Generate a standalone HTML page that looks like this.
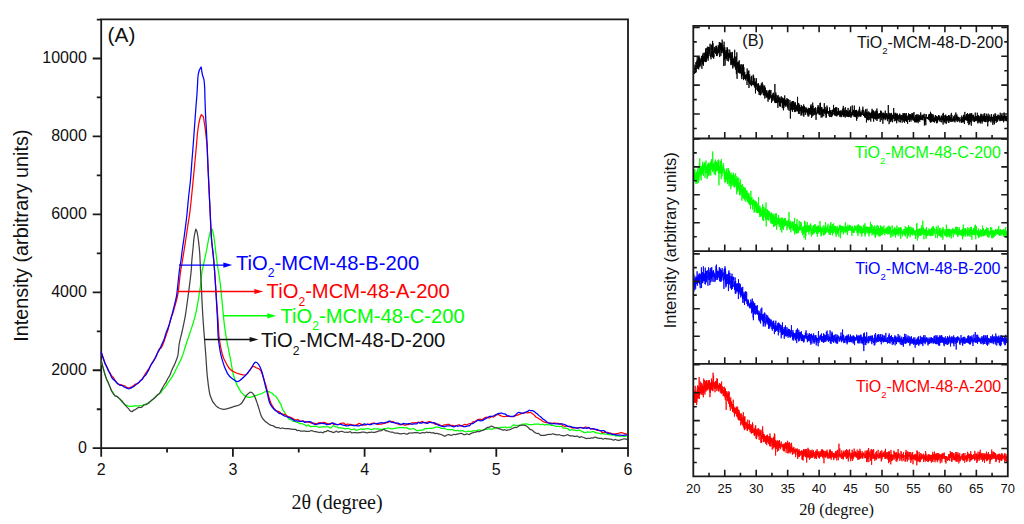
<!DOCTYPE html>
<html><head><meta charset="utf-8"><title>XRD patterns</title>
<style>html,body{margin:0;padding:0;background:#fff;} svg{display:block;}</style></head>
<body><svg width="1024" height="524" viewBox="0 0 1024 524">
<rect width="1024" height="524" fill="#fff"/>
<path d="M101.2,19.4 H628.0 V448.2 H101.2 Z" fill="none" stroke="#1a1a1a" stroke-width="1.8" stroke-linejoin="miter"/>
<path d="M92.70,448.20 H101.2 M96.80,409.23 H101.2 M92.70,370.26 H101.2 M96.80,331.29 H101.2 M92.70,292.32 H101.2 M96.80,253.35 H101.2 M92.70,214.38 H101.2 M96.80,175.41 H101.2 M92.70,136.44 H101.2 M96.80,97.47 H101.2 M92.70,58.50 H101.2 M96.80,19.53 H101.2 M101.20,448.2 V456.70 M167.05,448.2 V452.60 M232.90,448.2 V456.70 M298.75,448.2 V452.60 M364.60,448.2 V456.70 M430.45,448.2 V452.60 M496.30,448.2 V456.70 M562.15,448.2 V452.60 M628.00,448.2 V456.70" stroke="#1a1a1a" stroke-width="1.8" fill="none"/>
<text x="86.8" y="452.80" text-anchor="end" font-family="Liberation Sans" font-size="16" fill="#111">0</text>
<text x="86.8" y="374.86" text-anchor="end" font-family="Liberation Sans" font-size="16" fill="#111">2000</text>
<text x="86.8" y="296.92" text-anchor="end" font-family="Liberation Sans" font-size="16" fill="#111">4000</text>
<text x="86.8" y="218.98" text-anchor="end" font-family="Liberation Sans" font-size="16" fill="#111">6000</text>
<text x="86.8" y="141.04" text-anchor="end" font-family="Liberation Sans" font-size="16" fill="#111">8000</text>
<text x="86.8" y="63.10" text-anchor="end" font-family="Liberation Sans" font-size="16" fill="#111">10000</text>
<text x="101.20" y="474.7" text-anchor="middle" font-family="Liberation Sans" font-size="16" fill="#111">2</text>
<text x="232.90" y="474.7" text-anchor="middle" font-family="Liberation Sans" font-size="16" fill="#111">3</text>
<text x="364.60" y="474.7" text-anchor="middle" font-family="Liberation Sans" font-size="16" fill="#111">4</text>
<text x="496.30" y="474.7" text-anchor="middle" font-family="Liberation Sans" font-size="16" fill="#111">5</text>
<text x="628.00" y="474.7" text-anchor="middle" font-family="Liberation Sans" font-size="16" fill="#111">6</text>
<text transform="translate(28.0,235.6) rotate(-90)" text-anchor="middle" font-family="Liberation Sans" font-size="19.8" fill="#111">Intensity (arbitrary units)</text>
<text x="337" y="508.7" text-anchor="middle" font-family="Liberation Serif" font-size="20" fill="#111">2θ (degree)</text>
<text x="107.6" y="41.7" font-family="Liberation Sans" font-size="20.8" fill="#111">(A)</text>
<g fill="none" stroke-width="1.25" stroke-linejoin="round">
<path d="M101.00,360.00 C101.65,362.34 103.97,370.83 104.90,374.04 C105.83,377.25 106.03,377.81 106.60,379.25 C107.17,380.68 107.73,381.34 108.30,382.64 C108.87,383.94 109.43,385.74 110.00,387.06 C110.57,388.38 111.13,389.57 111.70,390.57 C112.27,391.57 112.83,392.22 113.40,393.06 C113.97,393.89 114.53,394.99 115.10,395.58 C115.67,396.16 116.23,396.20 116.80,396.55 C117.37,396.90 117.93,397.16 118.50,397.67 C119.07,398.19 119.63,398.94 120.20,399.64 C120.77,400.33 121.33,401.23 121.90,401.85 C122.47,402.47 123.03,402.82 123.60,403.35 C124.17,403.87 124.73,404.64 125.30,404.99 C125.87,405.33 126.43,405.24 127.00,405.41 C127.57,405.58 128.13,405.86 128.70,406.03 C129.27,406.19 129.83,406.36 130.40,406.39 C130.97,406.42 131.53,406.27 132.10,406.23 C132.67,406.18 133.23,406.18 133.80,406.11 C134.37,406.04 134.93,405.82 135.50,405.78 C136.07,405.74 136.63,405.89 137.20,405.90 C137.77,405.90 138.33,405.86 138.90,405.81 C139.47,405.76 140.03,405.64 140.60,405.57 C141.17,405.51 141.73,405.63 142.30,405.45 C142.87,405.26 143.43,404.70 144.00,404.48 C144.57,404.25 145.13,404.27 145.70,404.12 C146.27,403.96 146.83,403.74 147.40,403.53 C147.97,403.32 148.53,403.25 149.10,402.86 C149.67,402.46 150.23,401.67 150.80,401.17 C151.37,400.67 151.93,400.40 152.50,399.85 C153.07,399.30 153.63,398.34 154.20,397.85 C154.77,397.37 155.33,397.40 155.90,396.92 C156.47,396.44 157.03,395.57 157.60,394.98 C158.17,394.39 158.73,393.79 159.30,393.39 C159.87,392.99 160.43,393.22 161.00,392.58 C161.57,391.94 162.13,390.29 162.70,389.53 C163.27,388.78 163.83,388.67 164.40,388.05 C164.97,387.44 165.53,386.66 166.10,385.84 C166.67,385.02 167.23,383.99 167.80,383.14 C168.37,382.30 168.93,381.59 169.50,380.76 C170.07,379.93 170.63,379.03 171.20,378.17 C171.77,377.31 172.33,376.60 172.90,375.60 C173.47,374.60 173.10,375.23 174.60,372.17 C176.10,369.10 180.08,361.56 181.90,357.20 C183.72,352.84 184.05,350.37 185.50,346.00 C186.95,341.63 188.98,336.03 190.60,331.00 C192.22,325.97 193.93,320.88 195.20,315.80 C196.47,310.72 197.32,305.58 198.20,300.50 C199.08,295.42 199.87,290.05 200.50,285.30 C201.13,280.55 201.33,276.22 202.00,272.00 C202.67,267.78 203.67,264.00 204.50,260.00 C205.33,256.00 206.28,251.67 207.00,248.00 C207.72,244.33 208.22,240.75 208.80,238.00 C209.38,235.25 210.10,232.90 210.50,231.50 C210.90,230.10 211.02,230.08 211.20,229.60 C211.38,229.12 211.45,228.60 211.60,228.60 C211.75,228.60 211.87,229.03 212.10,229.60 C212.33,230.17 212.60,230.10 213.00,232.00 C213.40,233.90 213.83,236.00 214.50,241.00 C215.17,246.00 216.05,254.98 217.00,262.00 C217.95,269.02 219.32,276.08 220.20,283.10 C221.08,290.12 221.60,297.10 222.30,304.10 C223.00,311.10 223.70,319.27 224.40,325.10 C225.10,330.93 225.52,333.58 226.50,339.10 C227.48,344.62 229.03,351.83 230.30,358.20 C231.57,364.57 232.35,371.73 234.10,377.30 C235.85,382.87 238.42,388.27 240.80,391.60 C243.18,394.93 245.85,396.67 248.40,397.30 C250.95,397.93 253.87,396.03 256.10,395.40 C258.33,394.77 260.22,394.15 261.80,393.50 C263.38,392.85 264.68,391.83 265.60,391.47 C266.52,391.11 266.73,391.33 267.30,391.36 C267.87,391.40 268.43,391.45 269.00,391.68 C269.57,391.91 270.13,392.45 270.70,392.74 C271.27,393.03 271.83,392.97 272.40,393.41 C272.97,393.85 273.53,394.87 274.10,395.36 C274.67,395.84 275.23,395.74 275.80,396.31 C276.37,396.88 276.93,397.86 277.50,398.78 C278.07,399.69 278.63,400.87 279.20,401.82 C279.77,402.77 280.33,403.18 280.90,404.45 C281.47,405.72 282.03,408.19 282.60,409.42 C283.17,410.66 283.73,410.94 284.30,411.85 C284.87,412.76 285.43,414.02 286.00,414.88 C286.57,415.74 287.13,416.25 287.70,417.04 C288.27,417.82 288.83,419.20 289.40,419.61 C289.97,420.03 290.53,419.28 291.10,419.52 C291.67,419.77 292.23,420.78 292.80,421.10 C293.37,421.42 293.93,421.26 294.50,421.44 C295.07,421.61 295.63,421.96 296.20,422.14 C296.77,422.32 297.33,422.30 297.90,422.53 C298.47,422.76 299.03,423.39 299.60,423.55 C300.17,423.71 300.73,423.40 301.30,423.50 C301.87,423.59 302.43,423.90 303.00,424.12 C303.57,424.34 304.13,424.51 304.70,424.82 C305.27,425.14 305.83,426.01 306.40,426.02 C306.97,426.04 307.53,424.88 308.10,424.89 C308.67,424.91 309.23,425.84 309.80,426.13 C310.37,426.42 310.93,426.59 311.50,426.62 C312.07,426.64 312.63,426.31 313.20,426.29 C313.77,426.28 314.33,426.51 314.90,426.52 C315.47,426.53 316.03,426.22 316.60,426.34 C317.17,426.45 317.73,427.10 318.30,427.23 C318.87,427.35 319.43,427.16 320.00,427.11 C320.57,427.06 321.13,426.95 321.70,426.91 C322.27,426.86 322.83,426.85 323.40,426.85 C323.97,426.85 324.53,426.87 325.10,426.90 C325.67,426.92 326.23,427.01 326.80,426.99 C327.37,426.97 327.93,426.61 328.50,426.79 C329.07,426.96 329.63,428.01 330.20,428.05 C330.77,428.09 331.33,427.40 331.90,427.01 C332.47,426.62 333.03,425.79 333.60,425.73 C334.17,425.67 334.73,426.40 335.30,426.64 C335.87,426.88 336.43,427.00 337.00,427.18 C337.57,427.37 338.13,427.65 338.70,427.77 C339.27,427.88 339.83,427.84 340.40,427.88 C340.97,427.92 341.53,427.93 342.10,428.01 C342.67,428.09 343.23,428.20 343.80,428.35 C344.37,428.49 344.93,428.83 345.50,428.87 C346.07,428.90 346.63,428.63 347.20,428.56 C347.77,428.50 348.33,428.32 348.90,428.48 C349.47,428.63 350.03,429.34 350.60,429.52 C351.17,429.69 351.73,429.61 352.30,429.51 C352.87,429.40 353.43,428.78 354.00,428.87 C354.57,428.97 355.13,429.87 355.70,430.07 C356.27,430.27 356.83,430.17 357.40,430.08 C357.97,429.99 358.53,429.70 359.10,429.52 C359.67,429.33 360.23,429.00 360.80,428.98 C361.37,428.96 361.93,429.36 362.50,429.38 C363.07,429.40 363.63,429.20 364.20,429.11 C364.77,429.03 365.33,428.95 365.90,428.87 C366.47,428.79 367.03,428.64 367.60,428.63 C368.17,428.62 368.73,428.66 369.30,428.82 C369.87,428.98 370.43,429.52 371.00,429.59 C371.57,429.66 372.13,429.42 372.70,429.25 C373.27,429.07 373.83,428.57 374.40,428.53 C374.97,428.49 375.53,428.94 376.10,429.01 C376.67,429.08 377.23,428.91 377.80,428.94 C378.37,428.97 378.93,429.11 379.50,429.20 C380.07,429.29 380.63,429.51 381.20,429.48 C381.77,429.44 382.33,429.12 382.90,429.00 C383.47,428.87 384.03,428.78 384.60,428.71 C385.17,428.64 385.73,428.69 386.30,428.56 C386.87,428.44 387.43,427.98 388.00,427.95 C388.57,427.93 389.13,428.24 389.70,428.40 C390.27,428.56 390.83,428.89 391.40,428.93 C391.97,428.98 392.53,428.77 393.10,428.67 C393.67,428.57 394.23,428.42 394.80,428.33 C395.37,428.24 395.93,428.21 396.50,428.12 C397.07,428.04 397.63,427.87 398.20,427.79 C398.77,427.71 399.33,427.63 399.90,427.62 C400.47,427.61 401.03,427.73 401.60,427.74 C402.17,427.75 402.73,427.64 403.30,427.67 C403.87,427.70 404.43,427.91 405.00,427.92 C405.57,427.92 406.13,427.57 406.70,427.69 C407.27,427.80 407.83,428.35 408.40,428.58 C408.97,428.82 409.53,429.03 410.10,429.10 C410.67,429.17 411.23,429.09 411.80,429.00 C412.37,428.92 412.93,428.50 413.50,428.58 C414.07,428.66 414.63,429.16 415.20,429.49 C415.77,429.83 416.33,430.43 416.90,430.59 C417.47,430.74 418.03,430.43 418.60,430.41 C419.17,430.38 419.73,430.48 420.30,430.42 C420.87,430.36 421.43,430.16 422.00,430.04 C422.57,429.91 423.13,429.93 423.70,429.66 C424.27,429.40 424.83,428.59 425.40,428.43 C425.97,428.28 426.53,428.76 427.10,428.73 C427.67,428.70 428.23,428.30 428.80,428.25 C429.37,428.21 429.93,428.50 430.50,428.48 C431.07,428.46 431.63,428.27 432.20,428.16 C432.77,428.05 433.33,428.02 433.90,427.85 C434.47,427.67 435.03,427.24 435.60,427.12 C436.17,427.00 436.73,427.07 437.30,427.11 C437.87,427.15 438.43,427.20 439.00,427.36 C439.57,427.52 440.13,427.87 440.70,428.05 C441.27,428.22 441.83,428.35 442.40,428.40 C442.97,428.45 443.53,428.24 444.10,428.34 C444.67,428.43 445.23,428.73 445.80,428.96 C446.37,429.18 446.93,429.57 447.50,429.69 C448.07,429.82 448.63,429.70 449.20,429.69 C449.77,429.68 450.33,429.62 450.90,429.62 C451.47,429.62 452.03,429.57 452.60,429.70 C453.17,429.83 453.73,430.21 454.30,430.39 C454.87,430.56 455.43,430.75 456.00,430.74 C456.57,430.74 457.13,430.35 457.70,430.37 C458.27,430.38 458.83,430.76 459.40,430.83 C459.97,430.90 460.53,430.80 461.10,430.77 C461.67,430.74 462.23,430.54 462.80,430.66 C463.37,430.79 463.93,431.34 464.50,431.53 C465.07,431.72 465.63,431.87 466.20,431.82 C466.77,431.78 467.33,431.36 467.90,431.27 C468.47,431.18 469.03,431.26 469.60,431.28 C470.17,431.31 470.73,431.48 471.30,431.41 C471.87,431.35 472.43,431.00 473.00,430.89 C473.57,430.78 474.13,430.74 474.70,430.75 C475.27,430.75 475.83,431.08 476.40,430.92 C476.97,430.77 477.53,429.96 478.10,429.81 C478.67,429.67 479.23,429.97 479.80,430.05 C480.37,430.12 480.93,430.24 481.50,430.26 C482.07,430.29 482.63,430.35 483.20,430.18 C483.77,430.01 484.33,429.36 484.90,429.22 C485.47,429.08 486.03,429.42 486.60,429.35 C487.17,429.28 487.73,428.85 488.30,428.79 C488.87,428.74 489.43,428.98 490.00,429.02 C490.57,429.07 491.13,429.10 491.70,429.06 C492.27,429.03 492.83,428.96 493.40,428.80 C493.97,428.64 494.53,428.29 495.10,428.11 C495.67,427.93 496.23,427.72 496.80,427.70 C497.37,427.69 497.93,428.09 498.50,428.03 C499.07,427.96 499.63,427.41 500.20,427.31 C500.77,427.22 501.33,427.43 501.90,427.46 C502.47,427.48 503.03,427.52 503.60,427.45 C504.17,427.37 504.73,426.92 505.30,426.98 C505.87,427.05 506.43,427.80 507.00,427.83 C507.57,427.86 508.13,427.19 508.70,427.15 C509.27,427.12 509.83,427.82 510.40,427.61 C510.97,427.41 511.53,426.38 512.10,425.90 C512.67,425.43 513.23,424.83 513.80,424.77 C514.37,424.70 514.93,425.36 515.50,425.51 C516.07,425.66 516.63,425.72 517.20,425.69 C517.77,425.65 518.33,425.38 518.90,425.29 C519.47,425.20 520.03,425.32 520.60,425.13 C521.17,424.94 521.73,424.32 522.30,424.16 C522.87,423.99 523.43,424.18 524.00,424.14 C524.57,424.10 525.13,423.91 525.70,423.90 C526.27,423.90 526.83,423.97 527.40,424.10 C527.97,424.22 528.53,424.59 529.10,424.67 C529.67,424.75 530.23,424.58 530.80,424.57 C531.37,424.57 531.93,424.71 532.50,424.64 C533.07,424.57 533.63,424.28 534.20,424.18 C534.77,424.07 535.33,424.03 535.90,424.03 C536.47,424.03 537.03,424.18 537.60,424.19 C538.17,424.20 538.73,424.00 539.30,424.09 C539.87,424.18 540.43,424.72 541.00,424.73 C541.57,424.73 542.13,424.06 542.70,424.12 C543.27,424.17 543.83,425.01 544.40,425.04 C544.97,425.07 545.53,424.32 546.10,424.29 C546.67,424.26 547.23,424.83 547.80,424.86 C548.37,424.88 548.93,424.33 549.50,424.42 C550.07,424.51 550.63,425.22 551.20,425.39 C551.77,425.55 552.33,425.33 552.90,425.39 C553.47,425.46 554.03,425.60 554.60,425.77 C555.17,425.94 555.73,426.31 556.30,426.42 C556.87,426.53 557.43,426.41 558.00,426.43 C558.57,426.45 559.13,426.53 559.70,426.52 C560.27,426.50 560.83,426.11 561.40,426.34 C561.97,426.56 562.53,427.58 563.10,427.86 C563.67,428.14 564.23,427.94 564.80,428.01 C565.37,428.09 565.93,428.17 566.50,428.32 C567.07,428.47 567.63,428.58 568.20,428.91 C568.77,429.23 569.33,430.19 569.90,430.28 C570.47,430.38 571.03,429.54 571.60,429.50 C572.17,429.46 572.73,429.94 573.30,430.06 C573.87,430.17 574.43,430.06 575.00,430.17 C575.57,430.28 576.13,430.75 576.70,430.74 C577.27,430.73 577.83,430.14 578.40,430.09 C578.97,430.05 579.53,430.25 580.10,430.45 C580.67,430.65 581.23,431.00 581.80,431.29 C582.37,431.57 582.93,431.91 583.50,432.15 C584.07,432.39 584.63,432.74 585.20,432.72 C585.77,432.70 586.33,432.11 586.90,432.01 C587.47,431.91 588.03,432.09 588.60,432.12 C589.17,432.15 589.73,432.26 590.30,432.20 C590.87,432.14 591.43,431.87 592.00,431.77 C592.57,431.67 593.13,431.46 593.70,431.60 C594.27,431.73 594.83,432.35 595.40,432.59 C595.97,432.82 596.53,432.90 597.10,433.00 C597.67,433.09 598.23,432.99 598.80,433.14 C599.37,433.29 599.93,433.87 600.50,433.92 C601.07,433.97 601.63,433.44 602.20,433.45 C602.77,433.45 603.33,433.85 603.90,433.96 C604.47,434.07 605.03,434.05 605.60,434.10 C606.17,434.14 606.73,434.14 607.30,434.22 C607.87,434.31 608.43,434.53 609.00,434.62 C609.57,434.71 610.13,434.71 610.70,434.77 C611.27,434.83 611.83,434.90 612.40,434.96 C612.97,435.03 613.53,434.96 614.10,435.14 C614.67,435.33 615.23,435.99 615.80,436.07 C616.37,436.15 616.93,435.63 617.50,435.63 C618.07,435.63 618.63,435.97 619.20,436.06 C619.77,436.15 620.33,436.21 620.90,436.18 C621.47,436.15 622.03,435.87 622.60,435.89 C623.17,435.91 623.73,436.32 624.30,436.31 C624.87,436.31 625.55,435.91 626.00,435.88 C626.45,435.84 626.83,436.06 627.00,436.10" stroke="#00ff00"/>
<path d="M101.00,360.00 C101.65,362.40 103.97,371.20 104.90,374.42 C105.83,377.63 106.03,377.86 106.60,379.28 C107.17,380.71 107.73,381.70 108.30,382.99 C108.87,384.29 109.43,385.70 110.00,387.06 C110.57,388.43 111.13,390.05 111.70,391.17 C112.27,392.29 112.83,392.98 113.40,393.77 C113.97,394.56 114.53,395.47 115.10,395.91 C115.67,396.34 116.23,396.06 116.80,396.38 C117.37,396.69 117.93,397.32 118.50,397.80 C119.07,398.28 119.63,398.73 120.20,399.26 C120.77,399.79 121.33,400.35 121.90,401.00 C122.47,401.64 123.03,402.41 123.60,403.11 C124.17,403.81 124.73,404.55 125.30,405.21 C125.87,405.88 126.43,406.49 127.00,407.10 C127.57,407.72 128.13,408.23 128.70,408.88 C129.27,409.54 129.83,410.59 130.40,411.04 C130.97,411.48 131.53,411.70 132.10,411.55 C132.67,411.40 133.23,410.48 133.80,410.14 C134.37,409.79 134.93,409.79 135.50,409.47 C136.07,409.15 136.63,408.56 137.20,408.20 C137.77,407.85 138.33,407.46 138.90,407.35 C139.47,407.23 140.03,407.63 140.60,407.51 C141.17,407.39 141.73,407.06 142.30,406.65 C142.87,406.24 143.43,405.38 144.00,405.06 C144.57,404.74 145.13,404.96 145.70,404.74 C146.27,404.53 146.83,404.18 147.40,403.77 C147.97,403.35 148.53,402.75 149.10,402.28 C149.67,401.81 150.23,401.39 150.80,400.94 C151.37,400.50 151.93,400.05 152.50,399.61 C153.07,399.17 153.63,398.83 154.20,398.31 C154.77,397.80 155.33,397.11 155.90,396.53 C156.47,395.94 157.03,395.29 157.60,394.80 C158.17,394.31 158.73,394.29 159.30,393.59 C159.87,392.88 160.43,391.58 161.00,390.58 C161.57,389.57 162.13,388.56 162.70,387.57 C163.27,386.57 163.83,385.54 164.40,384.63 C164.97,383.72 165.53,383.13 166.10,382.10 C166.67,381.07 167.23,379.47 167.80,378.44 C168.37,377.41 168.93,377.05 169.50,375.93 C170.07,374.81 170.63,373.09 171.20,371.74 C171.77,370.38 172.33,369.03 172.90,367.78 C173.47,366.54 173.77,366.37 174.60,364.29 C175.43,362.21 177.13,358.68 177.90,355.30 C178.67,351.92 178.48,348.05 179.20,344.00 C179.92,339.95 181.18,335.70 182.20,331.00 C183.22,326.30 184.42,320.88 185.30,315.80 C186.18,310.72 186.80,305.58 187.50,300.50 C188.20,295.42 188.88,290.22 189.50,285.30 C190.12,280.38 190.82,275.05 191.20,271.00 C191.58,266.95 191.52,264.58 191.80,261.00 C192.08,257.42 192.53,253.33 192.90,249.50 C193.27,245.67 193.65,240.83 194.00,238.00 C194.35,235.17 194.75,233.78 195.00,232.50 C195.25,231.22 195.35,230.85 195.50,230.30 C195.65,229.75 195.75,229.20 195.90,229.20 C196.05,229.20 196.17,229.67 196.40,230.30 C196.63,230.93 196.95,231.22 197.30,233.00 C197.65,234.78 198.10,237.67 198.50,241.00 C198.90,244.33 199.37,248.17 199.70,253.00 C200.03,257.83 200.23,264.62 200.50,270.00 C200.77,275.38 201.05,280.22 201.30,285.30 C201.55,290.38 201.75,295.42 202.00,300.50 C202.25,305.58 202.48,310.72 202.80,315.80 C203.12,320.88 203.52,325.92 203.90,331.00 C204.28,336.08 204.75,341.80 205.10,346.30 C205.45,350.80 205.62,352.88 206.00,358.00 C206.38,363.12 206.68,370.67 207.40,377.00 C208.12,383.33 208.87,391.18 210.30,396.00 C211.73,400.82 213.78,403.68 216.00,405.90 C218.22,408.12 220.73,409.15 223.60,409.30 C226.47,409.45 230.33,407.68 233.20,406.80 C236.07,405.92 238.58,405.90 240.80,404.00 C243.02,402.10 244.82,397.38 246.50,395.40 C248.18,393.42 249.62,392.10 250.90,392.10 C252.18,392.10 253.05,393.25 254.20,395.40 C255.35,397.55 256.58,401.48 257.80,405.00 C259.02,408.52 260.30,413.80 261.50,416.50 C262.70,419.20 264.13,420.22 265.00,421.21 C265.87,422.21 266.13,422.03 266.70,422.47 C267.27,422.90 267.83,423.42 268.40,423.83 C268.97,424.23 269.53,424.62 270.10,424.90 C270.67,425.18 271.23,425.34 271.80,425.51 C272.37,425.68 272.93,425.66 273.50,425.93 C274.07,426.20 274.63,426.85 275.20,427.12 C275.77,427.39 276.33,427.45 276.90,427.54 C277.47,427.63 278.03,427.50 278.60,427.66 C279.17,427.82 279.73,428.43 280.30,428.50 C280.87,428.57 281.43,428.09 282.00,428.06 C282.57,428.03 283.13,428.21 283.70,428.31 C284.27,428.42 284.83,428.64 285.40,428.70 C285.97,428.76 286.53,428.70 287.10,428.68 C287.67,428.65 288.23,428.47 288.80,428.54 C289.37,428.60 289.93,428.97 290.50,429.07 C291.07,429.18 291.63,429.12 292.20,429.17 C292.77,429.22 293.33,429.34 293.90,429.38 C294.47,429.43 295.03,429.24 295.60,429.44 C296.17,429.64 296.73,430.43 297.30,430.59 C297.87,430.75 298.43,430.31 299.00,430.40 C299.57,430.49 300.13,430.98 300.70,431.11 C301.27,431.25 301.83,431.22 302.40,431.19 C302.97,431.17 303.53,430.96 304.10,430.98 C304.67,431.00 305.23,431.26 305.80,431.32 C306.37,431.38 306.93,431.34 307.50,431.35 C308.07,431.35 308.63,431.44 309.20,431.32 C309.77,431.21 310.33,430.72 310.90,430.66 C311.47,430.60 312.03,430.82 312.60,430.97 C313.17,431.11 313.73,431.41 314.30,431.54 C314.87,431.66 315.43,431.62 316.00,431.70 C316.57,431.78 317.13,431.91 317.70,432.04 C318.27,432.17 318.83,432.44 319.40,432.47 C319.97,432.51 320.53,432.18 321.10,432.24 C321.67,432.30 322.23,432.94 322.80,432.84 C323.37,432.73 323.93,431.83 324.50,431.61 C325.07,431.39 325.63,431.72 326.20,431.53 C326.77,431.34 327.33,430.49 327.90,430.47 C328.47,430.46 329.03,431.23 329.60,431.42 C330.17,431.62 330.73,431.46 331.30,431.64 C331.87,431.82 332.43,432.43 333.00,432.51 C333.57,432.58 334.13,432.32 334.70,432.10 C335.27,431.87 335.83,431.15 336.40,431.16 C336.97,431.17 337.53,432.10 338.10,432.17 C338.67,432.24 339.23,431.73 339.80,431.59 C340.37,431.45 340.93,431.32 341.50,431.34 C342.07,431.36 342.63,431.56 343.20,431.73 C343.77,431.89 344.33,432.26 344.90,432.33 C345.47,432.41 346.03,432.16 346.60,432.17 C347.17,432.19 347.73,432.51 348.30,432.42 C348.87,432.32 349.43,431.56 350.00,431.62 C350.57,431.69 351.13,432.64 351.70,432.81 C352.27,432.98 352.83,432.68 353.40,432.65 C353.97,432.62 354.53,432.61 355.10,432.64 C355.67,432.67 356.23,432.82 356.80,432.84 C357.37,432.85 357.93,432.76 358.50,432.74 C359.07,432.71 359.63,432.78 360.20,432.68 C360.77,432.58 361.33,432.21 361.90,432.12 C362.47,432.03 363.03,432.10 363.60,432.15 C364.17,432.19 364.73,432.28 365.30,432.38 C365.87,432.48 366.43,432.75 367.00,432.75 C367.57,432.75 368.13,432.48 368.70,432.39 C369.27,432.31 369.83,432.28 370.40,432.26 C370.97,432.23 371.53,432.24 372.10,432.25 C372.67,432.25 373.23,432.31 373.80,432.27 C374.37,432.24 374.93,432.15 375.50,432.03 C376.07,431.91 376.63,431.73 377.20,431.55 C377.77,431.38 378.33,431.09 378.90,430.99 C379.47,430.89 380.03,431.09 380.60,430.95 C381.17,430.81 381.73,430.39 382.30,430.13 C382.87,429.86 383.43,429.27 384.00,429.36 C384.57,429.46 385.13,430.44 385.70,430.69 C386.27,430.95 386.83,430.72 387.40,430.87 C387.97,431.03 388.53,431.40 389.10,431.62 C389.67,431.84 390.23,432.11 390.80,432.20 C391.37,432.28 391.93,431.98 392.50,432.12 C393.07,432.25 393.63,432.86 394.20,433.01 C394.77,433.16 395.33,432.99 395.90,433.00 C396.47,433.02 397.03,432.99 397.60,433.09 C398.17,433.19 398.73,433.46 399.30,433.58 C399.87,433.71 400.43,433.84 401.00,433.84 C401.57,433.85 402.13,433.70 402.70,433.62 C403.27,433.55 403.83,433.30 404.40,433.38 C404.97,433.47 405.53,434.07 406.10,434.15 C406.67,434.22 407.23,434.04 407.80,433.83 C408.37,433.62 408.93,433.01 409.50,432.89 C410.07,432.76 410.63,433.10 411.20,433.11 C411.77,433.11 412.33,432.97 412.90,432.90 C413.47,432.83 414.03,432.70 414.60,432.68 C415.17,432.67 415.73,432.81 416.30,432.81 C416.87,432.80 417.43,432.55 418.00,432.64 C418.57,432.72 419.13,433.28 419.70,433.31 C420.27,433.35 420.83,432.98 421.40,432.86 C421.97,432.74 422.53,432.60 423.10,432.59 C423.67,432.58 424.23,432.89 424.80,432.82 C425.37,432.75 425.93,432.22 426.50,432.17 C427.07,432.13 427.63,432.52 428.20,432.55 C428.77,432.58 429.33,432.29 429.90,432.36 C430.47,432.42 431.03,432.89 431.60,432.95 C432.17,433.00 432.73,432.61 433.30,432.71 C433.87,432.81 434.43,433.43 435.00,433.54 C435.57,433.64 436.13,433.29 436.70,433.34 C437.27,433.38 437.83,433.64 438.40,433.79 C438.97,433.94 439.53,434.08 440.10,434.24 C440.67,434.39 441.23,434.49 441.80,434.73 C442.37,434.98 442.93,435.45 443.50,435.69 C444.07,435.93 444.63,436.27 445.20,436.15 C445.77,436.03 446.33,435.24 446.90,434.97 C447.47,434.70 448.03,434.52 448.60,434.56 C449.17,434.60 449.73,435.11 450.30,435.21 C450.87,435.31 451.43,435.32 452.00,435.17 C452.57,435.02 453.13,434.40 453.70,434.31 C454.27,434.22 454.83,434.68 455.40,434.64 C455.97,434.59 456.53,434.19 457.10,434.05 C457.67,433.91 458.23,433.90 458.80,433.79 C459.37,433.69 459.93,433.45 460.50,433.41 C461.07,433.37 461.63,433.36 462.20,433.58 C462.77,433.79 463.33,434.57 463.90,434.71 C464.47,434.85 465.03,434.53 465.60,434.39 C466.17,434.26 466.73,433.85 467.30,433.89 C467.87,433.93 468.43,434.71 469.00,434.65 C469.57,434.60 470.13,433.86 470.70,433.57 C471.27,433.29 471.83,433.15 472.40,432.94 C472.97,432.74 473.53,432.49 474.10,432.35 C474.67,432.22 475.23,432.28 475.80,432.13 C476.37,431.99 476.93,431.55 477.50,431.47 C478.07,431.40 478.63,431.80 479.20,431.69 C479.77,431.58 480.33,431.02 480.90,430.81 C481.47,430.61 482.03,430.64 482.60,430.46 C483.17,430.28 483.73,430.06 484.30,429.73 C484.87,429.40 485.43,428.85 486.00,428.47 C486.57,428.09 487.13,427.67 487.70,427.45 C488.27,427.23 488.83,427.39 489.40,427.16 C489.97,426.92 490.53,426.11 491.10,426.03 C491.67,425.95 492.23,426.45 492.80,426.66 C493.37,426.87 493.93,427.09 494.50,427.30 C495.07,427.50 495.63,427.74 496.20,427.90 C496.77,428.07 497.33,428.11 497.90,428.29 C498.47,428.46 499.03,428.79 499.60,428.96 C500.17,429.13 500.73,429.11 501.30,429.32 C501.87,429.52 502.43,430.11 503.00,430.17 C503.57,430.24 504.13,429.65 504.70,429.70 C505.27,429.75 505.83,430.45 506.40,430.47 C506.97,430.49 507.53,429.93 508.10,429.80 C508.67,429.68 509.23,429.86 509.80,429.71 C510.37,429.56 510.93,429.15 511.50,428.88 C512.07,428.62 512.63,428.39 513.20,428.13 C513.77,427.87 514.33,427.41 514.90,427.31 C515.47,427.22 516.03,427.74 516.60,427.57 C517.17,427.41 517.73,426.69 518.30,426.32 C518.87,425.96 519.43,425.55 520.00,425.37 C520.57,425.19 521.13,425.30 521.70,425.25 C522.27,425.19 522.83,425.03 523.40,425.05 C523.97,425.07 524.53,425.16 525.10,425.36 C525.67,425.56 526.23,425.87 526.80,426.27 C527.37,426.67 527.93,427.22 528.50,427.76 C529.07,428.29 529.63,429.09 530.20,429.46 C530.77,429.82 531.33,429.63 531.90,429.96 C532.47,430.29 533.03,430.97 533.60,431.43 C534.17,431.88 534.73,432.35 535.30,432.69 C535.87,433.03 536.43,433.32 537.00,433.47 C537.57,433.61 538.13,433.28 538.70,433.56 C539.27,433.85 539.83,434.89 540.40,435.18 C540.97,435.48 541.53,435.30 542.10,435.34 C542.67,435.37 543.23,435.45 543.80,435.41 C544.37,435.37 544.93,435.25 545.50,435.10 C546.07,434.96 546.63,434.67 547.20,434.56 C547.77,434.45 548.33,434.46 548.90,434.45 C549.47,434.43 550.03,434.57 550.60,434.49 C551.17,434.41 551.73,434.03 552.30,433.97 C552.87,433.91 553.43,433.99 554.00,434.11 C554.57,434.24 555.13,434.60 555.70,434.72 C556.27,434.84 556.83,434.83 557.40,434.83 C557.97,434.83 558.53,434.65 559.10,434.72 C559.67,434.80 560.23,435.12 560.80,435.27 C561.37,435.41 561.93,435.50 562.50,435.60 C563.07,435.70 563.63,435.91 564.20,435.87 C564.77,435.83 565.33,435.55 565.90,435.36 C566.47,435.17 567.03,434.67 567.60,434.72 C568.17,434.76 568.73,435.43 569.30,435.63 C569.87,435.82 570.43,435.83 571.00,435.88 C571.57,435.93 572.13,435.82 572.70,435.90 C573.27,435.98 573.83,436.30 574.40,436.37 C574.97,436.43 575.53,436.30 576.10,436.28 C576.67,436.25 577.23,436.05 577.80,436.23 C578.37,436.41 578.93,437.31 579.50,437.37 C580.07,437.42 580.63,436.56 581.20,436.55 C581.77,436.53 582.33,437.05 582.90,437.26 C583.47,437.46 584.03,437.59 584.60,437.80 C585.17,438.00 585.73,438.42 586.30,438.51 C586.87,438.59 587.43,438.31 588.00,438.28 C588.57,438.26 589.13,438.42 589.70,438.34 C590.27,438.26 590.83,437.86 591.40,437.81 C591.97,437.75 592.53,438.10 593.10,438.00 C593.67,437.91 594.23,437.30 594.80,437.23 C595.37,437.15 595.93,437.42 596.50,437.55 C597.07,437.69 597.63,437.91 598.20,438.04 C598.77,438.17 599.33,438.28 599.90,438.34 C600.47,438.40 601.03,438.25 601.60,438.39 C602.17,438.54 602.73,439.20 603.30,439.21 C603.87,439.23 604.43,438.53 605.00,438.48 C605.57,438.42 606.13,438.81 606.70,438.89 C607.27,438.96 607.83,438.86 608.40,438.90 C608.97,438.94 609.53,439.07 610.10,439.13 C610.67,439.20 611.23,439.10 611.80,439.28 C612.37,439.47 612.93,440.21 613.50,440.23 C614.07,440.25 614.63,439.44 615.20,439.41 C615.77,439.38 616.33,439.88 616.90,440.05 C617.47,440.22 618.03,440.45 618.60,440.44 C619.17,440.42 619.73,440.12 620.30,439.97 C620.87,439.81 621.43,439.67 622.00,439.50 C622.57,439.34 623.13,439.09 623.70,438.98 C624.27,438.88 624.85,438.77 625.40,438.88 C625.95,438.98 626.73,439.48 627.00,439.60" stroke="#404040"/>
<path d="M101.00,351.50 C101.65,353.33 103.97,360.01 104.90,362.47 C105.83,364.93 106.03,364.92 106.60,366.27 C107.17,367.61 107.73,369.47 108.30,370.56 C108.87,371.64 109.43,371.89 110.00,372.78 C110.57,373.67 111.13,375.12 111.70,375.90 C112.27,376.68 112.83,376.69 113.40,377.47 C113.97,378.26 114.53,379.77 115.10,380.61 C115.67,381.46 116.23,381.90 116.80,382.56 C117.37,383.21 117.93,384.16 118.50,384.52 C119.07,384.88 119.63,384.61 120.20,384.72 C120.77,384.82 121.33,385.02 121.90,385.15 C122.47,385.28 123.03,385.30 123.60,385.50 C124.17,385.69 124.73,385.95 125.30,386.31 C125.87,386.66 126.43,387.36 127.00,387.63 C127.57,387.90 128.13,387.97 128.70,387.93 C129.27,387.88 129.83,387.53 130.40,387.34 C130.97,387.14 131.53,387.07 132.10,386.76 C132.67,386.45 133.23,385.95 133.80,385.50 C134.37,385.05 134.93,384.31 135.50,384.07 C136.07,383.82 136.63,384.28 137.20,384.02 C137.77,383.76 138.33,383.07 138.90,382.50 C139.47,381.93 140.03,381.22 140.60,380.61 C141.17,379.99 141.73,379.55 142.30,378.81 C142.87,378.06 143.43,377.03 144.00,376.13 C144.57,375.22 145.13,374.32 145.70,373.38 C146.27,372.45 146.83,371.32 147.40,370.52 C147.97,369.71 148.53,369.43 149.10,368.54 C149.67,367.66 150.23,366.28 150.80,365.23 C151.37,364.17 151.93,363.19 152.50,362.22 C153.07,361.26 153.63,360.32 154.20,359.43 C154.77,358.55 155.33,358.02 155.90,356.89 C156.47,355.76 157.03,354.00 157.60,352.66 C158.17,351.32 158.73,349.60 159.30,348.85 C159.87,348.10 160.43,348.77 161.00,348.14 C161.57,347.52 162.13,346.40 162.70,345.11 C163.27,343.83 163.83,342.09 164.40,340.44 C164.97,338.79 165.53,336.92 166.10,335.23 C166.67,333.54 167.23,332.19 167.80,330.30 C168.37,328.41 168.93,326.02 169.50,323.89 C170.07,321.76 170.63,319.33 171.20,317.51 C171.77,315.69 172.33,314.70 172.90,312.98 C173.47,311.26 173.77,310.33 174.60,307.18 C175.43,304.04 176.92,299.96 177.90,294.10 C178.88,288.24 179.75,277.52 180.50,272.00 C181.25,266.48 181.77,264.83 182.40,261.00 C183.03,257.17 183.70,252.83 184.30,249.00 C184.90,245.17 185.43,241.75 186.00,238.00 C186.57,234.25 187.12,230.33 187.70,226.50 C188.28,222.67 189.00,218.58 189.50,215.00 C190.00,211.42 190.12,210.50 190.70,205.00 C191.28,199.50 192.27,189.50 193.00,182.00 C193.73,174.50 194.52,166.17 195.10,160.00 C195.68,153.83 196.13,149.17 196.50,145.00 C196.87,140.83 196.98,138.17 197.30,135.00 C197.62,131.83 197.98,128.67 198.40,126.00 C198.82,123.33 199.38,120.73 199.80,119.00 C200.22,117.27 200.63,116.32 200.90,115.60 C201.17,114.88 201.22,114.73 201.40,114.70 C201.58,114.67 201.68,115.05 202.00,115.40 C202.32,115.75 202.88,115.37 203.30,116.80 C203.72,118.23 204.12,121.52 204.50,124.00 C204.88,126.48 205.28,129.15 205.60,131.70 C205.92,134.25 206.15,136.92 206.40,139.30 C206.65,141.68 206.88,142.55 207.10,146.00 C207.32,149.45 207.45,154.33 207.70,160.00 C207.95,165.67 208.25,172.50 208.60,180.00 C208.95,187.50 209.42,197.00 209.80,205.00 C210.18,213.00 210.60,222.17 210.90,228.00 C211.20,233.83 211.10,234.33 211.60,240.00 C212.10,245.67 213.27,254.82 213.90,262.00 C214.53,269.18 214.92,276.10 215.40,283.10 C215.88,290.10 216.37,297.85 216.80,304.00 C217.23,310.15 217.58,314.17 218.00,320.00 C218.42,325.83 218.55,333.17 219.30,339.00 C220.05,344.83 221.47,351.17 222.50,355.00 C223.53,358.83 224.42,359.83 225.50,362.00 C226.58,364.17 227.72,366.42 229.00,368.00 C230.28,369.58 231.23,370.43 233.20,371.50 C235.17,372.57 238.58,373.92 240.80,374.40 C243.02,374.88 244.58,375.67 246.50,374.40 C248.42,373.13 250.70,367.92 252.30,366.80 C253.90,365.68 254.68,367.07 256.10,367.70 C257.52,368.33 259.22,367.80 260.80,370.60 C262.38,373.40 264.52,381.13 265.60,384.52 C266.68,387.91 266.73,388.79 267.30,390.94 C267.87,393.09 268.43,395.43 269.00,397.41 C269.57,399.39 270.13,401.41 270.70,402.82 C271.27,404.22 271.83,404.88 272.40,405.85 C272.97,406.81 273.53,407.84 274.10,408.62 C274.67,409.40 275.23,410.08 275.80,410.51 C276.37,410.94 276.93,410.96 277.50,411.19 C278.07,411.41 278.63,411.50 279.20,411.84 C279.77,412.17 280.33,412.81 280.90,413.20 C281.47,413.59 282.03,413.99 282.60,414.18 C283.17,414.37 283.73,414.22 284.30,414.36 C284.87,414.50 285.43,414.68 286.00,415.02 C286.57,415.36 287.13,416.06 287.70,416.38 C288.27,416.71 288.83,416.76 289.40,416.96 C289.97,417.15 290.53,417.29 291.10,417.55 C291.67,417.81 292.23,418.23 292.80,418.52 C293.37,418.81 293.93,419.04 294.50,419.28 C295.07,419.51 295.63,419.90 296.20,419.93 C296.77,419.97 297.33,419.32 297.90,419.49 C298.47,419.67 299.03,420.69 299.60,420.97 C300.17,421.25 300.73,421.19 301.30,421.18 C301.87,421.16 302.43,420.81 303.00,420.88 C303.57,420.96 304.13,421.47 304.70,421.62 C305.27,421.78 305.83,421.76 306.40,421.79 C306.97,421.82 307.53,421.71 308.10,421.81 C308.67,421.90 309.23,422.10 309.80,422.33 C310.37,422.57 310.93,423.11 311.50,423.22 C312.07,423.34 312.63,422.98 313.20,423.01 C313.77,423.04 314.33,423.26 314.90,423.43 C315.47,423.59 316.03,424.07 316.60,423.98 C317.17,423.90 317.73,423.15 318.30,422.92 C318.87,422.69 319.43,422.59 320.00,422.62 C320.57,422.65 321.13,423.15 321.70,423.09 C322.27,423.04 322.83,422.38 323.40,422.29 C323.97,422.20 324.53,422.35 325.10,422.55 C325.67,422.74 326.23,423.22 326.80,423.44 C327.37,423.66 327.93,423.79 328.50,423.87 C329.07,423.96 329.63,424.11 330.20,423.95 C330.77,423.80 331.33,422.87 331.90,422.94 C332.47,423.00 333.03,424.10 333.60,424.34 C334.17,424.57 334.73,424.32 335.30,424.35 C335.87,424.38 336.43,424.48 337.00,424.50 C337.57,424.53 338.13,424.67 338.70,424.51 C339.27,424.36 339.83,423.79 340.40,423.57 C340.97,423.36 341.53,423.29 342.10,423.23 C342.67,423.16 343.23,422.95 343.80,423.18 C344.37,423.41 344.93,424.44 345.50,424.61 C346.07,424.79 346.63,424.26 347.20,424.21 C347.77,424.16 348.33,424.27 348.90,424.29 C349.47,424.32 350.03,424.29 350.60,424.38 C351.17,424.47 351.73,424.73 352.30,424.86 C352.87,424.98 353.43,425.08 354.00,425.14 C354.57,425.21 355.13,425.33 355.70,425.23 C356.27,425.14 356.83,424.91 357.40,424.60 C357.97,424.28 358.53,423.44 359.10,423.36 C359.67,423.28 360.23,423.92 360.80,424.11 C361.37,424.31 361.93,424.35 362.50,424.52 C363.07,424.69 363.63,425.08 364.20,425.13 C364.77,425.18 365.33,424.94 365.90,424.81 C366.47,424.68 367.03,424.40 367.60,424.34 C368.17,424.29 368.73,424.61 369.30,424.48 C369.87,424.36 370.43,423.81 371.00,423.61 C371.57,423.42 372.13,423.39 372.70,423.30 C373.27,423.21 373.83,423.05 374.40,423.08 C374.97,423.11 375.53,423.25 376.10,423.48 C376.67,423.70 377.23,424.31 377.80,424.44 C378.37,424.57 378.93,424.29 379.50,424.25 C380.07,424.21 380.63,424.30 381.20,424.21 C381.77,424.11 382.33,423.82 382.90,423.67 C383.47,423.53 384.03,423.47 384.60,423.32 C385.17,423.17 385.73,422.89 386.30,422.75 C386.87,422.62 387.43,422.73 388.00,422.51 C388.57,422.30 389.13,421.63 389.70,421.47 C390.27,421.31 390.83,421.51 391.40,421.55 C391.97,421.59 392.53,421.47 393.10,421.68 C393.67,421.90 394.23,422.54 394.80,422.84 C395.37,423.15 395.93,423.30 396.50,423.53 C397.07,423.76 397.63,424.00 398.20,424.22 C398.77,424.44 399.33,424.83 399.90,424.86 C400.47,424.89 401.03,424.42 401.60,424.39 C402.17,424.37 402.73,424.57 403.30,424.71 C403.87,424.85 404.43,425.25 405.00,425.23 C405.57,425.20 406.13,424.66 406.70,424.56 C407.27,424.46 407.83,424.70 408.40,424.61 C408.97,424.51 409.53,424.27 410.10,423.98 C410.67,423.70 411.23,423.06 411.80,422.90 C412.37,422.73 412.93,423.05 413.50,422.99 C414.07,422.92 414.63,422.59 415.20,422.52 C415.77,422.46 416.33,422.64 416.90,422.61 C417.47,422.58 418.03,422.36 418.60,422.33 C419.17,422.31 419.73,422.64 420.30,422.48 C420.87,422.33 421.43,421.38 422.00,421.40 C422.57,421.41 423.13,422.35 423.70,422.59 C424.27,422.83 424.83,422.91 425.40,422.84 C425.97,422.78 426.53,422.39 427.10,422.18 C427.67,421.97 428.23,421.65 428.80,421.59 C429.37,421.52 429.93,421.63 430.50,421.78 C431.07,421.93 431.63,422.22 432.20,422.48 C432.77,422.74 433.33,423.03 433.90,423.34 C434.47,423.64 435.03,424.20 435.60,424.32 C436.17,424.44 436.73,424.07 437.30,424.06 C437.87,424.05 438.43,424.01 439.00,424.25 C439.57,424.48 440.13,425.23 440.70,425.46 C441.27,425.70 441.83,425.73 442.40,425.64 C442.97,425.55 443.53,425.07 444.10,424.93 C444.67,424.80 445.23,424.90 445.80,424.82 C446.37,424.74 446.93,424.53 447.50,424.47 C448.07,424.42 448.63,424.30 449.20,424.47 C449.77,424.63 450.33,425.31 450.90,425.47 C451.47,425.62 452.03,425.31 452.60,425.40 C453.17,425.49 453.73,425.91 454.30,425.99 C454.87,426.07 455.43,426.04 456.00,425.88 C456.57,425.73 457.13,425.20 457.70,425.04 C458.27,424.88 458.83,424.74 459.40,424.91 C459.97,425.09 460.53,426.05 461.10,426.11 C461.67,426.16 462.23,425.52 462.80,425.25 C463.37,424.98 463.93,424.54 464.50,424.48 C465.07,424.41 465.63,424.89 466.20,424.85 C466.77,424.81 467.33,424.46 467.90,424.24 C468.47,424.03 469.03,423.68 469.60,423.56 C470.17,423.44 470.73,423.85 471.30,423.55 C471.87,423.25 472.43,422.11 473.00,421.77 C473.57,421.44 474.13,421.74 474.70,421.53 C475.27,421.32 475.83,420.83 476.40,420.50 C476.97,420.17 477.53,419.80 478.10,419.57 C478.67,419.34 479.23,419.12 479.80,419.12 C480.37,419.12 480.93,419.58 481.50,419.56 C482.07,419.54 482.63,419.31 483.20,419.00 C483.77,418.69 484.33,418.02 484.90,417.70 C485.47,417.39 486.03,417.10 486.60,417.11 C487.17,417.12 487.73,417.68 488.30,417.77 C488.87,417.87 489.43,417.90 490.00,417.66 C490.57,417.43 491.13,416.47 491.70,416.36 C492.27,416.25 492.83,417.08 493.40,417.01 C493.97,416.93 494.53,416.26 495.10,415.89 C495.67,415.52 496.23,414.98 496.80,414.78 C497.37,414.58 497.93,414.59 498.50,414.68 C499.07,414.78 499.63,415.10 500.20,415.36 C500.77,415.63 501.33,416.05 501.90,416.27 C502.47,416.48 503.03,416.61 503.60,416.63 C504.17,416.66 504.73,416.43 505.30,416.40 C505.87,416.36 506.43,416.46 507.00,416.42 C507.57,416.39 508.13,416.13 508.70,416.18 C509.27,416.23 509.83,416.64 510.40,416.72 C510.97,416.80 511.53,416.67 512.10,416.66 C512.67,416.66 513.23,416.85 513.80,416.68 C514.37,416.50 514.93,415.88 515.50,415.62 C516.07,415.36 516.63,415.30 517.20,415.11 C517.77,414.93 518.33,414.74 518.90,414.54 C519.47,414.33 520.03,414.09 520.60,413.90 C521.17,413.71 521.73,413.53 522.30,413.38 C522.87,413.23 523.43,413.13 524.00,413.00 C524.57,412.86 525.13,412.58 525.70,412.55 C526.27,412.52 526.83,412.78 527.40,412.80 C527.97,412.82 528.53,412.71 529.10,412.66 C529.67,412.60 530.23,412.27 530.80,412.47 C531.37,412.67 531.93,413.42 532.50,413.86 C533.07,414.31 533.63,414.64 534.20,415.16 C534.77,415.67 535.33,416.52 535.90,416.97 C536.47,417.41 537.03,417.47 537.60,417.82 C538.17,418.16 538.73,418.66 539.30,419.03 C539.87,419.41 540.43,419.69 541.00,420.06 C541.57,420.44 542.13,420.95 542.70,421.29 C543.27,421.64 543.83,421.95 544.40,422.16 C544.97,422.36 545.53,422.47 546.10,422.55 C546.67,422.62 547.23,422.52 547.80,422.60 C548.37,422.68 548.93,422.95 549.50,423.04 C550.07,423.12 550.63,423.06 551.20,423.10 C551.77,423.13 552.33,423.29 552.90,423.27 C553.47,423.24 554.03,422.91 554.60,422.94 C555.17,422.98 555.73,423.40 556.30,423.47 C556.87,423.54 557.43,423.36 558.00,423.38 C558.57,423.40 559.13,423.42 559.70,423.58 C560.27,423.73 560.83,423.95 561.40,424.32 C561.97,424.69 562.53,425.47 563.10,425.80 C563.67,426.13 564.23,426.20 564.80,426.27 C565.37,426.35 565.93,426.24 566.50,426.24 C567.07,426.25 567.63,426.17 568.20,426.30 C568.77,426.43 569.33,426.77 569.90,427.01 C570.47,427.24 571.03,427.52 571.60,427.71 C572.17,427.90 572.73,428.11 573.30,428.13 C573.87,428.14 574.43,427.84 575.00,427.80 C575.57,427.75 576.13,427.87 576.70,427.86 C577.27,427.85 577.83,427.74 578.40,427.72 C578.97,427.69 579.53,427.75 580.10,427.72 C580.67,427.69 581.23,427.52 581.80,427.53 C582.37,427.53 582.93,427.84 583.50,427.77 C584.07,427.69 584.63,427.18 585.20,427.10 C585.77,427.02 586.33,427.08 586.90,427.27 C587.47,427.46 588.03,428.06 588.60,428.22 C589.17,428.39 589.73,428.11 590.30,428.27 C590.87,428.42 591.43,429.02 592.00,429.13 C592.57,429.25 593.13,428.90 593.70,428.96 C594.27,429.02 594.83,429.26 595.40,429.50 C595.97,429.73 596.53,430.21 597.10,430.35 C597.67,430.50 598.23,430.31 598.80,430.37 C599.37,430.44 599.93,430.37 600.50,430.74 C601.07,431.10 601.63,432.32 602.20,432.59 C602.77,432.85 603.33,432.37 603.90,432.32 C604.47,432.27 605.03,432.28 605.60,432.30 C606.17,432.33 606.73,432.36 607.30,432.46 C607.87,432.56 608.43,432.78 609.00,432.90 C609.57,433.01 610.13,433.01 610.70,433.16 C611.27,433.32 611.83,433.66 612.40,433.82 C612.97,433.98 613.53,434.13 614.10,434.12 C614.67,434.11 615.23,433.85 615.80,433.76 C616.37,433.68 616.93,433.72 617.50,433.60 C618.07,433.48 618.63,433.19 619.20,433.04 C619.77,432.89 620.33,432.74 620.90,432.71 C621.47,432.69 622.03,432.74 622.60,432.90 C623.17,433.07 623.73,433.54 624.30,433.71 C624.87,433.88 625.55,433.86 626.00,433.91 C626.45,433.96 626.83,433.98 627.00,434.00" stroke="#ff0000"/>
<path d="M101.00,351.50 C101.65,353.45 103.97,360.73 104.90,363.22 C105.83,365.72 106.03,365.30 106.60,366.45 C107.17,367.60 107.73,368.91 108.30,370.12 C108.87,371.34 109.43,372.54 110.00,373.74 C110.57,374.95 111.13,376.38 111.70,377.33 C112.27,378.29 112.83,378.93 113.40,379.49 C113.97,380.06 114.53,380.15 115.10,380.73 C115.67,381.31 116.23,382.44 116.80,382.96 C117.37,383.49 117.93,383.48 118.50,383.89 C119.07,384.30 119.63,385.14 120.20,385.40 C120.77,385.66 121.33,385.20 121.90,385.43 C122.47,385.67 123.03,386.44 123.60,386.79 C124.17,387.15 124.73,387.31 125.30,387.54 C125.87,387.77 126.43,387.94 127.00,388.16 C127.57,388.38 128.13,388.82 128.70,388.84 C129.27,388.86 129.83,388.50 130.40,388.26 C130.97,388.03 131.53,387.71 132.10,387.42 C132.67,387.13 133.23,386.91 133.80,386.52 C134.37,386.13 134.93,385.60 135.50,385.08 C136.07,384.57 136.63,383.86 137.20,383.44 C137.77,383.02 138.33,383.06 138.90,382.57 C139.47,382.09 140.03,381.06 140.60,380.50 C141.17,379.95 141.73,379.86 142.30,379.22 C142.87,378.59 143.43,377.42 144.00,376.72 C144.57,376.01 145.13,375.75 145.70,375.02 C146.27,374.29 146.83,373.34 147.40,372.32 C147.97,371.31 148.53,370.13 149.10,368.94 C149.67,367.74 150.23,366.20 150.80,365.15 C151.37,364.11 151.93,363.55 152.50,362.69 C153.07,361.83 153.63,361.01 154.20,359.98 C154.77,358.94 155.33,357.67 155.90,356.48 C156.47,355.28 157.03,353.88 157.60,352.80 C158.17,351.72 158.73,351.08 159.30,350.00 C159.87,348.91 160.43,347.56 161.00,346.29 C161.57,345.03 162.13,343.73 162.70,342.41 C163.27,341.10 163.83,340.03 164.40,338.41 C164.97,336.78 165.53,334.28 166.10,332.64 C166.67,331.00 167.23,330.07 167.80,328.56 C168.37,327.05 168.93,325.43 169.50,323.59 C170.07,321.76 170.63,319.64 171.20,317.58 C171.77,315.52 172.33,313.43 172.90,311.23 C173.47,309.04 173.95,307.28 174.60,304.42 C175.25,301.57 176.03,299.50 176.80,294.10 C177.57,288.70 178.52,277.52 179.20,272.00 C179.88,266.48 180.37,264.83 180.90,261.00 C181.43,257.17 181.88,252.83 182.40,249.00 C182.92,245.17 183.48,241.75 184.00,238.00 C184.52,234.25 185.02,230.33 185.50,226.50 C185.98,222.67 186.38,219.92 186.90,215.00 C187.42,210.08 188.00,202.83 188.60,197.00 C189.20,191.17 189.93,186.17 190.50,180.00 C191.07,173.83 191.55,165.83 192.00,160.00 C192.45,154.17 192.70,151.67 193.20,145.00 C193.70,138.33 194.52,126.67 195.00,120.00 C195.48,113.33 195.78,109.17 196.10,105.00 C196.42,100.83 196.67,98.33 196.90,95.00 C197.13,91.67 197.27,88.50 197.50,85.00 C197.73,81.50 197.72,76.97 198.30,74.00 C198.88,71.03 200.45,67.87 201.00,67.20 C201.55,66.53 201.33,68.62 201.60,70.00 C201.87,71.38 202.20,73.83 202.60,75.50 C203.00,77.17 203.65,77.92 204.00,80.00 C204.35,82.08 204.53,84.67 204.70,88.00 C204.87,91.33 204.85,95.33 205.00,100.00 C205.15,104.67 205.37,111.00 205.60,116.00 C205.83,121.00 206.15,125.17 206.40,130.00 C206.65,134.83 206.88,140.00 207.10,145.00 C207.32,150.00 207.45,154.17 207.70,160.00 C207.95,165.83 208.25,172.50 208.60,180.00 C208.95,187.50 209.42,197.00 209.80,205.00 C210.18,213.00 210.60,222.17 210.90,228.00 C211.20,233.83 211.10,234.33 211.60,240.00 C212.10,245.67 213.27,254.82 213.90,262.00 C214.53,269.18 214.95,276.10 215.40,283.10 C215.85,290.10 216.25,297.85 216.60,304.00 C216.95,310.15 217.20,314.17 217.50,320.00 C217.80,325.83 217.70,332.63 218.40,339.00 C219.10,345.37 220.20,352.47 221.70,358.20 C223.20,363.93 225.48,369.90 227.40,373.40 C229.32,376.90 231.45,377.85 233.20,379.20 C234.95,380.55 236.00,381.98 237.90,381.50 C239.80,381.02 242.53,378.28 244.60,376.30 C246.67,374.32 248.55,371.92 250.30,369.60 C252.05,367.28 253.67,363.20 255.10,362.40 C256.53,361.60 257.78,363.28 258.90,364.80 C260.02,366.32 260.68,367.83 261.80,371.50 C262.92,375.17 264.68,383.21 265.60,386.82 C266.52,390.42 266.73,390.82 267.30,393.15 C267.87,395.47 268.43,398.81 269.00,400.77 C269.57,402.73 270.13,403.80 270.70,404.89 C271.27,405.98 271.83,406.61 272.40,407.32 C272.97,408.04 273.53,408.62 274.10,409.18 C274.67,409.74 275.23,410.24 275.80,410.71 C276.37,411.17 276.93,411.50 277.50,411.95 C278.07,412.39 278.63,413.10 279.20,413.38 C279.77,413.66 280.33,413.38 280.90,413.63 C281.47,413.88 282.03,414.52 282.60,414.89 C283.17,415.26 283.73,415.64 284.30,415.86 C284.87,416.09 285.43,416.02 286.00,416.24 C286.57,416.47 287.13,417.00 287.70,417.23 C288.27,417.46 288.83,417.41 289.40,417.62 C289.97,417.82 290.53,418.15 291.10,418.45 C291.67,418.75 292.23,419.01 292.80,419.42 C293.37,419.82 293.93,420.60 294.50,420.86 C295.07,421.11 295.63,420.91 296.20,420.95 C296.77,420.99 297.33,421.03 297.90,421.09 C298.47,421.16 299.03,421.28 299.60,421.34 C300.17,421.41 300.73,421.49 301.30,421.46 C301.87,421.44 302.43,421.03 303.00,421.18 C303.57,421.34 304.13,422.27 304.70,422.40 C305.27,422.53 305.83,422.08 306.40,421.98 C306.97,421.88 307.53,421.85 308.10,421.80 C308.67,421.74 309.23,421.59 309.80,421.67 C310.37,421.75 310.93,421.94 311.50,422.28 C312.07,422.62 312.63,423.31 313.20,423.70 C313.77,424.08 314.33,424.50 314.90,424.59 C315.47,424.68 316.03,424.37 316.60,424.25 C317.17,424.13 317.73,423.97 318.30,423.86 C318.87,423.74 319.43,423.69 320.00,423.55 C320.57,423.41 321.13,423.01 321.70,423.02 C322.27,423.03 322.83,423.50 323.40,423.60 C323.97,423.70 324.53,423.44 325.10,423.62 C325.67,423.80 326.23,424.58 326.80,424.69 C327.37,424.81 327.93,424.44 328.50,424.30 C329.07,424.15 329.63,424.00 330.20,423.83 C330.77,423.66 331.33,423.40 331.90,423.27 C332.47,423.14 333.03,422.92 333.60,423.07 C334.17,423.21 334.73,423.86 335.30,424.13 C335.87,424.39 336.43,424.63 337.00,424.68 C337.57,424.72 338.13,424.49 338.70,424.40 C339.27,424.31 339.83,424.07 340.40,424.16 C340.97,424.25 341.53,424.77 342.10,424.93 C342.67,425.10 343.23,425.04 343.80,425.14 C344.37,425.25 344.93,425.48 345.50,425.58 C346.07,425.69 346.63,425.77 347.20,425.76 C347.77,425.76 348.33,425.67 348.90,425.55 C349.47,425.42 350.03,425.02 350.60,425.01 C351.17,425.00 351.73,425.38 352.30,425.48 C352.87,425.58 353.43,425.58 354.00,425.60 C354.57,425.62 355.13,425.55 355.70,425.58 C356.27,425.61 356.83,425.76 357.40,425.80 C357.97,425.85 358.53,425.95 359.10,425.84 C359.67,425.74 360.23,425.27 360.80,425.16 C361.37,425.05 361.93,425.41 362.50,425.19 C363.07,424.98 363.63,424.02 364.20,423.88 C364.77,423.74 365.33,424.31 365.90,424.37 C366.47,424.42 367.03,424.20 367.60,424.23 C368.17,424.26 368.73,424.48 369.30,424.55 C369.87,424.62 370.43,424.77 371.00,424.63 C371.57,424.50 372.13,423.91 372.70,423.73 C373.27,423.55 373.83,423.50 374.40,423.53 C374.97,423.56 375.53,423.95 376.10,423.91 C376.67,423.88 377.23,423.43 377.80,423.30 C378.37,423.17 378.93,423.26 379.50,423.15 C380.07,423.05 380.63,422.72 381.20,422.67 C381.77,422.63 382.33,422.86 382.90,422.88 C383.47,422.90 384.03,422.92 384.60,422.81 C385.17,422.71 385.73,422.44 386.30,422.25 C386.87,422.06 387.43,421.88 388.00,421.69 C388.57,421.50 389.13,420.99 389.70,421.09 C390.27,421.19 390.83,422.05 391.40,422.29 C391.97,422.53 392.53,422.45 393.10,422.52 C393.67,422.58 394.23,422.61 394.80,422.69 C395.37,422.77 395.93,422.94 396.50,423.01 C397.07,423.08 397.63,422.97 398.20,423.13 C398.77,423.30 399.33,423.78 399.90,424.01 C400.47,424.24 401.03,424.59 401.60,424.49 C402.17,424.39 402.73,423.54 403.30,423.41 C403.87,423.29 404.43,423.67 405.00,423.75 C405.57,423.83 406.13,423.92 406.70,423.91 C407.27,423.90 407.83,423.74 408.40,423.70 C408.97,423.66 409.53,423.57 410.10,423.67 C410.67,423.76 411.23,424.22 411.80,424.25 C412.37,424.28 412.93,423.89 413.50,423.84 C414.07,423.78 414.63,423.92 415.20,423.91 C415.77,423.90 416.33,424.02 416.90,423.78 C417.47,423.54 418.03,422.58 418.60,422.49 C419.17,422.40 419.73,423.16 420.30,423.23 C420.87,423.30 421.43,423.03 422.00,422.90 C422.57,422.77 423.13,422.48 423.70,422.44 C424.27,422.41 424.83,422.52 425.40,422.69 C425.97,422.86 426.53,423.49 427.10,423.48 C427.67,423.46 428.23,422.80 428.80,422.60 C429.37,422.40 429.93,422.24 430.50,422.29 C431.07,422.33 431.63,422.77 432.20,422.84 C432.77,422.91 433.33,422.60 433.90,422.68 C434.47,422.76 435.03,423.04 435.60,423.34 C436.17,423.64 436.73,424.14 437.30,424.49 C437.87,424.83 438.43,425.19 439.00,425.42 C439.57,425.65 440.13,425.72 440.70,425.86 C441.27,426.01 441.83,426.15 442.40,426.28 C442.97,426.40 443.53,426.65 444.10,426.63 C444.67,426.61 445.23,426.26 445.80,426.14 C446.37,426.02 446.93,425.97 447.50,425.92 C448.07,425.86 448.63,425.84 449.20,425.82 C449.77,425.81 450.33,425.69 450.90,425.80 C451.47,425.92 452.03,426.33 452.60,426.50 C453.17,426.67 453.73,426.96 454.30,426.83 C454.87,426.69 455.43,425.80 456.00,425.70 C456.57,425.61 457.13,426.24 457.70,426.26 C458.27,426.28 458.83,425.96 459.40,425.84 C459.97,425.72 460.53,425.44 461.10,425.52 C461.67,425.60 462.23,426.15 462.80,426.33 C463.37,426.52 463.93,426.60 464.50,426.62 C465.07,426.64 465.63,426.58 466.20,426.45 C466.77,426.31 467.33,425.94 467.90,425.81 C468.47,425.67 469.03,425.96 469.60,425.64 C470.17,425.31 470.73,424.22 471.30,423.85 C471.87,423.48 472.43,423.71 473.00,423.44 C473.57,423.16 474.13,422.56 474.70,422.21 C475.27,421.85 475.83,421.66 476.40,421.30 C476.97,420.95 477.53,420.20 478.10,420.09 C478.67,419.97 479.23,420.50 479.80,420.61 C480.37,420.72 480.93,420.83 481.50,420.75 C482.07,420.68 482.63,420.47 483.20,420.15 C483.77,419.84 484.33,419.20 484.90,418.87 C485.47,418.55 486.03,418.54 486.60,418.23 C487.17,417.92 487.73,417.32 488.30,417.00 C488.87,416.68 489.43,416.43 490.00,416.32 C490.57,416.21 491.13,416.38 491.70,416.32 C492.27,416.26 492.83,416.18 493.40,415.96 C493.97,415.73 494.53,415.27 495.10,414.99 C495.67,414.71 496.23,414.54 496.80,414.27 C497.37,414.01 497.93,413.56 498.50,413.40 C499.07,413.23 499.63,413.31 500.20,413.27 C500.77,413.24 501.33,413.11 501.90,413.19 C502.47,413.28 503.03,413.63 503.60,413.77 C504.17,413.92 504.73,413.79 505.30,414.07 C505.87,414.34 506.43,415.12 507.00,415.43 C507.57,415.74 508.13,415.75 508.70,415.92 C509.27,416.10 509.83,416.40 510.40,416.48 C510.97,416.55 511.53,416.40 512.10,416.35 C512.67,416.30 513.23,416.41 513.80,416.18 C514.37,415.95 514.93,415.49 515.50,414.99 C516.07,414.49 516.63,413.62 517.20,413.18 C517.77,412.74 518.33,412.40 518.90,412.36 C519.47,412.31 520.03,412.80 520.60,412.93 C521.17,413.06 521.73,413.16 522.30,413.14 C522.87,413.11 523.43,412.98 524.00,412.79 C524.57,412.61 525.13,412.23 525.70,412.02 C526.27,411.82 526.83,411.85 527.40,411.56 C527.97,411.27 528.53,410.41 529.10,410.27 C529.67,410.12 530.23,410.60 530.80,410.67 C531.37,410.75 531.93,410.55 532.50,410.70 C533.07,410.85 533.63,411.18 534.20,411.55 C534.77,411.92 535.33,412.47 535.90,412.93 C536.47,413.39 537.03,413.82 537.60,414.32 C538.17,414.81 538.73,415.41 539.30,415.89 C539.87,416.37 540.43,416.73 541.00,417.19 C541.57,417.65 542.13,418.19 542.70,418.65 C543.27,419.12 543.83,419.53 544.40,419.97 C544.97,420.40 545.53,420.82 546.10,421.28 C546.67,421.73 547.23,422.35 547.80,422.67 C548.37,422.99 548.93,423.01 549.50,423.20 C550.07,423.39 550.63,423.72 551.20,423.80 C551.77,423.89 552.33,423.71 552.90,423.70 C553.47,423.69 554.03,423.72 554.60,423.74 C555.17,423.77 555.73,423.81 556.30,423.84 C556.87,423.88 557.43,423.89 558.00,423.95 C558.57,424.02 559.13,424.24 559.70,424.21 C560.27,424.17 560.83,423.76 561.40,423.75 C561.97,423.74 562.53,424.01 563.10,424.14 C563.67,424.28 564.23,424.32 564.80,424.56 C565.37,424.79 565.93,425.29 566.50,425.57 C567.07,425.86 567.63,426.15 568.20,426.26 C568.77,426.38 569.33,426.15 569.90,426.26 C570.47,426.36 571.03,426.69 571.60,426.89 C572.17,427.09 572.73,427.35 573.30,427.46 C573.87,427.56 574.43,427.40 575.00,427.52 C575.57,427.64 576.13,428.07 576.70,428.17 C577.27,428.26 577.83,428.24 578.40,428.11 C578.97,427.99 579.53,427.48 580.10,427.42 C580.67,427.37 581.23,427.66 581.80,427.81 C582.37,427.95 582.93,428.27 583.50,428.29 C584.07,428.30 584.63,427.87 585.20,427.89 C585.77,427.92 586.33,428.55 586.90,428.44 C587.47,428.34 588.03,427.20 588.60,427.28 C589.17,427.37 589.73,428.77 590.30,428.97 C590.87,429.18 591.43,428.53 592.00,428.52 C592.57,428.51 593.13,428.75 593.70,428.90 C594.27,429.05 594.83,429.32 595.40,429.40 C595.97,429.49 596.53,429.24 597.10,429.41 C597.67,429.58 598.23,430.22 598.80,430.43 C599.37,430.63 599.93,430.59 600.50,430.65 C601.07,430.71 601.63,430.80 602.20,430.79 C602.77,430.78 603.33,430.41 603.90,430.62 C604.47,430.83 605.03,431.62 605.60,432.05 C606.17,432.48 606.73,432.99 607.30,433.19 C607.87,433.39 608.43,433.18 609.00,433.25 C609.57,433.31 610.13,433.38 610.70,433.59 C611.27,433.79 611.83,434.33 612.40,434.47 C612.97,434.62 613.53,434.41 614.10,434.48 C614.67,434.54 615.23,434.77 615.80,434.87 C616.37,434.97 616.93,435.04 617.50,435.07 C618.07,435.11 618.63,435.11 619.20,435.11 C619.77,435.11 620.33,435.03 620.90,435.08 C621.47,435.14 622.03,435.39 622.60,435.42 C623.17,435.44 623.73,435.27 624.30,435.22 C624.87,435.17 625.55,435.21 626.00,435.14 C626.45,435.07 626.83,434.86 627.00,434.80" stroke="#0000ff"/>
</g>
<path d="M179,265.1 H224.39999999999998" stroke="#0000ff" stroke-width="1.4" fill="none"/><path d="M232.2,265.1 L223.39999999999998,262.5 L223.39999999999998,267.70000000000005 Z" fill="#0000ff"/>
<text x="235.9" y="269.8" font-family="Liberation Sans" font-size="20.2" fill="#0000ff">TiO<tspan font-size="12.12" dy="7.47">2</tspan><tspan dy="-7.47">-MCM-48-B-200</tspan></text>
<path d="M177,291.5 H255.39999999999998" stroke="#ff0000" stroke-width="1.4" fill="none"/><path d="M263.2,291.5 L254.39999999999998,288.9 L254.39999999999998,294.1 Z" fill="#ff0000"/>
<text x="266.6" y="298.2" font-family="Liberation Sans" font-size="20.2" fill="#ff0000">TiO<tspan font-size="12.12" dy="7.47">2</tspan><tspan dy="-7.47">-MCM-48-A-200</tspan></text>
<path d="M222.9,315.8 H268.3" stroke="#00ff00" stroke-width="1.4" fill="none"/><path d="M276.1,315.8 L267.3,313.2 L267.3,318.40000000000003 Z" fill="#00ff00"/>
<text x="280.4" y="322.9" font-family="Liberation Sans" font-size="20.2" fill="#00ff00">TiO<tspan font-size="12.12" dy="7.47">2</tspan><tspan dy="-7.47">-MCM-48-C-200</tspan></text>
<path d="M204.4,339.5 H250.59999999999997" stroke="#111" stroke-width="1.4" fill="none"/><path d="M258.4,339.5 L249.59999999999997,336.9 L249.59999999999997,342.1 Z" fill="#111"/>
<text x="261.0" y="347.3" font-family="Liberation Sans" font-size="20.2" fill="#111">TiO<tspan font-size="12.12" dy="7.47">2</tspan><tspan dy="-7.47">-MCM-48-D-200</tspan></text>
<defs>
<clipPath id="cb0"><rect x="693.3" y="25.8" width="314.5" height="112.7"/></clipPath>
<clipPath id="cb1"><rect x="693.3" y="138.5" width="314.5" height="112.6"/></clipPath>
<clipPath id="cb2"><rect x="693.3" y="251.1" width="314.5" height="112.70000000000002"/></clipPath>
<clipPath id="cb3"><rect x="693.3" y="363.8" width="314.5" height="112.5"/></clipPath>
</defs>
<polyline clip-path="url(#cb0)" points="692.80,71.1 692.92,73.8 693.04,68.6 693.16,71.0 693.28,75.3 693.40,72.3 693.52,65.2 693.64,74.1 693.76,64.7 693.88,64.4 694.00,71.6 694.12,70.1 694.24,71.2 694.36,71.3 694.48,71.7 694.60,73.9 694.72,68.1 694.84,68.8 694.96,67.3 695.08,65.3 695.20,65.6 695.32,69.3 695.44,68.4 695.56,72.8 695.68,67.4 695.80,64.6 695.92,62.1 696.04,70.3 696.16,72.3 696.28,68.2 696.40,69.0 696.52,64.3 696.64,62.8 696.76,64.2 696.88,60.6 697.00,66.7 697.12,58.6 697.24,56.2 697.36,58.2 697.48,68.7 697.60,65.8 697.72,66.3 697.84,66.5 697.96,66.4 698.08,67.8 698.20,66.0 698.32,67.0 698.44,57.0 698.56,58.7 698.68,69.4 698.80,64.4 698.92,65.5 699.04,58.7 699.16,61.2 699.28,59.3 699.40,66.0 699.52,57.2 699.64,61.7 699.76,67.3 699.88,58.0 700.00,58.8 700.12,64.0 700.24,62.8 700.36,61.9 700.48,60.1 700.60,62.1 700.72,65.8 700.84,62.9 700.96,59.1 701.08,59.1 701.20,59.1 701.32,61.7 701.44,55.9 701.56,60.9 701.68,58.3 701.80,62.2 701.92,68.8 702.04,60.8 702.16,58.5 702.28,59.0 702.40,62.9 702.52,54.6 702.64,62.1 702.76,64.4 702.88,57.3 703.00,60.9 703.12,62.5 703.24,52.8 703.36,58.8 703.48,65.7 703.60,60.9 703.72,58.3 703.84,61.6 703.96,56.4 704.08,60.9 704.20,56.3 704.32,58.0 704.44,59.5 704.56,59.2 704.68,53.1 704.80,61.5 704.92,59.4 705.04,56.4 705.16,52.0 705.28,52.8 705.40,62.1 705.52,48.5 705.64,61.2 705.76,57.3 705.88,57.2 706.00,59.9 706.12,61.1 706.24,52.5 706.36,61.8 706.48,60.6 706.60,54.0 706.72,47.8 706.84,57.9 706.96,54.7 707.08,57.8 707.20,54.3 707.32,58.4 707.44,51.7 707.56,57.6 707.68,46.6 707.80,58.1 707.92,53.2 708.04,53.7 708.16,60.6 708.28,53.8 708.40,52.8 708.52,48.6 708.64,47.0 708.76,51.0 708.88,53.2 709.00,56.2 709.12,47.0 709.24,50.5 709.36,49.4 709.48,49.8 709.60,48.1 709.72,54.0 709.84,50.0 709.96,44.9 710.08,43.7 710.20,48.9 710.32,55.2 710.44,55.0 710.56,57.2 710.68,54.5 710.80,55.4 710.92,56.9 711.04,59.3 711.16,44.9 711.28,48.0 711.40,54.2 711.52,53.7 711.64,54.9 711.76,52.5 711.88,56.7 712.00,44.5 712.12,49.8 712.24,47.8 712.36,47.8 712.48,53.5 712.60,40.9 712.72,57.4 712.84,52.5 712.96,43.2 713.08,54.7 713.20,55.8 713.32,57.6 713.44,51.7 713.56,51.2 713.68,58.7 713.80,54.4 713.92,57.0 714.04,54.1 714.16,46.9 714.28,51.2 714.40,49.9 714.52,52.2 714.64,51.9 714.76,51.5 714.88,48.8 715.00,53.1 715.12,47.5 715.24,49.9 715.36,49.9 715.48,50.5 715.60,51.5 715.72,53.9 715.84,51.5 715.96,46.0 716.08,46.1 716.20,52.6 716.32,45.7 716.44,55.9 716.56,46.7 716.68,51.7 716.80,55.5 716.92,52.5 717.04,56.1 717.16,53.5 717.28,49.1 717.40,52.5 717.52,52.0 717.64,53.3 717.76,54.6 717.88,48.9 718.00,47.5 718.12,53.2 718.24,45.2 718.36,50.5 718.48,52.8 718.60,49.9 718.72,50.6 718.84,50.1 718.96,45.7 719.08,47.4 719.20,48.2 719.32,42.1 719.44,52.1 719.56,49.7 719.68,57.1 719.80,52.0 719.92,49.3 720.04,42.9 720.16,42.6 720.28,49.8 720.40,42.9 720.52,45.9 720.64,50.2 720.76,51.1 720.88,55.9 721.00,54.6 721.12,46.0 721.24,43.0 721.36,52.0 721.48,44.0 721.60,49.4 721.72,49.0 721.84,52.9 721.96,51.6 722.08,49.5 722.20,39.6 722.32,44.4 722.44,51.1 722.56,49.3 722.68,49.1 722.80,50.2 722.92,44.8 723.04,53.3 723.16,51.6 723.28,49.0 723.40,47.7 723.52,48.7 723.64,51.1 723.76,66.1 723.88,49.5 724.00,55.2 724.12,41.7 724.24,53.3 724.36,60.1 724.48,54.1 724.60,54.9 724.72,53.3 724.84,47.2 724.96,52.5 725.08,65.6 725.20,56.2 725.32,51.9 725.44,54.2 725.56,54.8 725.68,58.7 725.80,52.4 725.92,57.9 726.04,49.9 726.16,50.1 726.28,55.6 726.40,50.4 726.52,56.3 726.64,59.2 726.76,57.8 726.88,53.6 727.00,56.7 727.12,47.1 727.24,60.9 727.36,48.4 727.48,48.1 727.60,54.2 727.72,53.4 727.84,54.8 727.96,49.4 728.08,56.8 728.20,54.3 728.32,53.4 728.44,61.4 728.56,53.8 728.68,53.0 728.80,56.9 728.92,57.9 729.04,53.4 729.16,56.3 729.28,54.3 729.40,57.1 729.52,55.7 729.64,58.1 729.76,49.6 729.88,53.6 730.00,53.1 730.12,59.6 730.24,60.2 730.36,58.6 730.48,52.3 730.60,57.6 730.72,57.5 730.84,60.8 730.96,65.2 731.08,54.7 731.20,64.2 731.32,59.7 731.44,58.6 731.56,58.7 731.68,62.3 731.80,52.4 731.92,60.8 732.04,60.7 732.16,65.0 732.28,57.4 732.40,51.9 732.52,61.1 732.64,60.9 732.76,68.5 732.88,62.2 733.00,62.4 733.12,61.6 733.24,61.6 733.36,58.7 733.48,63.8 733.60,59.7 733.72,65.1 733.84,64.5 733.96,58.6 734.08,67.3 734.20,59.3 734.32,56.3 734.44,62.1 734.56,58.0 734.68,49.8 734.80,60.4 734.92,65.9 735.04,64.5 735.16,57.1 735.28,66.2 735.40,62.6 735.52,64.5 735.64,69.7 735.76,61.3 735.88,63.9 736.00,59.4 736.12,56.3 736.24,66.6 736.36,74.1 736.48,68.0 736.60,66.1 736.72,63.5 736.84,52.3 736.96,68.6 737.08,78.8 737.20,63.6 737.32,62.5 737.44,65.9 737.56,66.2 737.68,67.9 737.80,65.7 737.92,62.2 738.04,71.9 738.16,70.7 738.28,68.1 738.40,68.2 738.52,72.7 738.64,61.7 738.76,71.0 738.88,68.9 739.00,68.1 739.12,67.8 739.24,60.3 739.36,73.1 739.48,67.0 739.60,66.5 739.72,71.3 739.84,73.3 739.96,64.6 740.08,69.5 740.20,73.3 740.32,67.3 740.44,71.3 740.56,71.8 740.68,68.8 740.80,72.7 740.92,64.5 741.04,68.8 741.16,73.5 741.28,72.5 741.40,76.4 741.52,75.3 741.64,72.0 741.76,79.1 741.88,64.2 742.00,74.9 742.12,74.0 742.24,72.1 742.36,75.6 742.48,71.9 742.60,65.2 742.72,73.9 742.84,69.9 742.96,72.4 743.08,70.4 743.20,77.1 743.32,79.1 743.44,64.3 743.56,80.1 743.68,75.3 743.80,68.8 743.92,67.3 744.04,74.9 744.16,76.9 744.28,74.9 744.40,78.9 744.52,73.7 744.64,77.2 744.76,71.8 744.88,76.4 745.00,74.4 745.12,75.8 745.24,78.6 745.36,75.3 745.48,80.3 745.60,78.8 745.72,76.0 745.84,75.1 745.96,78.3 746.08,77.7 746.20,77.0 746.32,75.5 746.44,75.4 746.56,74.3 746.68,78.4 746.80,75.3 746.92,81.3 747.04,85.0 747.16,68.5 747.28,77.0 747.40,75.3 747.52,72.0 747.64,80.9 747.76,74.6 747.88,78.6 748.00,73.4 748.12,72.5 748.24,75.6 748.36,81.6 748.48,70.9 748.60,77.8 748.72,82.0 748.84,70.5 748.96,88.0 749.08,76.0 749.20,82.5 749.32,78.0 749.44,80.6 749.56,77.9 749.68,74.4 749.80,83.8 749.92,80.8 750.04,83.6 750.16,82.2 750.28,82.3 750.40,84.8 750.52,82.6 750.64,81.7 750.76,79.4 750.88,78.9 751.00,79.0 751.12,76.7 751.24,83.6 751.36,86.2 751.48,82.2 751.60,82.2 751.72,75.8 751.84,80.3 751.96,82.3 752.08,85.2 752.20,84.2 752.32,81.4 752.44,81.3 752.56,81.4 752.68,82.5 752.80,84.5 752.92,82.3 753.04,82.2 753.16,76.8 753.28,74.6 753.40,83.7 753.52,85.2 753.64,75.8 753.76,83.6 753.88,81.7 754.00,84.5 754.12,82.1 754.24,84.6 754.36,86.6 754.48,86.3 754.60,84.8 754.72,81.3 754.84,78.0 754.96,87.7 755.08,87.4 755.20,87.8 755.32,81.8 755.44,93.4 755.56,91.5 755.68,85.9 755.80,82.7 755.92,81.7 756.04,89.8 756.16,85.5 756.28,84.6 756.40,79.5 756.52,78.4 756.64,85.8 756.76,86.2 756.88,83.4 757.00,83.8 757.12,87.9 757.24,89.4 757.36,89.6 757.48,86.6 757.60,87.4 757.72,91.1 757.84,84.1 757.96,84.3 758.08,87.1 758.20,89.0 758.32,91.2 758.44,83.1 758.56,92.1 758.68,87.8 758.80,85.3 758.92,84.8 759.04,87.8 759.16,95.0 759.28,85.9 759.40,89.4 759.52,92.3 759.64,88.5 759.76,89.7 759.88,92.7 760.00,89.2 760.12,86.6 760.24,95.2 760.36,90.8 760.48,95.2 760.60,89.1 760.72,88.8 760.84,85.4 760.96,89.2 761.08,90.1 761.20,87.2 761.32,83.4 761.44,86.2 761.56,88.4 761.68,89.2 761.80,94.4 761.92,90.2 762.04,89.5 762.16,89.7 762.28,82.2 762.40,92.3 762.52,88.3 762.64,86.9 762.76,86.7 762.88,84.4 763.00,91.8 763.12,85.8 763.24,92.8 763.36,91.9 763.48,95.3 763.60,91.5 763.72,91.7 763.84,89.4 763.96,92.7 764.08,89.7 764.20,87.1 764.32,95.5 764.44,93.3 764.56,94.6 764.68,85.5 764.80,98.5 764.92,87.9 765.04,92.6 765.16,92.6 765.28,88.1 765.40,87.7 765.52,93.5 765.64,93.3 765.76,90.0 765.88,95.6 766.00,91.6 766.12,97.7 766.24,96.5 766.36,92.0 766.48,96.2 766.60,93.7 766.72,90.2 766.84,97.3 766.96,94.2 767.08,92.3 767.20,95.6 767.32,93.5 767.44,97.3 767.56,93.8 767.68,95.3 767.80,97.3 767.92,93.4 768.04,101.7 768.16,92.9 768.28,90.6 768.40,99.2 768.52,97.1 768.64,92.3 768.76,92.3 768.88,95.6 769.00,93.2 769.12,95.4 769.24,97.2 769.36,90.1 769.48,99.5 769.60,89.8 769.72,94.1 769.84,93.5 769.96,97.6 770.08,92.6 770.20,91.0 770.32,96.1 770.44,91.4 770.56,97.4 770.68,94.2 770.80,94.0 770.92,90.0 771.04,96.0 771.16,98.8 771.28,95.1 771.40,98.0 771.52,102.8 771.64,101.2 771.76,102.0 771.88,95.9 772.00,98.1 772.12,100.9 772.24,96.1 772.36,97.3 772.48,95.6 772.60,93.5 772.72,99.7 772.84,100.4 772.96,100.0 773.08,95.4 773.20,95.3 773.32,98.5 773.44,98.2 773.56,92.7 773.68,95.4 773.80,95.0 773.92,100.4 774.04,99.7 774.16,96.3 774.28,96.2 774.40,95.7 774.52,95.9 774.64,100.0 774.76,102.4 774.88,84.0 775.00,98.9 775.12,101.3 775.24,103.1 775.36,101.9 775.48,101.1 775.60,94.3 775.72,98.5 775.84,92.5 775.96,103.0 776.08,94.9 776.20,102.4 776.32,98.5 776.44,100.1 776.56,102.5 776.68,99.6 776.80,98.0 776.92,101.4 777.04,103.1 777.16,98.2 777.28,98.0 777.40,101.1 777.52,101.4 777.64,95.8 777.76,101.2 777.88,107.9 778.00,102.5 778.12,95.0 778.24,98.7 778.36,99.8 778.48,101.8 778.60,98.5 778.72,97.5 778.84,101.4 778.96,100.2 779.08,102.9 779.20,96.8 779.32,102.7 779.44,106.3 779.56,98.4 779.68,105.5 779.80,98.1 779.92,100.5 780.04,100.8 780.16,100.0 780.28,99.4 780.40,101.9 780.52,106.7 780.64,106.0 780.76,98.5 780.88,97.5 781.00,98.4 781.12,103.1 781.24,96.2 781.36,97.0 781.48,101.0 781.60,99.8 781.72,101.3 781.84,101.1 781.96,102.2 782.08,98.7 782.20,102.5 782.32,108.1 782.44,102.7 782.56,99.5 782.68,97.5 782.80,103.7 782.92,102.4 783.04,106.8 783.16,103.5 783.28,98.7 783.40,110.3 783.52,103.6 783.64,102.5 783.76,99.9 783.88,108.2 784.00,98.1 784.12,102.4 784.24,99.9 784.36,105.1 784.48,104.8 784.60,100.7 784.72,95.4 784.84,103.2 784.96,102.3 785.08,105.9 785.20,100.2 785.32,99.8 785.44,106.6 785.56,101.4 785.68,105.8 785.80,104.0 785.92,101.1 786.04,99.7 786.16,101.0 786.28,101.4 786.40,103.4 786.52,102.4 786.64,104.4 786.76,102.0 786.88,105.4 787.00,98.0 787.12,106.8 787.24,99.9 787.36,103.6 787.48,107.6 787.60,100.4 787.72,99.4 787.84,106.3 787.96,105.2 788.08,109.7 788.20,103.4 788.32,99.2 788.44,101.2 788.56,103.9 788.68,105.9 788.80,105.7 788.92,105.7 789.04,110.8 789.16,110.6 789.28,105.8 789.40,105.8 789.52,105.3 789.64,103.6 789.76,104.2 789.88,99.9 790.00,102.4 790.12,102.3 790.24,105.5 790.36,118.6 790.48,110.0 790.60,106.2 790.72,104.1 790.84,110.3 790.96,104.9 791.08,106.1 791.20,101.9 791.32,107.7 791.44,103.4 791.56,109.3 791.68,102.3 791.80,109.6 791.92,104.1 792.04,105.3 792.16,104.8 792.28,101.1 792.40,111.9 792.52,105.7 792.64,101.0 792.76,109.2 792.88,101.6 793.00,102.9 793.12,108.9 793.24,106.7 793.36,109.2 793.48,101.2 793.60,109.0 793.72,101.5 793.84,110.0 793.96,102.7 794.08,106.3 794.20,108.0 794.32,108.6 794.44,111.7 794.56,103.7 794.68,104.5 794.80,107.1 794.92,112.1 795.04,111.8 795.16,110.1 795.28,102.0 795.40,104.5 795.52,103.7 795.64,108.1 795.76,109.5 795.88,111.7 796.00,104.8 796.12,109.7 796.24,110.5 796.36,107.7 796.48,108.2 796.60,106.2 796.72,106.9 796.84,107.9 796.96,110.2 797.08,105.6 797.20,108.6 797.32,105.1 797.44,111.3 797.56,96.8 797.68,108.8 797.80,110.0 797.92,102.9 798.04,106.3 798.16,109.3 798.28,107.9 798.40,113.8 798.52,113.5 798.64,104.0 798.76,103.1 798.88,107.1 799.00,109.2 799.12,108.9 799.24,109.6 799.36,113.9 799.48,105.3 799.60,109.9 799.72,104.6 799.84,110.5 799.96,109.6 800.08,108.0 800.20,107.0 800.32,111.1 800.44,110.7 800.56,107.5 800.68,109.5 800.80,109.1 800.92,108.9 801.04,115.7 801.16,110.9 801.28,113.4 801.40,105.1 801.52,114.8 801.64,113.3 801.76,107.1 801.88,110.4 802.00,108.6 802.12,108.5 802.24,108.9 802.36,106.3 802.48,109.5 802.60,112.7 802.72,111.2 802.84,107.7 802.96,107.4 803.08,115.5 803.20,115.6 803.32,112.1 803.44,107.8 803.56,110.4 803.68,104.4 803.80,116.7 803.92,112.1 804.04,111.6 804.16,109.9 804.28,106.4 804.40,111.2 804.52,106.3 804.64,112.1 804.76,107.4 804.88,112.1 805.00,109.5 805.12,112.6 805.24,114.9 805.36,111.6 805.48,111.2 805.60,110.4 805.72,112.6 805.84,112.1 805.96,107.3 806.08,110.5 806.20,107.9 806.32,111.8 806.44,108.5 806.56,110.4 806.68,110.9 806.80,112.4 806.92,109.4 807.04,109.9 807.16,112.2 807.28,114.4 807.40,111.1 807.52,114.3 807.64,114.1 807.76,109.2 807.88,115.1 808.00,116.4 808.12,113.3 808.24,107.8 808.36,110.7 808.48,113.1 808.60,110.8 808.72,111.2 808.84,116.4 808.96,110.3 809.08,109.6 809.20,108.3 809.32,109.8 809.44,114.3 809.56,108.1 809.68,108.1 809.80,111.5 809.92,110.1 810.04,112.3 810.16,113.6 810.28,114.3 810.40,114.5 810.52,105.7 810.64,113.3 810.76,108.6 810.88,111.9 811.00,109.0 811.12,104.4 811.24,114.6 811.36,113.7 811.48,106.6 811.60,117.8 811.72,109.9 811.84,109.8 811.96,109.7 812.08,106.5 812.20,113.0 812.32,116.4 812.44,110.8 812.56,113.8 812.68,102.6 812.80,110.3 812.92,110.0 813.04,105.7 813.16,110.1 813.28,108.8 813.40,111.4 813.52,110.4 813.64,115.5 813.76,115.0 813.88,110.9 814.00,110.3 814.12,111.5 814.24,111.1 814.36,114.6 814.48,114.8 814.60,113.7 814.72,108.3 814.84,110.2 814.96,108.5 815.08,112.8 815.20,111.2 815.32,113.8 815.44,107.3 815.56,114.4 815.68,113.3 815.80,110.4 815.92,110.2 816.04,119.9 816.16,112.5 816.28,112.9 816.40,114.5 816.52,113.0 816.64,113.5 816.76,113.3 816.88,113.4 817.00,114.1 817.12,108.1 817.24,108.5 817.36,111.7 817.48,107.5 817.60,113.0 817.72,107.9 817.84,112.3 817.96,111.9 818.08,105.1 818.20,112.2 818.32,113.3 818.44,106.7 818.56,109.2 818.68,113.0 818.80,109.4 818.92,114.4 819.04,113.4 819.16,107.0 819.28,113.1 819.40,114.3 819.52,111.2 819.64,111.6 819.76,115.1 819.88,107.8 820.00,103.0 820.12,114.9 820.24,109.3 820.36,111.0 820.48,102.7 820.60,109.9 820.72,111.2 820.84,109.7 820.96,108.3 821.08,117.6 821.20,114.4 821.32,113.8 821.44,107.2 821.56,109.7 821.68,108.7 821.80,113.7 821.92,107.3 822.04,111.4 822.16,117.4 822.28,111.6 822.40,115.6 822.52,109.7 822.64,114.5 822.76,110.5 822.88,109.1 823.00,112.1 823.12,109.8 823.24,109.6 823.36,111.8 823.48,111.7 823.60,109.9 823.72,116.3 823.84,114.3 823.96,109.3 824.08,108.9 824.20,112.4 824.32,103.2 824.44,110.5 824.56,113.5 824.68,113.5 824.80,113.7 824.92,113.3 825.04,108.6 825.16,106.9 825.28,112.7 825.40,110.0 825.52,113.4 825.64,114.2 825.76,110.2 825.88,111.1 826.00,117.8 826.12,114.3 826.24,108.8 826.36,113.8 826.48,117.2 826.60,110.1 826.72,113.3 826.84,110.2 826.96,105.6 827.08,112.5 827.20,112.0 827.32,110.4 827.44,107.5 827.56,112.8 827.68,111.2 827.80,113.7 827.92,111.1 828.04,111.8 828.16,111.5 828.28,112.9 828.40,111.1 828.52,114.0 828.64,112.4 828.76,113.1 828.88,114.7 829.00,115.9 829.12,113.1 829.24,111.1 829.36,112.9 829.48,110.8 829.60,107.4 829.72,117.1 829.84,110.3 829.96,112.2 830.08,111.7 830.20,110.2 830.32,110.9 830.44,113.8 830.56,113.3 830.68,111.3 830.80,111.7 830.92,117.0 831.04,110.1 831.16,111.3 831.28,114.7 831.40,117.1 831.52,115.0 831.64,114.5 831.76,112.0 831.88,113.3 832.00,115.3 832.12,115.4 832.24,116.3 832.36,109.7 832.48,114.8 832.60,113.9 832.72,111.0 832.84,110.1 832.96,111.6 833.08,110.3 833.20,111.1 833.32,111.0 833.44,111.8 833.56,104.9 833.68,113.2 833.80,113.8 833.92,114.6 834.04,112.9 834.16,114.2 834.28,109.3 834.40,108.5 834.52,115.1 834.64,114.7 834.76,108.2 834.88,114.6 835.00,109.3 835.12,116.0 835.24,115.4 835.36,112.3 835.48,111.1 835.60,112.2 835.72,107.1 835.84,115.0 835.96,111.4 836.08,111.9 836.20,107.2 836.32,116.3 836.44,113.7 836.56,113.6 836.68,111.7 836.80,110.9 836.92,107.6 837.04,116.2 837.16,111.6 837.28,114.8 837.40,113.3 837.52,111.8 837.64,113.7 837.76,112.5 837.88,114.4 838.00,114.7 838.12,111.4 838.24,114.6 838.36,115.1 838.48,108.0 838.60,111.0 838.72,109.9 838.84,110.6 838.96,114.1 839.08,113.9 839.20,114.5 839.32,113.3 839.44,111.2 839.56,112.9 839.68,111.4 839.80,114.6 839.92,117.0 840.04,112.2 840.16,116.0 840.28,112.0 840.40,110.8 840.52,113.7 840.64,115.9 840.76,110.6 840.88,111.3 841.00,110.8 841.12,117.2 841.24,113.3 841.36,114.1 841.48,116.1 841.60,114.9 841.72,116.7 841.84,111.7 841.96,114.1 842.08,110.2 842.20,115.1 842.32,112.6 842.44,113.4 842.56,114.4 842.68,108.7 842.80,109.4 842.92,112.7 843.04,111.6 843.16,112.1 843.28,105.9 843.40,116.9 843.52,111.0 843.64,113.8 843.76,115.6 843.88,108.1 844.00,111.8 844.12,116.6 844.24,111.1 844.36,115.2 844.48,114.0 844.60,111.8 844.72,110.4 844.84,111.7 844.96,111.4 845.08,115.4 845.20,117.6 845.32,107.2 845.44,113.1 845.56,111.9 845.68,111.7 845.80,116.2 845.92,111.4 846.04,111.0 846.16,114.5 846.28,113.1 846.40,116.3 846.52,114.9 846.64,109.9 846.76,114.5 846.88,114.1 847.00,114.0 847.12,117.0 847.24,116.4 847.36,110.8 847.48,112.5 847.60,113.4 847.72,116.4 847.84,112.0 847.96,112.3 848.08,107.9 848.20,114.9 848.32,113.0 848.44,111.6 848.56,117.1 848.68,116.0 848.80,116.4 848.92,112.1 849.04,113.1 849.16,112.1 849.28,116.6 849.40,113.3 849.52,112.3 849.64,110.3 849.76,115.5 849.88,110.5 850.00,115.3 850.12,117.0 850.24,110.9 850.36,108.5 850.48,112.5 850.60,106.5 850.72,112.1 850.84,112.3 850.96,117.8 851.08,117.1 851.20,114.1 851.32,115.9 851.44,113.6 851.56,113.5 851.68,114.5 851.80,116.3 851.92,112.1 852.04,114.2 852.16,111.3 852.28,105.4 852.40,112.3 852.52,114.5 852.64,113.4 852.76,112.5 852.88,112.1 853.00,110.8 853.12,114.8 853.24,111.0 853.36,115.4 853.48,114.4 853.60,112.6 853.72,112.8 853.84,109.8 853.96,114.0 854.08,116.9 854.20,113.5 854.32,105.6 854.44,115.3 854.56,112.3 854.68,111.4 854.80,113.1 854.92,116.9 855.04,114.1 855.16,113.3 855.28,116.6 855.40,110.0 855.52,112.0 855.64,115.1 855.76,117.2 855.88,111.9 856.00,113.2 856.12,110.2 856.24,110.8 856.36,112.6 856.48,109.9 856.60,120.7 856.72,113.6 856.84,115.5 856.96,119.0 857.08,113.8 857.20,111.4 857.32,112.6 857.44,112.8 857.56,115.7 857.68,115.8 857.80,112.6 857.92,115.1 858.04,114.4 858.16,110.7 858.28,117.2 858.40,116.4 858.52,114.9 858.64,113.6 858.76,114.2 858.88,113.1 859.00,111.8 859.12,109.4 859.24,110.4 859.36,113.0 859.48,106.8 859.60,115.7 859.72,108.6 859.84,115.0 859.96,116.8 860.08,115.4 860.20,112.9 860.32,112.1 860.44,111.6 860.56,116.4 860.68,114.8 860.80,112.2 860.92,116.5 861.04,113.4 861.16,113.9 861.28,114.8 861.40,113.8 861.52,113.3 861.64,114.9 861.76,114.0 861.88,112.7 862.00,110.4 862.12,113.1 862.24,112.0 862.36,112.5 862.48,112.9 862.60,109.5 862.72,115.0 862.84,106.7 862.96,107.7 863.08,112.4 863.20,110.2 863.32,114.6 863.44,116.0 863.56,113.9 863.68,115.5 863.80,114.3 863.92,112.5 864.04,113.5 864.16,115.1 864.28,115.5 864.40,114.5 864.52,114.7 864.64,117.3 864.76,113.8 864.88,115.1 865.00,111.4 865.12,117.6 865.24,116.9 865.36,109.9 865.48,117.3 865.60,109.2 865.72,117.5 865.84,114.6 865.96,116.3 866.08,114.5 866.20,116.1 866.32,111.8 866.44,122.5 866.56,117.3 866.68,118.8 866.80,114.4 866.92,109.4 867.04,108.8 867.16,114.9 867.28,112.1 867.40,112.8 867.52,115.9 867.64,119.8 867.76,115.6 867.88,113.2 868.00,114.4 868.12,115.1 868.24,120.4 868.36,114.9 868.48,115.9 868.60,115.5 868.72,111.4 868.84,119.7 868.96,115.3 869.08,114.6 869.20,114.4 869.32,114.0 869.44,112.8 869.56,115.2 869.68,112.5 869.80,119.7 869.92,116.6 870.04,116.9 870.16,117.4 870.28,118.3 870.40,112.9 870.52,117.3 870.64,116.3 870.76,121.6 870.88,114.6 871.00,116.5 871.12,117.9 871.24,115.7 871.36,114.7 871.48,115.2 871.60,111.7 871.72,114.1 871.84,117.9 871.96,112.0 872.08,108.8 872.20,118.5 872.32,113.8 872.44,116.4 872.56,110.4 872.68,111.3 872.80,113.7 872.92,116.5 873.04,117.7 873.16,111.3 873.28,114.3 873.40,113.0 873.52,110.4 873.64,121.6 873.76,117.1 873.88,112.7 874.00,115.6 874.12,118.9 874.24,114.6 874.36,112.7 874.48,114.2 874.60,113.2 874.72,115.9 874.84,118.9 874.96,111.2 875.08,116.0 875.20,115.6 875.32,116.8 875.44,112.2 875.56,114.9 875.68,117.7 875.80,119.7 875.92,118.0 876.04,110.5 876.16,111.8 876.28,118.8 876.40,116.6 876.52,117.1 876.64,116.5 876.76,112.5 876.88,108.5 877.00,121.0 877.12,110.9 877.24,116.2 877.36,114.5 877.48,113.3 877.60,113.9 877.72,118.5 877.84,116.6 877.96,118.9 878.08,115.2 878.20,113.6 878.32,116.2 878.44,114.7 878.56,116.5 878.68,118.3 878.80,115.2 878.92,116.3 879.04,115.2 879.16,113.6 879.28,116.7 879.40,113.5 879.52,117.3 879.64,115.0 879.76,113.1 879.88,118.6 880.00,115.9 880.12,113.3 880.24,121.9 880.36,113.3 880.48,113.1 880.60,116.6 880.72,110.5 880.84,116.8 880.96,111.1 881.08,115.6 881.20,115.3 881.32,116.4 881.44,116.5 881.56,111.6 881.68,120.2 881.80,118.2 881.92,116.1 882.04,112.7 882.16,115.3 882.28,113.2 882.40,113.1 882.52,117.8 882.64,117.1 882.76,115.1 882.88,123.8 883.00,116.4 883.12,115.4 883.24,118.0 883.36,113.5 883.48,116.0 883.60,119.3 883.72,112.7 883.84,116.5 883.96,117.0 884.08,113.3 884.20,116.9 884.32,116.8 884.44,114.6 884.56,118.4 884.68,117.0 884.80,114.2 884.92,115.4 885.04,115.3 885.16,120.2 885.28,110.6 885.40,118.0 885.52,118.9 885.64,117.3 885.76,117.0 885.88,115.6 886.00,119.3 886.12,114.9 886.24,114.7 886.36,113.0 886.48,117.2 886.60,115.2 886.72,117.4 886.84,117.2 886.96,113.3 887.08,118.4 887.20,115.9 887.32,115.2 887.44,121.2 887.56,117.8 887.68,114.6 887.80,115.5 887.92,118.5 888.04,115.4 888.16,118.8 888.28,105.0 888.40,114.0 888.52,119.1 888.64,119.0 888.76,118.2 888.88,116.1 889.00,115.5 889.12,124.2 889.24,112.8 889.36,116.1 889.48,119.0 889.60,117.8 889.72,116.3 889.84,114.2 889.96,114.9 890.08,116.1 890.20,122.1 890.32,117.4 890.44,116.5 890.56,113.4 890.68,121.9 890.80,115.5 890.92,119.3 891.04,118.8 891.16,120.9 891.28,115.8 891.40,116.5 891.52,112.9 891.64,115.3 891.76,119.9 891.88,119.0 892.00,115.5 892.12,118.9 892.24,119.9 892.36,122.3 892.48,119.0 892.60,114.9 892.72,117.9 892.84,116.1 892.96,119.1 893.08,118.9 893.20,114.6 893.32,116.9 893.44,117.4 893.56,118.3 893.68,108.0 893.80,117.0 893.92,112.6 894.04,117.4 894.16,117.6 894.28,121.3 894.40,119.6 894.52,117.6 894.64,118.0 894.76,116.5 894.88,113.5 895.00,114.7 895.12,117.3 895.24,120.6 895.36,114.3 895.48,114.6 895.60,118.2 895.72,112.8 895.84,119.6 895.96,116.3 896.08,117.4 896.20,121.3 896.32,116.5 896.44,118.4 896.56,113.9 896.68,123.3 896.80,114.3 896.92,117.7 897.04,117.3 897.16,113.7 897.28,119.8 897.40,113.7 897.52,116.4 897.64,118.5 897.76,117.3 897.88,116.0 898.00,120.8 898.12,115.0 898.24,115.1 898.36,115.9 898.48,118.8 898.60,115.8 898.72,118.5 898.84,117.0 898.96,117.3 899.08,122.2 899.20,115.6 899.32,117.9 899.44,115.9 899.56,113.8 899.68,118.5 899.80,113.8 899.92,116.5 900.04,118.0 900.16,115.7 900.28,120.3 900.40,122.4 900.52,117.5 900.64,118.5 900.76,115.1 900.88,116.6 901.00,119.0 901.12,116.0 901.24,116.1 901.36,116.7 901.48,114.9 901.60,120.3 901.72,120.1 901.84,118.3 901.96,119.3 902.08,118.4 902.20,122.7 902.32,115.2 902.44,119.4 902.56,119.2 902.68,117.4 902.80,117.5 902.92,117.6 903.04,113.2 903.16,118.9 903.28,120.1 903.40,119.5 903.52,113.5 903.64,121.6 903.76,120.7 903.88,119.2 904.00,115.3 904.12,120.4 904.24,113.9 904.36,117.1 904.48,113.2 904.60,122.8 904.72,116.4 904.84,114.7 904.96,120.8 905.08,113.3 905.20,117.0 905.32,118.9 905.44,119.7 905.56,120.3 905.68,114.5 905.80,120.3 905.92,117.8 906.04,115.6 906.16,121.2 906.28,117.2 906.40,113.0 906.52,122.0 906.64,117.5 906.76,119.2 906.88,118.3 907.00,115.5 907.12,118.8 907.24,116.7 907.36,117.4 907.48,118.5 907.60,123.9 907.72,116.4 907.84,119.3 907.96,117.2 908.08,119.2 908.20,119.0 908.32,119.7 908.44,117.3 908.56,113.3 908.68,119.2 908.80,117.2 908.92,119.1 909.04,114.4 909.16,116.5 909.28,114.2 909.40,122.0 909.52,116.5 909.64,116.4 909.76,119.3 909.88,115.0 910.00,117.6 910.12,119.7 910.24,117.9 910.36,114.1 910.48,119.4 910.60,119.2 910.72,115.3 910.84,115.0 910.96,121.6 911.08,116.4 911.20,118.6 911.32,115.7 911.44,114.9 911.56,117.3 911.68,119.4 911.80,119.5 911.92,113.1 912.04,117.8 912.16,115.2 912.28,119.7 912.40,119.0 912.52,113.3 912.64,118.0 912.76,115.0 912.88,117.7 913.00,113.3 913.12,120.5 913.24,120.7 913.36,117.8 913.48,118.8 913.60,117.7 913.72,119.6 913.84,114.9 913.96,112.0 914.08,117.6 914.20,117.0 914.32,121.4 914.44,118.0 914.56,120.4 914.68,118.9 914.80,122.4 914.92,119.1 915.04,116.4 915.16,116.3 915.28,118.8 915.40,122.2 915.52,119.8 915.64,115.1 915.76,120.8 915.88,118.5 916.00,115.3 916.12,115.1 916.24,114.7 916.36,117.7 916.48,122.4 916.60,117.9 916.72,118.9 916.84,117.9 916.96,114.4 917.08,119.1 917.20,117.1 917.32,119.3 917.44,119.4 917.56,121.8 917.68,119.2 917.80,121.6 917.92,114.5 918.04,116.6 918.16,123.2 918.28,116.3 918.40,120.6 918.52,118.7 918.64,117.4 918.76,114.7 918.88,119.8 919.00,121.0 919.12,119.5 919.24,118.5 919.36,119.0 919.48,115.5 919.60,120.5 919.72,121.5 919.84,121.8 919.96,115.8 920.08,118.9 920.20,118.9 920.32,118.9 920.44,119.9 920.56,116.6 920.68,112.4 920.80,117.8 920.92,115.7 921.04,118.4 921.16,118.4 921.28,117.9 921.40,118.3 921.52,117.4 921.64,118.3 921.76,120.1 921.88,119.0 922.00,114.7 922.12,118.5 922.24,120.1 922.36,116.8 922.48,119.3 922.60,119.3 922.72,115.7 922.84,115.3 922.96,118.0 923.08,117.4 923.20,116.4 923.32,114.8 923.44,117.2 923.56,115.6 923.68,117.5 923.80,117.7 923.92,118.5 924.04,120.6 924.16,113.7 924.28,115.2 924.40,125.5 924.52,117.5 924.64,118.5 924.76,123.7 924.88,121.3 925.00,116.8 925.12,118.5 925.24,118.6 925.36,121.9 925.48,117.6 925.60,119.7 925.72,120.7 925.84,125.2 925.96,114.8 926.08,114.1 926.20,116.7 926.32,114.7 926.44,115.8 926.56,116.3 926.68,117.3 926.80,118.2 926.92,117.7 927.04,117.1 927.16,118.6 927.28,117.2 927.40,118.8 927.52,117.6 927.64,119.1 927.76,118.9 927.88,117.4 928.00,118.4 928.12,117.0 928.24,118.3 928.36,118.0 928.48,117.2 928.60,115.3 928.72,115.6 928.84,120.1 928.96,117.9 929.08,114.1 929.20,118.2 929.32,117.8 929.44,113.9 929.56,120.4 929.68,114.8 929.80,119.7 929.92,117.1 930.04,120.1 930.16,121.8 930.28,118.0 930.40,122.4 930.52,111.8 930.64,118.4 930.76,120.9 930.88,122.5 931.00,114.9 931.12,119.2 931.24,113.4 931.36,122.0 931.48,121.2 931.60,116.4 931.72,120.6 931.84,115.0 931.96,117.8 932.08,114.0 932.20,121.4 932.32,119.8 932.44,119.3 932.56,120.3 932.68,118.6 932.80,119.6 932.92,120.8 933.04,118.4 933.16,114.5 933.28,122.1 933.40,119.1 933.52,121.8 933.64,117.7 933.76,115.5 933.88,116.4 934.00,118.9 934.12,118.7 934.24,120.6 934.36,120.3 934.48,117.9 934.60,122.6 934.72,117.7 934.84,120.8 934.96,118.4 935.08,117.5 935.20,118.8 935.32,118.0 935.44,121.2 935.56,115.1 935.68,120.1 935.80,118.6 935.92,116.8 936.04,115.9 936.16,119.2 936.28,119.4 936.40,116.8 936.52,116.0 936.64,123.3 936.76,119.0 936.88,116.1 937.00,121.5 937.12,118.6 937.24,120.9 937.36,118.6 937.48,122.9 937.60,118.8 937.72,116.9 937.84,116.9 937.96,120.1 938.08,119.2 938.20,118.1 938.32,118.7 938.44,119.2 938.56,115.0 938.68,119.6 938.80,117.2 938.92,118.8 939.04,119.3 939.16,119.3 939.28,121.5 939.40,117.5 939.52,118.6 939.64,115.6 939.76,119.4 939.88,117.8 940.00,118.8 940.12,120.1 940.24,120.3 940.36,119.6 940.48,118.6 940.60,117.8 940.72,119.7 940.84,122.1 940.96,121.4 941.08,118.2 941.20,115.9 941.32,116.3 941.44,118.5 941.56,115.7 941.68,116.0 941.80,116.6 941.92,122.4 942.04,117.4 942.16,120.0 942.28,117.9 942.40,119.6 942.52,117.8 942.64,117.5 942.76,119.2 942.88,113.8 943.00,115.9 943.12,124.6 943.24,119.2 943.36,112.9 943.48,118.3 943.60,117.6 943.72,117.6 943.84,121.4 943.96,118.8 944.08,117.7 944.20,121.0 944.32,121.1 944.44,119.1 944.56,122.1 944.68,118.8 944.80,115.3 944.92,117.4 945.04,123.2 945.16,123.0 945.28,115.7 945.40,118.4 945.52,119.0 945.64,120.3 945.76,114.6 945.88,121.5 946.00,120.7 946.12,118.3 946.24,123.9 946.36,121.7 946.48,118.3 946.60,120.8 946.72,116.3 946.84,120.3 946.96,117.2 947.08,116.5 947.20,117.1 947.32,116.2 947.44,120.4 947.56,118.5 947.68,117.5 947.80,118.2 947.92,119.1 948.04,121.1 948.16,122.4 948.28,120.6 948.40,115.4 948.52,115.1 948.64,117.2 948.76,115.5 948.88,122.9 949.00,117.8 949.12,120.5 949.24,118.4 949.36,120.3 949.48,117.9 949.60,116.8 949.72,115.4 949.84,119.6 949.96,120.7 950.08,116.8 950.20,120.3 950.32,121.8 950.44,117.8 950.56,117.5 950.68,119.9 950.80,118.3 950.92,117.6 951.04,119.4 951.16,114.4 951.28,117.1 951.40,112.9 951.52,118.3 951.64,120.6 951.76,121.8 951.88,114.9 952.00,121.9 952.12,119.2 952.24,119.1 952.36,119.0 952.48,120.6 952.60,118.9 952.72,119.4 952.84,118.9 952.96,120.2 953.08,118.6 953.20,117.8 953.32,121.2 953.44,119.9 953.56,119.2 953.68,116.3 953.80,116.3 953.92,118.6 954.04,116.7 954.16,121.7 954.28,117.6 954.40,118.1 954.52,116.7 954.64,120.2 954.76,114.8 954.88,120.3 955.00,122.4 955.12,119.0 955.24,120.0 955.36,119.9 955.48,120.1 955.60,117.7 955.72,117.6 955.84,112.5 955.96,118.1 956.08,119.3 956.20,120.9 956.32,115.0 956.44,115.5 956.56,117.9 956.68,117.3 956.80,119.5 956.92,114.4 957.04,119.5 957.16,116.9 957.28,122.0 957.40,120.0 957.52,117.5 957.64,118.8 957.76,117.3 957.88,119.3 958.00,116.6 958.12,118.6 958.24,119.1 958.36,117.8 958.48,117.1 958.60,119.1 958.72,117.7 958.84,121.4 958.96,117.1 959.08,120.8 959.20,118.0 959.32,118.1 959.44,118.7 959.56,119.5 959.68,120.7 959.80,120.8 959.92,122.5 960.04,120.5 960.16,120.9 960.28,120.1 960.40,120.7 960.52,119.5 960.64,119.6 960.76,119.4 960.88,119.6 961.00,117.6 961.12,116.9 961.24,119.8 961.36,120.0 961.48,118.6 961.60,122.9 961.72,115.6 961.84,117.3 961.96,117.6 962.08,118.7 962.20,117.6 962.32,122.3 962.44,121.6 962.56,118.7 962.68,121.5 962.80,120.1 962.92,117.1 963.04,118.0 963.16,120.1 963.28,122.3 963.40,116.4 963.52,114.8 963.64,115.6 963.76,121.4 963.88,115.2 964.00,117.2 964.12,120.4 964.24,119.5 964.36,124.0 964.48,121.8 964.60,116.2 964.72,121.2 964.84,111.9 964.96,119.5 965.08,117.1 965.20,119.5 965.32,117.7 965.44,119.7 965.56,116.8 965.68,119.7 965.80,117.9 965.92,117.2 966.04,115.6 966.16,116.2 966.28,118.0 966.40,119.7 966.52,114.0 966.64,118.7 966.76,120.6 966.88,119.2 967.00,117.1 967.12,118.6 967.24,117.1 967.36,120.7 967.48,113.1 967.60,120.9 967.72,117.1 967.84,116.9 967.96,123.2 968.08,114.9 968.20,116.4 968.32,114.4 968.44,121.2 968.56,117.2 968.68,120.4 968.80,125.1 968.92,122.5 969.04,115.2 969.16,120.3 969.28,114.3 969.40,118.0 969.52,119.4 969.64,122.6 969.76,124.2 969.88,113.6 970.00,117.3 970.12,113.3 970.24,116.8 970.36,122.1 970.48,115.1 970.60,118.7 970.72,121.7 970.84,118.7 970.96,121.2 971.08,117.0 971.20,115.1 971.32,125.7 971.44,113.5 971.56,118.6 971.68,113.1 971.80,118.3 971.92,115.7 972.04,115.5 972.16,118.5 972.28,120.5 972.40,116.9 972.52,118.8 972.64,117.8 972.76,114.7 972.88,117.1 973.00,118.5 973.12,119.6 973.24,121.6 973.36,117.7 973.48,114.9 973.60,119.3 973.72,118.2 973.84,119.4 973.96,119.1 974.08,120.3 974.20,120.7 974.32,116.5 974.44,122.1 974.56,119.9 974.68,120.7 974.80,119.5 974.92,120.0 975.04,117.4 975.16,121.2 975.28,112.6 975.40,120.9 975.52,117.0 975.64,118.8 975.76,119.0 975.88,119.4 976.00,116.7 976.12,119.8 976.24,117.7 976.36,116.3 976.48,118.3 976.60,118.4 976.72,116.5 976.84,121.2 976.96,116.7 977.08,119.4 977.20,118.0 977.32,112.7 977.44,121.1 977.56,115.1 977.68,115.4 977.80,123.4 977.92,119.0 978.04,119.6 978.16,120.6 978.28,118.9 978.40,115.2 978.52,122.4 978.64,121.6 978.76,117.0 978.88,116.0 979.00,120.6 979.12,116.9 979.24,120.2 979.36,116.6 979.48,118.0 979.60,121.8 979.72,121.6 979.84,122.5 979.96,120.1 980.08,120.2 980.20,119.2 980.32,123.4 980.44,115.4 980.56,123.1 980.68,121.4 980.80,118.4 980.92,113.7 981.04,121.3 981.16,115.6 981.28,119.3 981.40,118.8 981.52,117.6 981.64,115.2 981.76,119.9 981.88,121.5 982.00,114.2 982.12,123.6 982.24,118.4 982.36,120.2 982.48,118.1 982.60,117.0 982.72,116.1 982.84,121.6 982.96,118.2 983.08,117.9 983.20,116.1 983.32,117.2 983.44,117.2 983.56,120.5 983.68,121.1 983.80,116.9 983.92,113.8 984.04,120.9 984.16,119.5 984.28,115.6 984.40,115.4 984.52,120.3 984.64,113.3 984.76,121.7 984.88,116.9 985.00,117.0 985.12,121.9 985.24,116.0 985.36,122.1 985.48,118.2 985.60,118.2 985.72,121.7 985.84,116.5 985.96,118.6 986.08,122.1 986.20,116.7 986.32,113.7 986.44,116.1 986.56,119.4 986.68,118.0 986.80,118.2 986.92,119.6 987.04,118.1 987.16,116.6 987.28,120.7 987.40,120.0 987.52,117.3 987.64,116.8 987.76,126.3 987.88,115.5 988.00,119.9 988.12,114.6 988.24,113.6 988.36,121.8 988.48,118.4 988.60,117.1 988.72,121.4 988.84,118.2 988.96,116.9 989.08,116.6 989.20,121.1 989.32,119.0 989.44,118.9 989.56,118.0 989.68,117.6 989.80,114.6 989.92,118.9 990.04,119.6 990.16,119.5 990.28,121.0 990.40,120.8 990.52,117.2 990.64,119.8 990.76,117.5 990.88,122.4 991.00,117.6 991.12,120.0 991.24,116.3 991.36,119.6 991.48,115.0 991.60,114.0 991.72,119.4 991.84,120.3 991.96,121.4 992.08,119.0 992.20,119.5 992.32,118.1 992.44,120.6 992.56,117.1 992.68,117.6 992.80,124.9 992.92,116.7 993.04,120.7 993.16,117.9 993.28,119.9 993.40,118.6 993.52,116.2 993.64,116.1 993.76,114.5 993.88,122.8 994.00,120.7 994.12,115.6 994.24,116.4 994.36,124.4 994.48,118.6 994.60,118.5 994.72,117.1 994.84,118.3 994.96,116.1 995.08,113.3 995.20,118.3 995.32,118.2 995.44,120.4 995.56,117.6 995.68,113.9 995.80,120.9 995.92,119.9 996.04,118.5 996.16,122.8 996.28,121.6 996.40,116.2 996.52,118.1 996.64,118.0 996.76,117.5 996.88,121.4 997.00,120.9 997.12,116.0 997.24,121.0 997.36,121.7 997.48,118.2 997.60,117.9 997.72,115.3 997.84,118.3 997.96,119.6 998.08,114.6 998.20,116.0 998.32,115.6 998.44,116.9 998.56,119.1 998.68,118.4 998.80,118.4 998.92,116.5 999.04,120.6 999.16,119.8 999.28,118.5 999.40,116.6 999.52,115.6 999.64,119.1 999.76,118.7 999.88,119.1 1000.00,121.2 1000.12,120.1 1000.24,112.7 1000.36,117.9 1000.48,117.6 1000.60,120.3 1000.72,117.0 1000.84,118.9 1000.96,120.3 1001.08,115.4 1001.20,120.9 1001.32,119.3 1001.44,118.1 1001.56,114.5 1001.68,117.0 1001.80,116.0 1001.92,118.4 1002.04,118.2 1002.16,118.6 1002.28,119.2 1002.40,117.3 1002.52,119.9 1002.64,115.3 1002.76,120.4 1002.88,121.0 1003.00,119.5 1003.12,120.6 1003.24,119.9 1003.36,116.9 1003.48,115.8 1003.60,122.3 1003.72,116.5 1003.84,117.0 1003.96,118.4 1004.08,112.5 1004.20,115.2 1004.32,118.6 1004.44,117.1 1004.56,114.9 1004.68,116.3 1004.80,115.7 1004.92,121.1 1005.04,118.1 1005.16,118.3 1005.28,120.5 1005.40,115.7 1005.52,118.0 1005.64,117.1 1005.76,118.9 1005.88,118.2 1006.00,120.3 1006.12,118.2 1006.24,120.3 1006.36,115.8 1006.48,121.2 1006.60,117.2 1006.72,116.1 1006.84,118.5 1006.96,116.8 1007.08,117.3 1007.20,115.7 1007.32,118.2 1007.44,116.3 1007.56,117.8 1007.68,118.8 1007.80,115.4 1007.92,115.9 1008.04,118.1 1008.16,117.1 1008.28,113.9" fill="none" stroke="#000000" stroke-width="0.85" stroke-linejoin="bevel"/>
<polyline clip-path="url(#cb1)" points="692.80,182.6 692.92,186.3 693.04,176.7 693.16,187.0 693.28,181.9 693.40,188.7 693.52,176.1 693.64,175.3 693.76,179.5 693.88,181.0 694.00,174.2 694.12,169.4 694.24,178.4 694.36,181.1 694.48,174.8 694.60,179.2 694.72,176.4 694.84,169.1 694.96,173.9 695.08,179.9 695.20,179.0 695.32,180.2 695.44,180.0 695.56,174.1 695.68,174.5 695.80,178.3 695.92,184.0 696.04,183.4 696.16,171.5 696.28,174.3 696.40,175.6 696.52,176.4 696.64,172.4 696.76,181.7 696.88,182.3 697.00,176.2 697.12,178.0 697.24,183.7 697.36,169.7 697.48,169.4 697.60,171.5 697.72,180.3 697.84,176.6 697.96,176.3 698.08,167.4 698.20,181.4 698.32,174.2 698.44,182.7 698.56,172.5 698.68,174.2 698.80,172.2 698.92,181.0 699.04,177.2 699.16,174.3 699.28,174.2 699.40,163.6 699.52,173.0 699.64,170.1 699.76,158.4 699.88,177.4 700.00,172.0 700.12,172.1 700.24,168.3 700.36,175.3 700.48,169.8 700.60,166.0 700.72,165.9 700.84,170.9 700.96,173.6 701.08,180.4 701.20,166.5 701.32,166.9 701.44,175.2 701.56,169.5 701.68,166.6 701.80,169.8 701.92,168.0 702.04,174.7 702.16,168.2 702.28,172.0 702.40,165.8 702.52,171.9 702.64,161.6 702.76,172.6 702.88,173.4 703.00,170.7 703.12,167.5 703.24,165.0 703.36,173.1 703.48,175.9 703.60,168.3 703.72,167.8 703.84,165.6 703.96,169.4 704.08,163.1 704.20,170.3 704.32,167.0 704.44,164.1 704.56,166.4 704.68,168.0 704.80,162.1 704.92,166.1 705.04,177.9 705.16,167.6 705.28,168.2 705.40,168.3 705.52,168.6 705.64,165.3 705.76,173.6 705.88,163.8 706.00,160.5 706.12,172.1 706.24,170.8 706.36,166.3 706.48,172.9 706.60,169.3 706.72,166.8 706.84,166.8 706.96,166.5 707.08,178.9 707.20,173.5 707.32,167.9 707.44,176.0 707.56,164.3 707.68,177.2 707.80,174.0 707.92,169.7 708.04,165.9 708.16,169.1 708.28,162.7 708.40,166.3 708.52,175.5 708.64,166.1 708.76,163.1 708.88,172.0 709.00,166.2 709.12,175.4 709.24,168.8 709.36,165.4 709.48,169.9 709.60,164.7 709.72,163.2 709.84,172.0 709.96,164.6 710.08,169.7 710.20,174.4 710.32,170.3 710.44,169.3 710.56,162.6 710.68,171.5 710.80,175.6 710.92,167.1 711.04,160.8 711.16,164.9 711.28,167.6 711.40,163.0 711.52,163.1 711.64,159.0 711.76,169.9 711.88,166.0 712.00,164.2 712.12,166.8 712.24,164.8 712.36,168.7 712.48,168.9 712.60,172.0 712.72,151.4 712.84,166.7 712.96,167.4 713.08,168.2 713.20,163.7 713.32,166.2 713.44,166.5 713.56,163.6 713.68,163.2 713.80,171.0 713.92,166.1 714.04,164.5 714.16,174.5 714.28,172.6 714.40,167.2 714.52,169.2 714.64,163.6 714.76,167.5 714.88,161.4 715.00,173.4 715.12,167.4 715.24,167.9 715.36,164.6 715.48,159.5 715.60,175.2 715.72,169.2 715.84,164.2 715.96,170.0 716.08,162.3 716.20,167.1 716.32,170.2 716.44,162.8 716.56,171.4 716.68,164.5 716.80,161.5 716.92,169.1 717.04,168.9 717.16,166.2 717.28,168.4 717.40,167.6 717.52,170.7 717.64,163.2 717.76,165.9 717.88,160.2 718.00,161.2 718.12,161.9 718.24,164.9 718.36,173.6 718.48,165.9 718.60,164.4 718.72,159.5 718.84,165.4 718.96,185.3 719.08,172.6 719.20,165.9 719.32,170.2 719.44,165.9 719.56,169.3 719.68,172.7 719.80,167.2 719.92,172.3 720.04,167.4 720.16,162.0 720.28,173.3 720.40,173.4 720.52,169.8 720.64,161.0 720.76,171.5 720.88,163.6 721.00,168.1 721.12,169.2 721.24,179.2 721.36,159.0 721.48,172.6 721.60,168.7 721.72,167.5 721.84,165.2 721.96,176.5 722.08,175.9 722.20,173.4 722.32,170.0 722.44,171.7 722.56,167.4 722.68,169.8 722.80,170.2 722.92,173.8 723.04,170.4 723.16,168.5 723.28,163.1 723.40,165.5 723.52,168.9 723.64,165.3 723.76,168.3 723.88,171.6 724.00,168.3 724.12,169.8 724.24,179.2 724.36,176.4 724.48,176.5 724.60,176.1 724.72,169.2 724.84,176.2 724.96,182.7 725.08,171.9 725.20,172.8 725.32,181.9 725.44,180.2 725.56,173.6 725.68,182.0 725.80,178.4 725.92,171.8 726.04,172.2 726.16,180.0 726.28,178.4 726.40,170.5 726.52,169.1 726.64,179.4 726.76,173.9 726.88,172.7 727.00,168.2 727.12,170.4 727.24,173.2 727.36,183.5 727.48,174.0 727.60,177.7 727.72,173.1 727.84,184.2 727.96,173.0 728.08,177.6 728.20,171.4 728.32,179.2 728.44,168.3 728.56,178.1 728.68,179.2 728.80,175.9 728.92,178.9 729.04,178.7 729.16,186.1 729.28,176.3 729.40,183.3 729.52,170.7 729.64,179.5 729.76,177.8 729.88,178.1 730.00,178.1 730.12,179.2 730.24,173.6 730.36,175.8 730.48,182.8 730.60,177.8 730.72,189.3 730.84,185.1 730.96,181.5 731.08,172.6 731.20,182.4 731.32,184.0 731.44,182.0 731.56,186.2 731.68,175.4 731.80,175.4 731.92,176.3 732.04,178.4 732.16,183.4 732.28,182.7 732.40,176.4 732.52,175.3 732.64,176.0 732.76,182.5 732.88,185.8 733.00,185.1 733.12,177.4 733.24,172.7 733.36,177.5 733.48,181.8 733.60,174.3 733.72,184.6 733.84,184.8 733.96,181.7 734.08,187.4 734.20,183.1 734.32,175.2 734.44,187.2 734.56,183.2 734.68,186.8 734.80,180.0 734.92,179.2 735.04,186.5 735.16,183.5 735.28,185.0 735.40,184.8 735.52,180.4 735.64,173.4 735.76,183.7 735.88,184.2 736.00,183.5 736.12,183.7 736.24,180.5 736.36,185.3 736.48,187.0 736.60,179.7 736.72,194.3 736.84,176.3 736.96,190.4 737.08,181.4 737.20,190.3 737.32,177.9 737.44,183.6 737.56,188.9 737.68,183.8 737.80,191.4 737.92,191.6 738.04,182.0 738.16,181.7 738.28,188.5 738.40,183.8 738.52,184.0 738.64,182.6 738.76,177.6 738.88,188.9 739.00,186.1 739.12,183.4 739.24,182.0 739.36,189.3 739.48,195.0 739.60,185.9 739.72,193.7 739.84,191.9 739.96,187.9 740.08,184.6 740.20,195.5 740.32,191.8 740.44,179.5 740.56,179.5 740.68,190.1 740.80,185.5 740.92,193.1 741.04,188.8 741.16,192.3 741.28,188.5 741.40,185.0 741.52,188.1 741.64,190.5 741.76,192.8 741.88,200.7 742.00,199.5 742.12,191.2 742.24,192.0 742.36,184.1 742.48,195.2 742.60,191.2 742.72,189.2 742.84,197.7 742.96,188.9 743.08,190.7 743.20,197.7 743.32,198.6 743.44,190.4 743.56,186.7 743.68,193.1 743.80,189.3 743.92,193.6 744.04,188.4 744.16,196.2 744.28,195.7 744.40,199.7 744.52,196.7 744.64,196.4 744.76,195.4 744.88,187.4 745.00,196.5 745.12,194.5 745.24,201.6 745.36,188.1 745.48,193.3 745.60,193.8 745.72,198.0 745.84,193.4 745.96,198.0 746.08,191.2 746.20,195.8 746.32,190.4 746.44,197.2 746.56,195.6 746.68,197.7 746.80,198.4 746.92,199.7 747.04,190.5 747.16,201.6 747.28,200.7 747.40,200.7 747.52,194.9 747.64,194.0 747.76,192.8 747.88,198.7 748.00,201.5 748.12,195.4 748.24,202.7 748.36,195.1 748.48,198.9 748.60,198.1 748.72,192.9 748.84,203.8 748.96,194.5 749.08,199.6 749.20,198.7 749.32,197.3 749.44,196.3 749.56,202.3 749.68,204.9 749.80,197.8 749.92,204.3 750.04,202.1 750.16,204.3 750.28,199.9 750.40,205.0 750.52,209.0 750.64,198.2 750.76,202.4 750.88,190.8 751.00,205.0 751.12,203.7 751.24,202.5 751.36,204.1 751.48,200.2 751.60,197.5 751.72,201.2 751.84,199.5 751.96,197.5 752.08,204.2 752.20,200.0 752.32,201.6 752.44,201.0 752.56,209.6 752.68,205.0 752.80,201.1 752.92,204.8 753.04,205.8 753.16,200.3 753.28,206.2 753.40,199.6 753.52,202.3 753.64,203.8 753.76,199.6 753.88,203.9 754.00,206.7 754.12,212.6 754.24,210.0 754.36,200.7 754.48,206.3 754.60,211.7 754.72,202.2 754.84,211.2 754.96,209.9 755.08,205.7 755.20,207.1 755.32,205.9 755.44,207.0 755.56,203.5 755.68,200.8 755.80,203.6 755.92,207.4 756.04,202.7 756.16,207.0 756.28,213.0 756.40,201.8 756.52,209.7 756.64,202.8 756.76,206.7 756.88,206.6 757.00,211.2 757.12,207.5 757.24,203.4 757.36,212.9 757.48,212.6 757.60,208.5 757.72,213.1 757.84,211.5 757.96,207.7 758.08,206.3 758.20,207.9 758.32,212.4 758.44,209.5 758.56,197.1 758.68,212.7 758.80,209.2 758.92,210.1 759.04,210.1 759.16,211.5 759.28,211.0 759.40,212.4 759.52,208.5 759.64,214.3 759.76,205.6 759.88,217.1 760.00,207.1 760.12,211.0 760.24,209.3 760.36,209.6 760.48,216.3 760.60,212.0 760.72,212.6 760.84,208.1 760.96,212.9 761.08,215.9 761.20,213.5 761.32,216.6 761.44,213.0 761.56,212.9 761.68,212.1 761.80,210.2 761.92,213.6 762.04,213.7 762.16,215.0 762.28,210.7 762.40,207.0 762.52,220.1 762.64,204.2 762.76,210.0 762.88,213.5 763.00,206.8 763.12,214.3 763.24,212.4 763.36,210.7 763.48,217.9 763.60,221.1 763.72,215.4 763.84,206.9 763.96,214.5 764.08,217.5 764.20,214.2 764.32,212.0 764.44,210.4 764.56,215.2 764.68,213.5 764.80,213.5 764.92,213.7 765.04,208.8 765.16,208.0 765.28,216.8 765.40,213.1 765.52,220.2 765.64,214.4 765.76,218.8 765.88,211.6 766.00,202.5 766.12,219.3 766.24,226.4 766.36,219.3 766.48,218.2 766.60,210.5 766.72,211.2 766.84,215.6 766.96,216.0 767.08,213.8 767.20,215.4 767.32,218.2 767.44,209.2 767.56,212.8 767.68,220.0 767.80,215.8 767.92,215.4 768.04,218.9 768.16,219.7 768.28,214.4 768.40,215.6 768.52,210.7 768.64,217.7 768.76,220.8 768.88,218.2 769.00,219.5 769.12,218.5 769.24,216.6 769.36,216.0 769.48,211.4 769.60,212.7 769.72,216.7 769.84,214.7 769.96,213.5 770.08,215.8 770.20,216.7 770.32,213.5 770.44,219.4 770.56,214.7 770.68,219.2 770.80,223.2 770.92,218.4 771.04,215.2 771.16,215.0 771.28,223.6 771.40,212.4 771.52,217.6 771.64,219.3 771.76,218.4 771.88,220.9 772.00,215.1 772.12,219.1 772.24,222.9 772.36,213.6 772.48,224.0 772.60,218.2 772.72,223.8 772.84,220.9 772.96,217.0 773.08,215.7 773.20,217.9 773.32,218.1 773.44,219.2 773.56,226.9 773.68,219.7 773.80,222.3 773.92,213.7 774.04,221.7 774.16,215.6 774.28,226.5 774.40,218.3 774.52,218.7 774.64,216.4 774.76,217.5 774.88,217.9 775.00,219.1 775.12,223.2 775.24,217.7 775.36,219.1 775.48,225.8 775.60,213.5 775.72,222.9 775.84,221.8 775.96,222.0 776.08,220.6 776.20,217.1 776.32,221.6 776.44,213.5 776.56,220.5 776.68,229.7 776.80,218.8 776.92,222.5 777.04,217.6 777.16,224.7 777.28,221.4 777.40,222.9 777.52,220.8 777.64,221.0 777.76,223.4 777.88,222.2 778.00,218.4 778.12,220.3 778.24,220.7 778.36,224.3 778.48,219.2 778.60,215.0 778.72,223.3 778.84,222.0 778.96,223.4 779.08,217.7 779.20,227.0 779.32,221.1 779.44,224.2 779.56,221.5 779.68,220.1 779.80,219.4 779.92,223.6 780.04,223.2 780.16,219.0 780.28,218.2 780.40,230.0 780.52,226.9 780.64,221.0 780.76,223.9 780.88,222.3 781.00,224.2 781.12,220.3 781.24,222.3 781.36,223.5 781.48,224.6 781.60,217.7 781.72,220.9 781.84,232.5 781.96,224.2 782.08,225.4 782.20,226.1 782.32,221.1 782.44,228.8 782.56,220.7 782.68,217.7 782.80,221.5 782.92,220.7 783.04,221.7 783.16,224.0 783.28,220.1 783.40,222.1 783.52,219.7 783.64,229.7 783.76,223.7 783.88,219.5 784.00,225.2 784.12,225.1 784.24,222.1 784.36,226.4 784.48,222.0 784.60,218.2 784.72,222.9 784.84,225.3 784.96,221.8 785.08,225.9 785.20,218.3 785.32,225.3 785.44,218.8 785.56,223.5 785.68,222.9 785.80,221.1 785.92,221.3 786.04,223.1 786.16,225.0 786.28,221.7 786.40,225.1 786.52,224.1 786.64,220.7 786.76,223.1 786.88,230.3 787.00,228.2 787.12,222.4 787.24,220.6 787.36,226.1 787.48,224.2 787.60,225.0 787.72,222.9 787.84,226.8 787.96,227.9 788.08,222.0 788.20,226.9 788.32,225.8 788.44,220.4 788.56,219.5 788.68,225.4 788.80,223.7 788.92,222.0 789.04,212.1 789.16,223.7 789.28,224.4 789.40,221.8 789.52,222.7 789.64,229.4 789.76,229.7 789.88,225.2 790.00,228.9 790.12,227.3 790.24,224.3 790.36,225.9 790.48,222.5 790.60,224.4 790.72,220.9 790.84,232.4 790.96,226.2 791.08,224.6 791.20,228.0 791.32,228.0 791.44,227.9 791.56,224.9 791.68,225.7 791.80,226.9 791.92,224.2 792.04,222.5 792.16,225.6 792.28,221.5 792.40,223.7 792.52,226.7 792.64,224.7 792.76,224.9 792.88,229.6 793.00,221.8 793.12,225.6 793.24,231.2 793.36,229.1 793.48,226.5 793.60,230.8 793.72,230.2 793.84,225.2 793.96,228.7 794.08,221.8 794.20,223.6 794.32,225.7 794.44,218.1 794.56,219.0 794.68,234.5 794.80,226.7 794.92,227.4 795.04,224.1 795.16,225.7 795.28,232.6 795.40,224.9 795.52,229.9 795.64,227.3 795.76,224.3 795.88,229.9 796.00,226.2 796.12,225.9 796.24,226.1 796.36,224.5 796.48,232.4 796.60,227.1 796.72,233.8 796.84,225.9 796.96,219.0 797.08,226.3 797.20,228.9 797.32,224.8 797.44,230.4 797.56,232.9 797.68,225.9 797.80,226.7 797.92,228.6 798.04,230.2 798.16,228.8 798.28,227.6 798.40,227.4 798.52,232.9 798.64,227.7 798.76,227.9 798.88,227.3 799.00,228.1 799.12,220.8 799.24,223.5 799.36,227.3 799.48,226.5 799.60,230.4 799.72,227.6 799.84,229.4 799.96,230.4 800.08,228.5 800.20,226.2 800.32,221.8 800.44,229.9 800.56,226.7 800.68,225.6 800.80,228.3 800.92,224.9 801.04,225.8 801.16,226.3 801.28,222.4 801.40,226.3 801.52,227.3 801.64,230.1 801.76,228.4 801.88,232.7 802.00,231.2 802.12,227.2 802.24,229.2 802.36,231.0 802.48,227.3 802.60,231.5 802.72,235.1 802.84,226.7 802.96,233.6 803.08,229.3 803.20,227.3 803.32,227.2 803.44,231.2 803.56,228.0 803.68,228.0 803.80,233.6 803.92,226.2 804.04,237.8 804.16,227.6 804.28,232.5 804.40,229.3 804.52,226.0 804.64,220.8 804.76,232.1 804.88,228.5 805.00,221.4 805.12,231.0 805.24,225.2 805.36,228.2 805.48,239.7 805.60,227.5 805.72,231.2 805.84,236.2 805.96,226.0 806.08,232.5 806.20,232.0 806.32,229.7 806.44,227.7 806.56,232.0 806.68,224.7 806.80,230.0 806.92,227.2 807.04,232.1 807.16,228.8 807.28,221.9 807.40,225.1 807.52,230.3 807.64,229.0 807.76,228.1 807.88,231.5 808.00,227.9 808.12,229.9 808.24,228.3 808.36,226.0 808.48,225.3 808.60,231.7 808.72,227.3 808.84,234.4 808.96,226.3 809.08,231.3 809.20,228.8 809.32,230.7 809.44,228.9 809.56,225.5 809.68,231.2 809.80,225.9 809.92,227.7 810.04,230.8 810.16,225.0 810.28,224.6 810.40,228.5 810.52,229.4 810.64,223.4 810.76,230.2 810.88,225.2 811.00,225.2 811.12,234.4 811.24,228.9 811.36,230.2 811.48,236.4 811.60,229.2 811.72,229.5 811.84,229.6 811.96,229.7 812.08,228.2 812.20,232.1 812.32,234.8 812.44,230.2 812.56,231.6 812.68,229.6 812.80,231.0 812.92,234.5 813.04,225.9 813.16,229.5 813.28,226.5 813.40,226.7 813.52,228.2 813.64,230.3 813.76,233.5 813.88,225.0 814.00,230.8 814.12,231.8 814.24,231.8 814.36,224.7 814.48,229.3 814.60,233.2 814.72,228.6 814.84,230.4 814.96,231.0 815.08,231.2 815.20,224.1 815.32,228.7 815.44,227.9 815.56,229.2 815.68,231.8 815.80,230.8 815.92,231.2 816.04,230.6 816.16,230.8 816.28,229.8 816.40,233.8 816.52,231.9 816.64,227.0 816.76,229.1 816.88,226.5 817.00,231.2 817.12,230.0 817.24,226.1 817.36,236.7 817.48,227.7 817.60,226.8 817.72,228.3 817.84,230.3 817.96,233.9 818.08,228.3 818.20,225.2 818.32,230.2 818.44,227.4 818.56,232.4 818.68,227.6 818.80,226.1 818.92,230.2 819.04,228.4 819.16,229.6 819.28,227.6 819.40,232.2 819.52,229.9 819.64,229.9 819.76,229.0 819.88,232.1 820.00,221.0 820.12,229.7 820.24,230.2 820.36,232.1 820.48,232.4 820.60,228.8 820.72,227.1 820.84,226.6 820.96,236.3 821.08,231.1 821.20,233.7 821.32,231.4 821.44,228.2 821.56,235.6 821.68,231.0 821.80,228.2 821.92,230.8 822.04,229.3 822.16,232.0 822.28,230.8 822.40,229.8 822.52,228.1 822.64,230.7 822.76,226.5 822.88,229.4 823.00,231.0 823.12,232.4 823.24,234.3 823.36,231.3 823.48,232.0 823.60,228.9 823.72,235.7 823.84,225.1 823.96,225.9 824.08,234.8 824.20,231.2 824.32,231.6 824.44,232.0 824.56,227.9 824.68,229.7 824.80,227.5 824.92,234.4 825.04,230.5 825.16,229.3 825.28,229.2 825.40,234.0 825.52,222.1 825.64,229.1 825.76,231.9 825.88,231.3 826.00,230.3 826.12,233.0 826.24,228.4 826.36,228.6 826.48,231.2 826.60,228.5 826.72,230.5 826.84,229.7 826.96,232.0 827.08,228.6 827.20,225.9 827.32,229.0 827.44,227.0 827.56,230.2 827.68,230.3 827.80,230.3 827.92,224.6 828.04,223.8 828.16,232.9 828.28,232.9 828.40,233.2 828.52,229.3 828.64,232.0 828.76,232.2 828.88,229.8 829.00,229.4 829.12,228.9 829.24,235.0 829.36,232.2 829.48,225.7 829.60,226.3 829.72,227.0 829.84,230.9 829.96,230.7 830.08,231.0 830.20,230.7 830.32,224.8 830.44,235.0 830.56,224.3 830.68,227.1 830.80,222.0 830.92,225.5 831.04,227.2 831.16,228.1 831.28,232.7 831.40,229.8 831.52,230.7 831.64,226.5 831.76,229.2 831.88,232.7 832.00,229.6 832.12,226.0 832.24,232.5 832.36,224.1 832.48,235.4 832.60,231.0 832.72,228.2 832.84,227.0 832.96,230.8 833.08,231.6 833.20,228.2 833.32,228.6 833.44,233.3 833.56,230.1 833.68,223.4 833.80,227.2 833.92,228.7 834.04,232.4 834.16,231.9 834.28,229.3 834.40,226.1 834.52,229.1 834.64,229.9 834.76,229.7 834.88,226.1 835.00,226.6 835.12,231.2 835.24,226.0 835.36,232.2 835.48,227.3 835.60,234.3 835.72,226.7 835.84,232.0 835.96,230.9 836.08,232.8 836.20,236.8 836.32,232.6 836.44,230.7 836.56,230.2 836.68,228.3 836.80,228.5 836.92,230.7 837.04,227.0 837.16,225.9 837.28,234.3 837.40,231.8 837.52,228.1 837.64,229.3 837.76,232.7 837.88,228.9 838.00,227.3 838.12,232.9 838.24,228.8 838.36,232.1 838.48,231.0 838.60,231.9 838.72,228.2 838.84,236.7 838.96,228.8 839.08,230.3 839.20,229.4 839.32,228.3 839.44,225.1 839.56,229.7 839.68,228.7 839.80,227.8 839.92,226.1 840.04,227.8 840.16,224.7 840.28,231.6 840.40,238.2 840.52,231.5 840.64,232.2 840.76,233.8 840.88,226.9 841.00,226.1 841.12,231.0 841.24,226.1 841.36,229.1 841.48,232.1 841.60,232.2 841.72,226.1 841.84,229.9 841.96,228.4 842.08,225.9 842.20,228.4 842.32,227.9 842.44,226.9 842.56,231.4 842.68,228.7 842.80,228.4 842.92,230.0 843.04,229.3 843.16,226.4 843.28,234.3 843.40,230.9 843.52,233.0 843.64,227.8 843.76,226.4 843.88,226.9 844.00,228.9 844.12,229.4 844.24,228.4 844.36,228.1 844.48,226.9 844.60,231.5 844.72,228.4 844.84,228.3 844.96,231.6 845.08,233.0 845.20,230.7 845.32,222.3 845.44,231.3 845.56,224.4 845.68,230.1 845.80,231.3 845.92,229.4 846.04,226.7 846.16,231.3 846.28,229.9 846.40,227.2 846.52,231.1 846.64,226.8 846.76,226.7 846.88,228.3 847.00,232.3 847.12,231.0 847.24,231.6 847.36,235.1 847.48,231.3 847.60,232.8 847.72,230.0 847.84,224.7 847.96,231.1 848.08,226.1 848.20,230.9 848.32,229.4 848.44,230.3 848.56,228.7 848.68,228.1 848.80,231.0 848.92,227.8 849.04,226.6 849.16,228.3 849.28,228.2 849.40,226.5 849.52,228.0 849.64,224.8 849.76,230.0 849.88,229.8 850.00,227.4 850.12,226.6 850.24,228.8 850.36,230.6 850.48,226.9 850.60,227.8 850.72,225.3 850.84,230.5 850.96,231.1 851.08,230.3 851.20,228.0 851.32,227.8 851.44,226.9 851.56,230.7 851.68,229.1 851.80,230.2 851.92,235.8 852.04,226.8 852.16,229.1 852.28,228.2 852.40,231.5 852.52,226.0 852.64,227.3 852.76,229.5 852.88,232.9 853.00,232.8 853.12,227.8 853.24,232.4 853.36,229.8 853.48,232.8 853.60,231.7 853.72,230.4 853.84,229.3 853.96,230.5 854.08,229.6 854.20,232.8 854.32,227.9 854.44,225.6 854.56,231.4 854.68,227.8 854.80,228.0 854.92,228.8 855.04,227.5 855.16,230.7 855.28,230.3 855.40,226.5 855.52,229.1 855.64,229.6 855.76,228.0 855.88,228.7 856.00,226.6 856.12,225.7 856.24,228.4 856.36,228.8 856.48,229.4 856.60,228.3 856.72,229.5 856.84,231.8 856.96,229.8 857.08,233.3 857.20,225.6 857.32,226.0 857.44,227.8 857.56,226.4 857.68,229.3 857.80,225.2 857.92,235.8 858.04,227.7 858.16,226.7 858.28,224.2 858.40,225.1 858.52,232.1 858.64,229.9 858.76,228.6 858.88,233.5 859.00,232.2 859.12,229.4 859.24,230.6 859.36,225.9 859.48,231.2 859.60,225.7 859.72,229.0 859.84,228.7 859.96,227.9 860.08,229.5 860.20,225.7 860.32,232.2 860.44,231.2 860.56,231.2 860.68,233.6 860.80,230.4 860.92,227.9 861.04,228.9 861.16,226.3 861.28,227.1 861.40,231.2 861.52,228.7 861.64,226.8 861.76,236.6 861.88,229.9 862.00,231.3 862.12,229.0 862.24,232.6 862.36,233.9 862.48,229.0 862.60,232.8 862.72,232.0 862.84,227.8 862.96,232.1 863.08,231.8 863.20,227.3 863.32,228.9 863.44,232.8 863.56,227.5 863.68,228.2 863.80,224.8 863.92,229.0 864.04,232.7 864.16,229.5 864.28,224.9 864.40,227.5 864.52,231.9 864.64,232.3 864.76,234.4 864.88,234.5 865.00,223.2 865.12,236.5 865.24,232.5 865.36,229.9 865.48,227.0 865.60,231.7 865.72,231.7 865.84,227.3 865.96,233.6 866.08,230.8 866.20,228.5 866.32,226.8 866.44,228.6 866.56,230.3 866.68,231.7 866.80,230.3 866.92,226.4 867.04,231.9 867.16,227.3 867.28,229.1 867.40,227.3 867.52,231.5 867.64,233.1 867.76,227.7 867.88,227.5 868.00,227.0 868.12,230.5 868.24,227.9 868.36,230.0 868.48,230.6 868.60,232.0 868.72,233.4 868.84,227.1 868.96,236.5 869.08,230.5 869.20,227.0 869.32,229.8 869.44,233.4 869.56,228.1 869.68,231.9 869.80,228.6 869.92,231.0 870.04,229.5 870.16,231.5 870.28,226.3 870.40,233.1 870.52,221.9 870.64,229.8 870.76,226.2 870.88,228.3 871.00,230.2 871.12,232.7 871.24,226.8 871.36,224.1 871.48,228.5 871.60,232.1 871.72,229.9 871.84,230.0 871.96,235.4 872.08,232.0 872.20,225.1 872.32,228.3 872.44,232.5 872.56,229.4 872.68,229.2 872.80,234.4 872.92,233.5 873.04,229.6 873.16,228.8 873.28,229.3 873.40,230.2 873.52,226.7 873.64,228.4 873.76,228.4 873.88,234.4 874.00,230.7 874.12,233.5 874.24,229.0 874.36,230.9 874.48,230.4 874.60,225.6 874.72,234.2 874.84,230.3 874.96,230.1 875.08,237.3 875.20,228.9 875.32,234.1 875.44,233.9 875.56,238.0 875.68,231.3 875.80,229.5 875.92,231.2 876.04,226.5 876.16,230.1 876.28,234.2 876.40,227.0 876.52,229.7 876.64,230.3 876.76,232.3 876.88,231.8 877.00,229.9 877.12,235.5 877.24,224.9 877.36,232.5 877.48,232.0 877.60,230.6 877.72,233.7 877.84,232.4 877.96,232.3 878.08,234.5 878.20,233.6 878.32,232.4 878.44,225.8 878.56,231.1 878.68,229.7 878.80,231.8 878.92,236.6 879.04,233.9 879.16,232.9 879.28,229.8 879.40,229.0 879.52,233.4 879.64,228.0 879.76,236.0 879.88,232.8 880.00,228.1 880.12,229.1 880.24,230.2 880.36,236.2 880.48,225.4 880.60,230.1 880.72,227.2 880.84,230.6 880.96,226.7 881.08,230.6 881.20,231.7 881.32,226.8 881.44,229.8 881.56,233.2 881.68,235.2 881.80,230.8 881.92,232.3 882.04,230.1 882.16,227.0 882.28,234.8 882.40,233.9 882.52,234.7 882.64,226.7 882.76,231.9 882.88,231.1 883.00,228.1 883.12,231.7 883.24,233.2 883.36,233.6 883.48,233.8 883.60,229.3 883.72,228.7 883.84,231.1 883.96,225.5 884.08,230.5 884.20,229.5 884.32,230.1 884.44,230.7 884.56,232.5 884.68,230.8 884.80,235.4 884.92,230.2 885.04,232.5 885.16,232.8 885.28,232.5 885.40,231.9 885.52,231.6 885.64,228.9 885.76,232.7 885.88,233.1 886.00,231.9 886.12,227.8 886.24,232.2 886.36,231.4 886.48,231.2 886.60,229.3 886.72,233.6 886.84,227.7 886.96,234.0 887.08,231.8 887.20,230.3 887.32,227.2 887.44,226.7 887.56,228.0 887.68,233.2 887.80,229.6 887.92,234.6 888.04,229.4 888.16,230.5 888.28,231.2 888.40,229.8 888.52,233.5 888.64,231.1 888.76,225.7 888.88,233.5 889.00,233.5 889.12,230.0 889.24,232.3 889.36,229.8 889.48,229.2 889.60,226.6 889.72,234.4 889.84,227.2 889.96,229.4 890.08,228.1 890.20,229.5 890.32,230.1 890.44,227.2 890.56,226.8 890.68,231.7 890.80,237.9 890.92,233.7 891.04,230.3 891.16,231.1 891.28,232.0 891.40,230.5 891.52,235.5 891.64,235.1 891.76,231.7 891.88,232.8 892.00,229.7 892.12,225.4 892.24,225.5 892.36,233.1 892.48,232.8 892.60,231.6 892.72,230.4 892.84,236.6 892.96,234.4 893.08,233.9 893.20,228.9 893.32,231.7 893.44,231.8 893.56,232.3 893.68,231.6 893.80,230.2 893.92,235.5 894.04,230.8 894.16,228.5 894.28,232.7 894.40,233.8 894.52,232.9 894.64,227.1 894.76,231.3 894.88,228.4 895.00,234.3 895.12,233.2 895.24,231.7 895.36,231.4 895.48,231.0 895.60,237.6 895.72,229.5 895.84,234.2 895.96,229.7 896.08,232.2 896.20,227.8 896.32,234.3 896.44,233.1 896.56,233.0 896.68,234.6 896.80,234.4 896.92,225.5 897.04,229.0 897.16,233.0 897.28,231.3 897.40,233.2 897.52,234.0 897.64,229.2 897.76,230.9 897.88,228.8 898.00,229.7 898.12,236.1 898.24,230.1 898.36,233.9 898.48,234.1 898.60,231.5 898.72,228.3 898.84,231.1 898.96,227.2 899.08,232.0 899.20,230.5 899.32,228.5 899.44,233.2 899.56,232.3 899.68,233.5 899.80,233.8 899.92,231.9 900.04,233.5 900.16,235.8 900.28,232.0 900.40,231.3 900.52,231.9 900.64,227.4 900.76,238.9 900.88,233.4 901.00,227.4 901.12,232.4 901.24,229.9 901.36,228.9 901.48,231.9 901.60,229.2 901.72,233.4 901.84,230.2 901.96,231.5 902.08,232.8 902.20,234.5 902.32,231.3 902.44,236.3 902.56,233.7 902.68,232.0 902.80,234.9 902.92,234.1 903.04,232.1 903.16,231.0 903.28,233.2 903.40,233.1 903.52,233.2 903.64,233.3 903.76,231.9 903.88,228.9 904.00,232.3 904.12,233.7 904.24,229.2 904.36,230.1 904.48,230.3 904.60,235.4 904.72,230.4 904.84,232.0 904.96,233.9 905.08,228.6 905.20,226.1 905.32,227.9 905.44,236.5 905.56,235.4 905.68,235.3 905.80,230.3 905.92,231.8 906.04,228.4 906.16,231.7 906.28,229.0 906.40,231.7 906.52,233.9 906.64,231.8 906.76,227.1 906.88,229.7 907.00,232.9 907.12,230.7 907.24,238.5 907.36,230.1 907.48,227.8 907.60,231.5 907.72,229.7 907.84,235.5 907.96,236.3 908.08,229.7 908.20,234.1 908.32,235.3 908.44,233.3 908.56,225.1 908.68,235.0 908.80,235.2 908.92,232.3 909.04,231.6 909.16,231.9 909.28,232.7 909.40,231.3 909.52,227.2 909.64,230.8 909.76,229.6 909.88,226.8 910.00,229.5 910.12,237.2 910.24,232.1 910.36,229.4 910.48,235.0 910.60,233.1 910.72,230.1 910.84,234.9 910.96,229.7 911.08,226.9 911.20,227.1 911.32,232.5 911.44,229.1 911.56,234.3 911.68,227.9 911.80,231.9 911.92,229.5 912.04,234.2 912.16,227.9 912.28,230.5 912.40,230.1 912.52,235.2 912.64,231.6 912.76,235.3 912.88,232.0 913.00,228.5 913.12,227.7 913.24,232.5 913.36,233.1 913.48,229.5 913.60,233.3 913.72,229.6 913.84,230.8 913.96,233.4 914.08,234.0 914.20,232.7 914.32,231.2 914.44,235.3 914.56,233.4 914.68,231.9 914.80,230.1 914.92,232.8 915.04,232.6 915.16,232.3 915.28,233.9 915.40,234.1 915.52,239.0 915.64,230.6 915.76,234.5 915.88,234.7 916.00,233.1 916.12,233.3 916.24,232.2 916.36,230.5 916.48,231.7 916.60,224.4 916.72,231.1 916.84,223.0 916.96,229.9 917.08,236.2 917.20,233.7 917.32,240.6 917.44,230.6 917.56,235.9 917.68,233.7 917.80,230.1 917.92,236.3 918.04,231.3 918.16,237.6 918.28,229.0 918.40,235.2 918.52,232.3 918.64,234.3 918.76,232.0 918.88,229.3 919.00,235.6 919.12,231.0 919.24,232.2 919.36,228.9 919.48,232.6 919.60,229.2 919.72,232.6 919.84,229.9 919.96,235.9 920.08,228.2 920.20,235.9 920.32,230.4 920.44,233.7 920.56,235.3 920.68,232.8 920.80,234.7 920.92,230.0 921.04,231.3 921.16,227.9 921.28,235.3 921.40,228.0 921.52,229.1 921.64,232.1 921.76,225.2 921.88,234.0 922.00,233.5 922.12,231.3 922.24,229.4 922.36,230.3 922.48,231.1 922.60,229.9 922.72,226.8 922.84,220.7 922.96,234.6 923.08,230.2 923.20,234.1 923.32,230.5 923.44,231.4 923.56,227.4 923.68,230.6 923.80,233.9 923.92,239.3 924.04,235.0 924.16,230.8 924.28,230.5 924.40,229.9 924.52,234.2 924.64,234.3 924.76,229.2 924.88,232.2 925.00,232.3 925.12,233.4 925.24,235.1 925.36,232.0 925.48,229.7 925.60,231.7 925.72,232.6 925.84,228.7 925.96,230.3 926.08,238.8 926.20,232.5 926.32,236.7 926.44,227.1 926.56,230.3 926.68,230.3 926.80,235.5 926.92,235.8 927.04,233.3 927.16,232.4 927.28,233.6 927.40,231.6 927.52,230.6 927.64,230.3 927.76,235.4 927.88,233.1 928.00,235.8 928.12,233.3 928.24,231.6 928.36,230.7 928.48,234.2 928.60,233.4 928.72,232.2 928.84,228.5 928.96,230.5 929.08,229.7 929.20,231.3 929.32,234.6 929.44,230.6 929.56,234.4 929.68,229.4 929.80,235.7 929.92,231.4 930.04,235.4 930.16,230.5 930.28,232.3 930.40,232.5 930.52,233.9 930.64,236.2 930.76,228.9 930.88,230.5 931.00,232.6 931.12,234.3 931.24,233.5 931.36,231.2 931.48,234.9 931.60,227.6 931.72,231.7 931.84,232.0 931.96,234.1 932.08,235.9 932.20,230.5 932.32,235.0 932.44,233.6 932.56,235.3 932.68,234.4 932.80,226.0 932.92,236.0 933.04,228.8 933.16,231.3 933.28,230.8 933.40,227.6 933.52,226.6 933.64,231.2 933.76,230.7 933.88,232.6 934.00,231.9 934.12,227.9 934.24,234.3 934.36,232.9 934.48,232.2 934.60,232.7 934.72,229.4 934.84,230.9 934.96,230.2 935.08,231.8 935.20,233.6 935.32,234.2 935.44,234.3 935.56,235.7 935.68,238.1 935.80,235.0 935.92,232.2 936.04,229.2 936.16,231.1 936.28,226.6 936.40,229.3 936.52,233.3 936.64,232.1 936.76,232.7 936.88,234.1 937.00,231.2 937.12,231.1 937.24,229.6 937.36,230.5 937.48,238.1 937.60,232.0 937.72,232.9 937.84,232.9 937.96,228.8 938.08,225.5 938.20,235.3 938.32,234.3 938.44,231.0 938.56,231.8 938.68,231.6 938.80,232.5 938.92,233.2 939.04,236.0 939.16,235.2 939.28,231.8 939.40,229.4 939.52,228.1 939.64,228.9 939.76,235.8 939.88,232.6 940.00,233.6 940.12,227.7 940.24,236.5 940.36,236.5 940.48,233.9 940.60,235.3 940.72,231.6 940.84,235.0 940.96,230.3 941.08,237.2 941.20,237.1 941.32,230.3 941.44,233.8 941.56,232.6 941.68,230.6 941.80,230.2 941.92,234.4 942.04,228.5 942.16,237.9 942.28,231.6 942.40,232.7 942.52,231.6 942.64,233.5 942.76,236.1 942.88,239.7 943.00,227.1 943.12,233.0 943.24,229.3 943.36,231.7 943.48,231.1 943.60,231.0 943.72,233.2 943.84,230.9 943.96,232.3 944.08,233.2 944.20,231.6 944.32,233.2 944.44,235.5 944.56,233.2 944.68,234.8 944.80,232.2 944.92,234.4 945.04,229.0 945.16,232.8 945.28,235.9 945.40,235.1 945.52,231.3 945.64,232.3 945.76,232.2 945.88,230.4 946.00,230.8 946.12,234.9 946.24,237.3 946.36,224.6 946.48,234.6 946.60,234.9 946.72,232.9 946.84,232.4 946.96,228.8 947.08,230.9 947.20,229.2 947.32,235.2 947.44,233.3 947.56,234.7 947.68,230.0 947.80,237.0 947.92,231.0 948.04,229.4 948.16,234.9 948.28,234.0 948.40,231.5 948.52,229.5 948.64,231.1 948.76,228.9 948.88,232.2 949.00,236.0 949.12,233.9 949.24,230.8 949.36,237.3 949.48,231.2 949.60,228.8 949.72,233.0 949.84,233.5 949.96,231.0 950.08,233.1 950.20,234.0 950.32,230.2 950.44,230.3 950.56,231.7 950.68,230.4 950.80,234.8 950.92,236.3 951.04,229.3 951.16,234.8 951.28,238.6 951.40,230.6 951.52,232.3 951.64,230.0 951.76,232.8 951.88,231.1 952.00,229.9 952.12,230.7 952.24,231.5 952.36,229.4 952.48,232.5 952.60,232.4 952.72,233.1 952.84,228.0 952.96,229.0 953.08,234.7 953.20,230.9 953.32,237.2 953.44,229.9 953.56,233.6 953.68,230.3 953.80,234.5 953.92,232.1 954.04,229.1 954.16,230.4 954.28,231.3 954.40,231.1 954.52,233.3 954.64,233.1 954.76,231.5 954.88,229.1 955.00,234.1 955.12,233.7 955.24,232.8 955.36,232.2 955.48,229.6 955.60,227.0 955.72,229.8 955.84,230.1 955.96,226.9 956.08,235.0 956.20,234.5 956.32,231.7 956.44,233.7 956.56,230.8 956.68,226.7 956.80,232.8 956.92,230.3 957.04,231.5 957.16,232.4 957.28,227.0 957.40,233.5 957.52,232.3 957.64,232.1 957.76,237.0 957.88,233.9 958.00,231.8 958.12,234.6 958.24,234.0 958.36,235.5 958.48,233.4 958.60,232.0 958.72,230.2 958.84,234.4 958.96,229.0 959.08,230.6 959.20,227.2 959.32,234.0 959.44,234.3 959.56,233.2 959.68,229.4 959.80,234.5 959.92,231.7 960.04,231.0 960.16,231.9 960.28,235.3 960.40,230.4 960.52,233.7 960.64,234.5 960.76,232.2 960.88,233.8 961.00,230.4 961.12,230.2 961.24,231.7 961.36,235.3 961.48,231.2 961.60,235.7 961.72,230.5 961.84,231.2 961.96,231.2 962.08,230.9 962.20,230.5 962.32,228.8 962.44,239.3 962.56,234.3 962.68,228.9 962.80,235.4 962.92,230.1 963.04,237.3 963.16,233.7 963.28,224.6 963.40,233.2 963.52,232.2 963.64,235.7 963.76,234.3 963.88,229.5 964.00,233.7 964.12,228.0 964.24,232.3 964.36,232.3 964.48,231.0 964.60,234.8 964.72,230.0 964.84,229.4 964.96,231.9 965.08,233.4 965.20,236.8 965.32,233.1 965.44,235.2 965.56,228.1 965.68,234.4 965.80,229.3 965.92,233.6 966.04,229.4 966.16,230.6 966.28,232.5 966.40,232.0 966.52,231.9 966.64,234.3 966.76,234.5 966.88,232.0 967.00,232.7 967.12,229.8 967.24,230.4 967.36,236.4 967.48,231.6 967.60,231.8 967.72,229.8 967.84,227.1 967.96,235.6 968.08,231.9 968.20,230.8 968.32,233.3 968.44,231.3 968.56,232.4 968.68,235.0 968.80,232.0 968.92,228.4 969.04,231.4 969.16,231.8 969.28,236.5 969.40,230.4 969.52,230.2 969.64,232.2 969.76,230.5 969.88,229.2 970.00,234.4 970.12,231.1 970.24,232.7 970.36,226.9 970.48,233.9 970.60,234.7 970.72,232.7 970.84,230.4 970.96,231.3 971.08,237.0 971.20,231.9 971.32,234.9 971.44,235.0 971.56,226.9 971.68,235.0 971.80,232.7 971.92,239.6 972.04,230.5 972.16,231.6 972.28,232.9 972.40,231.7 972.52,233.8 972.64,231.6 972.76,231.4 972.88,233.3 973.00,229.9 973.12,231.5 973.24,235.0 973.36,228.8 973.48,231.4 973.60,228.1 973.72,234.6 973.84,228.8 973.96,230.6 974.08,229.8 974.20,234.0 974.32,229.5 974.44,231.9 974.56,235.2 974.68,235.2 974.80,225.8 974.92,232.0 975.04,230.9 975.16,234.6 975.28,230.9 975.40,224.7 975.52,232.2 975.64,229.4 975.76,239.2 975.88,229.4 976.00,235.0 976.12,234.3 976.24,232.7 976.36,230.5 976.48,226.3 976.60,229.9 976.72,230.5 976.84,232.1 976.96,232.3 977.08,230.8 977.20,230.7 977.32,230.5 977.44,230.1 977.56,234.9 977.68,231.3 977.80,230.9 977.92,235.5 978.04,231.8 978.16,233.3 978.28,236.4 978.40,230.9 978.52,228.4 978.64,237.8 978.76,231.2 978.88,234.7 979.00,232.3 979.12,231.0 979.24,232.5 979.36,235.8 979.48,232.8 979.60,232.3 979.72,237.3 979.84,234.0 979.96,230.6 980.08,230.3 980.20,234.7 980.32,235.7 980.44,229.1 980.56,232.5 980.68,233.2 980.80,230.1 980.92,231.7 981.04,230.4 981.16,230.8 981.28,234.2 981.40,236.6 981.52,230.8 981.64,232.9 981.76,230.2 981.88,234.8 982.00,234.6 982.12,236.1 982.24,233.5 982.36,231.4 982.48,225.6 982.60,230.9 982.72,231.1 982.84,227.9 982.96,234.1 983.08,233.5 983.20,236.3 983.32,229.7 983.44,228.3 983.56,234.7 983.68,235.5 983.80,232.9 983.92,232.3 984.04,236.0 984.16,234.3 984.28,230.6 984.40,232.1 984.52,233.6 984.64,232.2 984.76,234.3 984.88,230.5 985.00,235.1 985.12,230.6 985.24,231.5 985.36,233.7 985.48,232.8 985.60,229.3 985.72,231.5 985.84,229.2 985.96,229.8 986.08,235.5 986.20,231.1 986.32,231.1 986.44,233.1 986.56,234.0 986.68,227.4 986.80,232.2 986.92,232.9 987.04,233.0 987.16,230.7 987.28,234.3 987.40,237.1 987.52,228.3 987.64,232.0 987.76,233.8 987.88,233.0 988.00,228.0 988.12,229.1 988.24,230.3 988.36,232.0 988.48,234.0 988.60,231.2 988.72,231.4 988.84,237.9 988.96,233.9 989.08,236.2 989.20,235.0 989.32,234.8 989.44,232.5 989.56,232.4 989.68,233.3 989.80,231.8 989.92,233.6 990.04,230.7 990.16,233.3 990.28,232.1 990.40,231.6 990.52,227.1 990.64,234.2 990.76,231.4 990.88,233.1 991.00,235.0 991.12,234.9 991.24,231.3 991.36,231.8 991.48,237.6 991.60,233.6 991.72,227.4 991.84,236.0 991.96,235.7 992.08,231.5 992.20,238.3 992.32,236.4 992.44,230.1 992.56,233.8 992.68,233.6 992.80,230.6 992.92,231.7 993.04,232.4 993.16,232.7 993.28,237.9 993.40,233.2 993.52,230.3 993.64,230.5 993.76,237.1 993.88,231.8 994.00,230.5 994.12,234.9 994.24,233.5 994.36,234.2 994.48,236.4 994.60,232.5 994.72,233.4 994.84,231.8 994.96,233.8 995.08,230.8 995.20,235.8 995.32,232.1 995.44,232.2 995.56,228.9 995.68,232.1 995.80,230.4 995.92,231.2 996.04,232.1 996.16,230.9 996.28,234.5 996.40,230.3 996.52,231.9 996.64,229.7 996.76,232.2 996.88,232.9 997.00,233.7 997.12,229.9 997.24,234.3 997.36,229.4 997.48,233.7 997.60,232.1 997.72,231.5 997.84,232.6 997.96,228.6 998.08,233.9 998.20,232.6 998.32,235.1 998.44,233.5 998.56,234.0 998.68,226.1 998.80,232.7 998.92,232.9 999.04,233.6 999.16,232.0 999.28,230.6 999.40,231.4 999.52,233.4 999.64,236.0 999.76,232.8 999.88,232.5 1000.00,229.6 1000.12,230.1 1000.24,230.9 1000.36,235.6 1000.48,229.5 1000.60,232.1 1000.72,229.1 1000.84,232.9 1000.96,231.7 1001.08,235.4 1001.20,230.7 1001.32,232.0 1001.44,230.4 1001.56,233.9 1001.68,231.7 1001.80,232.2 1001.92,233.8 1002.04,234.5 1002.16,231.6 1002.28,230.5 1002.40,233.5 1002.52,232.9 1002.64,232.0 1002.76,230.2 1002.88,230.2 1003.00,229.4 1003.12,232.1 1003.24,236.5 1003.36,235.9 1003.48,231.2 1003.60,235.7 1003.72,230.3 1003.84,229.0 1003.96,234.5 1004.08,229.6 1004.20,232.4 1004.32,236.3 1004.44,231.2 1004.56,232.3 1004.68,232.0 1004.80,231.3 1004.92,233.6 1005.04,231.7 1005.16,231.0 1005.28,234.9 1005.40,235.4 1005.52,234.6 1005.64,227.1 1005.76,231.8 1005.88,234.8 1006.00,238.1 1006.12,232.6 1006.24,234.9 1006.36,231.4 1006.48,232.3 1006.60,235.0 1006.72,232.7 1006.84,234.4 1006.96,237.3 1007.08,232.7 1007.20,231.8 1007.32,230.4 1007.44,232.9 1007.56,235.0 1007.68,232.9 1007.80,234.6 1007.92,236.6 1008.04,231.1 1008.16,235.0 1008.28,229.0" fill="none" stroke="#00ff00" stroke-width="0.85" stroke-linejoin="bevel"/>
<polyline clip-path="url(#cb2)" points="692.80,285.5 692.92,285.7 693.04,283.7 693.16,281.9 693.28,284.6 693.40,286.9 693.52,278.7 693.64,288.0 693.76,291.6 693.88,274.6 694.00,277.7 694.12,286.6 694.24,282.8 694.36,283.2 694.48,281.6 694.60,286.2 694.72,281.6 694.84,290.1 694.96,277.6 695.08,278.8 695.20,281.4 695.32,278.4 695.44,281.9 695.56,286.1 695.68,288.7 695.80,280.9 695.92,280.4 696.04,276.1 696.16,279.3 696.28,284.0 696.40,277.8 696.52,283.3 696.64,284.1 696.76,279.2 696.88,278.1 697.00,276.2 697.12,271.3 697.24,275.2 697.36,285.7 697.48,277.3 697.60,282.1 697.72,282.7 697.84,281.3 697.96,277.4 698.08,282.0 698.20,274.6 698.32,280.7 698.44,282.7 698.56,283.1 698.68,282.3 698.80,276.3 698.92,282.4 699.04,275.3 699.16,280.5 699.28,273.3 699.40,280.3 699.52,281.9 699.64,284.3 699.76,279.9 699.88,274.7 700.00,280.3 700.12,284.6 700.24,288.2 700.36,277.3 700.48,276.8 700.60,275.1 700.72,273.9 700.84,278.9 700.96,274.8 701.08,279.0 701.20,276.7 701.32,273.1 701.44,267.4 701.56,287.9 701.68,272.0 701.80,275.2 701.92,276.1 702.04,280.5 702.16,276.8 702.28,283.2 702.40,277.1 702.52,272.4 702.64,280.4 702.76,275.6 702.88,282.6 703.00,281.6 703.12,279.2 703.24,278.0 703.36,266.3 703.48,280.8 703.60,276.1 703.72,273.1 703.84,277.7 703.96,280.7 704.08,280.0 704.20,274.0 704.32,275.9 704.44,274.7 704.56,279.0 704.68,273.6 704.80,281.0 704.92,277.6 705.04,284.0 705.16,274.2 705.28,267.7 705.40,284.5 705.52,280.9 705.64,279.2 705.76,271.5 705.88,270.7 706.00,277.6 706.12,271.1 706.24,279.6 706.36,275.1 706.48,282.2 706.60,271.0 706.72,277.7 706.84,276.4 706.96,276.9 707.08,277.1 707.20,277.8 707.32,276.6 707.44,270.4 707.56,272.9 707.68,273.1 707.80,280.8 707.92,285.7 708.04,275.8 708.16,277.5 708.28,280.1 708.40,277.2 708.52,267.4 708.64,271.8 708.76,274.4 708.88,277.0 709.00,275.3 709.12,272.7 709.24,273.5 709.36,272.5 709.48,279.8 709.60,276.9 709.72,274.4 709.84,285.2 709.96,277.6 710.08,269.9 710.20,277.6 710.32,267.9 710.44,274.9 710.56,274.2 710.68,273.0 710.80,282.3 710.92,276.9 711.04,274.7 711.16,277.5 711.28,274.3 711.40,268.9 711.52,278.8 711.64,276.4 711.76,267.0 711.88,280.8 712.00,280.7 712.12,271.1 712.24,274.3 712.36,272.1 712.48,275.1 712.60,272.8 712.72,277.0 712.84,274.7 712.96,272.3 713.08,281.9 713.20,272.5 713.32,270.0 713.44,273.5 713.56,270.9 713.68,271.7 713.80,276.4 713.92,276.7 714.04,275.8 714.16,274.4 714.28,273.8 714.40,274.4 714.52,276.1 714.64,277.8 714.76,272.8 714.88,282.1 715.00,277.9 715.12,280.0 715.24,280.6 715.36,275.7 715.48,278.2 715.60,278.9 715.72,272.9 715.84,273.0 715.96,267.6 716.08,265.7 716.20,275.4 716.32,277.1 716.44,264.6 716.56,273.9 716.68,269.0 716.80,279.0 716.92,280.0 717.04,272.4 717.16,271.3 717.28,277.6 717.40,273.6 717.52,272.7 717.64,279.7 717.76,271.2 717.88,274.9 718.00,270.7 718.12,278.0 718.24,272.0 718.36,273.8 718.48,271.9 718.60,272.7 718.72,274.3 718.84,274.5 718.96,273.6 719.08,276.3 719.20,270.5 719.32,267.1 719.44,270.2 719.56,281.3 719.68,273.6 719.80,272.0 719.92,268.0 720.04,275.1 720.16,279.0 720.28,276.1 720.40,269.1 720.52,269.5 720.64,281.5 720.76,272.7 720.88,274.1 721.00,281.7 721.12,275.4 721.24,271.0 721.36,278.9 721.48,278.3 721.60,271.5 721.72,270.0 721.84,280.5 721.96,271.0 722.08,269.7 722.20,268.0 722.32,276.3 722.44,275.6 722.56,273.1 722.68,277.4 722.80,275.6 722.92,273.3 723.04,275.5 723.16,272.4 723.28,277.3 723.40,280.0 723.52,280.3 723.64,277.0 723.76,278.2 723.88,288.9 724.00,282.7 724.12,269.3 724.24,271.4 724.36,274.1 724.48,279.0 724.60,275.9 724.72,268.5 724.84,279.4 724.96,266.3 725.08,271.2 725.20,271.3 725.32,268.6 725.44,283.7 725.56,271.0 725.68,273.2 725.80,272.9 725.92,287.4 726.04,275.6 726.16,277.7 726.28,285.6 726.40,278.6 726.52,281.1 726.64,274.4 726.76,275.8 726.88,276.1 727.00,274.7 727.12,277.3 727.24,276.9 727.36,284.0 727.48,274.3 727.60,275.9 727.72,280.1 727.84,277.2 727.96,279.6 728.08,278.5 728.20,279.8 728.32,277.1 728.44,291.1 728.56,278.2 728.68,272.6 728.80,283.5 728.92,270.4 729.04,281.9 729.16,280.8 729.28,277.5 729.40,284.4 729.52,280.5 729.64,275.8 729.76,282.2 729.88,272.9 730.00,279.0 730.12,279.0 730.24,283.6 730.36,288.3 730.48,283.0 730.60,281.1 730.72,280.9 730.84,281.9 730.96,281.5 731.08,276.1 731.20,283.5 731.32,280.4 731.44,276.0 731.56,289.8 731.68,280.9 731.80,288.1 731.92,280.1 732.04,273.7 732.16,283.4 732.28,288.8 732.40,283.0 732.52,277.1 732.64,278.7 732.76,286.9 732.88,283.5 733.00,287.0 733.12,280.5 733.24,279.2 733.36,278.5 733.48,276.8 733.60,279.6 733.72,277.1 733.84,281.2 733.96,283.3 734.08,287.1 734.20,286.8 734.32,285.8 734.44,281.5 734.56,286.5 734.68,289.9 734.80,285.8 734.92,289.7 735.04,288.1 735.16,277.5 735.28,293.6 735.40,286.9 735.52,284.3 735.64,281.1 735.76,291.1 735.88,293.7 736.00,287.3 736.12,291.6 736.24,283.5 736.36,286.9 736.48,287.9 736.60,285.1 736.72,283.9 736.84,285.9 736.96,291.2 737.08,287.8 737.20,291.1 737.32,283.3 737.44,291.3 737.56,286.0 737.68,288.7 737.80,290.6 737.92,290.2 738.04,284.7 738.16,292.5 738.28,286.6 738.40,299.1 738.52,279.2 738.64,291.7 738.76,286.1 738.88,289.0 739.00,293.1 739.12,287.9 739.24,288.0 739.36,291.6 739.48,284.5 739.60,283.2 739.72,291.0 739.84,289.5 739.96,289.5 740.08,294.6 740.20,292.0 740.32,289.1 740.44,284.3 740.56,292.1 740.68,294.3 740.80,297.5 740.92,291.2 741.04,295.2 741.16,291.2 741.28,292.7 741.40,295.3 741.52,287.5 741.64,290.6 741.76,289.5 741.88,293.3 742.00,294.9 742.12,295.8 742.24,292.0 742.36,289.0 742.48,298.7 742.60,292.1 742.72,286.8 742.84,302.8 742.96,298.9 743.08,299.0 743.20,294.1 743.32,299.3 743.44,297.2 743.56,294.1 743.68,297.1 743.80,292.4 743.92,292.3 744.04,291.8 744.16,303.0 744.28,295.1 744.40,294.6 744.52,305.0 744.64,293.7 744.76,299.2 744.88,298.9 745.00,300.0 745.12,292.6 745.24,301.1 745.36,297.1 745.48,298.5 745.60,293.3 745.72,291.1 745.84,300.4 745.96,299.4 746.08,298.4 746.20,301.3 746.32,297.7 746.44,300.3 746.56,298.0 746.68,292.1 746.80,298.6 746.92,304.1 747.04,299.3 747.16,301.3 747.28,302.2 747.40,301.2 747.52,303.4 747.64,301.4 747.76,306.3 747.88,301.1 748.00,300.9 748.12,302.8 748.24,300.5 748.36,299.6 748.48,305.1 748.60,301.4 748.72,303.4 748.84,305.2 748.96,303.8 749.08,305.9 749.20,303.9 749.32,307.4 749.44,303.8 749.56,306.7 749.68,306.5 749.80,304.5 749.92,308.3 750.04,305.6 750.16,303.1 750.28,308.2 750.40,306.8 750.52,305.6 750.64,304.1 750.76,306.7 750.88,299.5 751.00,305.0 751.12,306.3 751.24,301.7 751.36,304.6 751.48,302.6 751.60,309.4 751.72,313.3 751.84,307.9 751.96,304.2 752.08,307.0 752.20,311.8 752.32,298.6 752.44,311.3 752.56,306.5 752.68,303.0 752.80,311.6 752.92,305.4 753.04,308.5 753.16,317.6 753.28,306.3 753.40,320.2 753.52,301.5 753.64,309.2 753.76,306.8 753.88,310.7 754.00,303.2 754.12,304.1 754.24,313.3 754.36,306.9 754.48,304.2 754.60,311.5 754.72,303.1 754.84,309.0 754.96,306.3 755.08,314.2 755.20,310.6 755.32,314.5 755.44,310.5 755.56,310.4 755.68,305.7 755.80,307.7 755.92,306.9 756.04,308.8 756.16,310.0 756.28,313.8 756.40,310.8 756.52,307.6 756.64,308.7 756.76,306.0 756.88,312.3 757.00,314.2 757.12,311.1 757.24,305.1 757.36,311.6 757.48,314.6 757.60,311.1 757.72,313.4 757.84,310.3 757.96,310.2 758.08,313.9 758.20,313.4 758.32,312.9 758.44,313.5 758.56,315.9 758.68,318.0 758.80,313.5 758.92,320.0 759.04,310.8 759.16,318.4 759.28,320.8 759.40,312.7 759.52,314.4 759.64,313.5 759.76,318.5 759.88,314.9 760.00,321.8 760.12,315.5 760.24,316.7 760.36,316.6 760.48,316.9 760.60,323.5 760.72,313.4 760.84,317.1 760.96,308.8 761.08,319.4 761.20,320.2 761.32,319.4 761.44,319.5 761.56,318.4 761.68,315.1 761.80,307.6 761.92,318.3 762.04,315.7 762.16,318.2 762.28,316.7 762.40,319.8 762.52,321.4 762.64,314.0 762.76,319.0 762.88,317.6 763.00,319.5 763.12,314.2 763.24,326.5 763.36,316.9 763.48,317.4 763.60,324.4 763.72,322.4 763.84,315.3 763.96,313.6 764.08,316.9 764.20,319.2 764.32,322.9 764.44,320.0 764.56,312.5 764.68,315.2 764.80,317.5 764.92,313.3 765.04,323.1 765.16,326.6 765.28,323.5 765.40,324.7 765.52,322.4 765.64,322.3 765.76,323.5 765.88,318.9 766.00,317.0 766.12,322.2 766.24,319.5 766.36,314.7 766.48,318.8 766.60,321.9 766.72,317.9 766.84,319.1 766.96,320.0 767.08,324.4 767.20,323.3 767.32,319.5 767.44,323.0 767.56,320.5 767.68,315.4 767.80,322.4 767.92,317.9 768.04,321.7 768.16,320.4 768.28,324.6 768.40,322.7 768.52,328.8 768.64,317.4 768.76,322.3 768.88,324.8 769.00,318.2 769.12,322.6 769.24,318.7 769.36,325.2 769.48,321.0 769.60,326.0 769.72,328.5 769.84,325.1 769.96,322.4 770.08,326.6 770.20,321.5 770.32,320.8 770.44,323.9 770.56,319.5 770.68,321.6 770.80,325.5 770.92,323.9 771.04,325.1 771.16,321.8 771.28,319.6 771.40,321.9 771.52,326.3 771.64,322.4 771.76,323.4 771.88,322.5 772.00,329.1 772.12,324.3 772.24,328.5 772.36,330.6 772.48,323.1 772.60,325.1 772.72,322.2 772.84,321.9 772.96,321.0 773.08,323.0 773.20,324.7 773.32,325.9 773.44,321.1 773.56,328.8 773.68,320.6 773.80,324.8 773.92,327.7 774.04,327.8 774.16,325.9 774.28,328.7 774.40,334.1 774.52,328.0 774.64,325.2 774.76,329.5 774.88,329.9 775.00,322.9 775.12,328.1 775.24,325.5 775.36,332.0 775.48,326.0 775.60,326.2 775.72,327.7 775.84,320.7 775.96,328.4 776.08,327.7 776.20,330.8 776.32,328.6 776.44,330.1 776.56,328.3 776.68,330.0 776.80,325.5 776.92,330.7 777.04,326.8 777.16,328.1 777.28,330.1 777.40,329.9 777.52,327.2 777.64,323.2 777.76,323.5 777.88,327.1 778.00,325.1 778.12,332.0 778.24,328.6 778.36,335.4 778.48,328.2 778.60,322.5 778.72,327.2 778.84,324.9 778.96,325.9 779.08,329.7 779.20,327.2 779.32,323.4 779.44,327.5 779.56,327.4 779.68,327.1 779.80,327.0 779.92,326.3 780.04,332.6 780.16,329.7 780.28,324.5 780.40,325.3 780.52,326.3 780.64,327.2 780.76,328.5 780.88,331.5 781.00,327.7 781.12,325.2 781.24,338.3 781.36,329.0 781.48,331.0 781.60,327.9 781.72,334.0 781.84,328.8 781.96,326.3 782.08,330.0 782.20,330.8 782.32,335.1 782.44,322.4 782.56,334.9 782.68,330.9 782.80,334.3 782.92,327.1 783.04,331.1 783.16,331.5 783.28,332.0 783.40,334.1 783.52,329.9 783.64,329.3 783.76,332.4 783.88,329.5 784.00,333.4 784.12,330.5 784.24,338.8 784.36,330.3 784.48,333.4 784.60,333.0 784.72,327.1 784.84,336.2 784.96,330.5 785.08,332.3 785.20,335.8 785.32,331.5 785.44,325.4 785.56,332.7 785.68,327.2 785.80,332.6 785.92,332.4 786.04,333.2 786.16,336.6 786.28,332.0 786.40,333.9 786.52,329.9 786.64,331.2 786.76,335.8 786.88,331.6 787.00,327.3 787.12,330.5 787.24,335.2 787.36,335.9 787.48,330.8 787.60,332.0 787.72,333.0 787.84,336.0 787.96,333.1 788.08,337.8 788.20,328.7 788.32,332.1 788.44,333.2 788.56,329.8 788.68,334.9 788.80,331.8 788.92,332.1 789.04,336.4 789.16,330.8 789.28,329.1 789.40,334.8 789.52,333.1 789.64,329.8 789.76,331.1 789.88,337.1 790.00,332.0 790.12,335.4 790.24,335.2 790.36,337.8 790.48,331.4 790.60,331.5 790.72,330.0 790.84,333.5 790.96,332.6 791.08,332.0 791.20,336.7 791.32,332.0 791.44,325.2 791.56,331.8 791.68,332.7 791.80,333.3 791.92,332.1 792.04,334.1 792.16,334.5 792.28,336.1 792.40,333.8 792.52,335.7 792.64,339.5 792.76,338.0 792.88,330.0 793.00,336.0 793.12,335.3 793.24,340.7 793.36,332.4 793.48,339.4 793.60,332.7 793.72,333.9 793.84,337.0 793.96,336.6 794.08,338.5 794.20,335.4 794.32,334.6 794.44,333.5 794.56,337.1 794.68,333.7 794.80,335.9 794.92,336.9 795.04,333.5 795.16,337.5 795.28,340.4 795.40,338.6 795.52,337.5 795.64,339.9 795.76,335.0 795.88,332.7 796.00,334.7 796.12,337.6 796.24,330.0 796.36,338.8 796.48,332.9 796.60,333.3 796.72,343.1 796.84,329.7 796.96,336.4 797.08,337.1 797.20,339.0 797.32,331.6 797.44,328.4 797.56,335.8 797.68,338.1 797.80,338.1 797.92,334.0 798.04,335.8 798.16,335.8 798.28,333.1 798.40,333.0 798.52,337.1 798.64,341.4 798.76,329.8 798.88,336.1 799.00,337.5 799.12,336.9 799.24,332.1 799.36,336.3 799.48,337.5 799.60,340.7 799.72,332.3 799.84,336.2 799.96,333.4 800.08,337.8 800.20,333.4 800.32,337.2 800.44,333.4 800.56,332.0 800.68,334.2 800.80,338.6 800.92,336.7 801.04,336.2 801.16,338.1 801.28,340.5 801.40,331.3 801.52,339.7 801.64,338.1 801.76,340.7 801.88,338.6 802.00,338.3 802.12,341.1 802.24,334.4 802.36,337.8 802.48,341.1 802.60,338.8 802.72,334.6 802.84,339.2 802.96,336.8 803.08,336.1 803.20,337.2 803.32,336.9 803.44,338.2 803.56,335.9 803.68,342.5 803.80,335.3 803.92,335.9 804.04,338.1 804.16,341.6 804.28,338.0 804.40,335.5 804.52,337.8 804.64,336.7 804.76,335.5 804.88,338.5 805.00,336.3 805.12,338.4 805.24,337.2 805.36,332.6 805.48,334.2 805.60,333.3 805.72,335.6 805.84,337.1 805.96,334.8 806.08,330.3 806.20,334.8 806.32,337.5 806.44,336.2 806.56,338.6 806.68,338.4 806.80,338.2 806.92,333.3 807.04,339.3 807.16,337.3 807.28,337.6 807.40,342.2 807.52,336.3 807.64,341.0 807.76,336.4 807.88,337.6 808.00,338.2 808.12,336.8 808.24,339.3 808.36,334.6 808.48,338.4 808.60,341.0 808.72,338.5 808.84,335.8 808.96,341.2 809.08,338.5 809.20,340.3 809.32,333.0 809.44,336.6 809.56,338.9 809.68,334.8 809.80,334.8 809.92,337.2 810.04,339.9 810.16,339.1 810.28,342.2 810.40,342.8 810.52,334.3 810.64,338.1 810.76,334.9 810.88,344.7 811.00,335.9 811.12,335.6 811.24,337.7 811.36,337.5 811.48,337.6 811.60,333.7 811.72,337.3 811.84,341.7 811.96,343.5 812.08,342.1 812.20,339.7 812.32,336.9 812.44,339.9 812.56,335.7 812.68,338.2 812.80,339.6 812.92,340.3 813.04,335.6 813.16,335.3 813.28,336.8 813.40,337.6 813.52,342.2 813.64,333.4 813.76,337.0 813.88,337.6 814.00,338.2 814.12,343.7 814.24,340.0 814.36,339.8 814.48,340.0 814.60,339.5 814.72,339.8 814.84,335.4 814.96,342.4 815.08,341.3 815.20,340.8 815.32,338.0 815.44,335.6 815.56,337.6 815.68,337.6 815.80,338.6 815.92,335.1 816.04,340.5 816.16,337.3 816.28,345.4 816.40,337.4 816.52,337.6 816.64,340.0 816.76,339.8 816.88,342.8 817.00,340.7 817.12,339.4 817.24,339.0 817.36,340.4 817.48,339.1 817.60,338.2 817.72,340.5 817.84,338.0 817.96,337.9 818.08,341.5 818.20,346.3 818.32,334.0 818.44,331.0 818.56,337.1 818.68,335.7 818.80,339.5 818.92,338.2 819.04,342.9 819.16,336.9 819.28,337.0 819.40,337.7 819.52,337.8 819.64,339.8 819.76,340.3 819.88,338.4 820.00,339.5 820.12,335.7 820.24,339.7 820.36,337.5 820.48,334.8 820.60,336.1 820.72,338.9 820.84,336.7 820.96,336.2 821.08,337.6 821.20,339.8 821.32,340.8 821.44,333.5 821.56,339.2 821.68,341.9 821.80,340.3 821.92,340.1 822.04,341.5 822.16,338.5 822.28,341.3 822.40,339.9 822.52,336.1 822.64,337.6 822.76,337.1 822.88,340.4 823.00,340.6 823.12,340.7 823.24,342.4 823.36,337.7 823.48,335.5 823.60,333.4 823.72,342.8 823.84,334.2 823.96,334.3 824.08,341.3 824.20,334.7 824.32,338.5 824.44,341.4 824.56,341.7 824.68,337.7 824.80,338.6 824.92,339.5 825.04,336.3 825.16,339.4 825.28,338.7 825.40,340.4 825.52,335.1 825.64,338.4 825.76,342.0 825.88,341.4 826.00,335.8 826.12,340.7 826.24,335.7 826.36,331.8 826.48,338.4 826.60,339.1 826.72,338.6 826.84,337.8 826.96,339.3 827.08,330.6 827.20,335.8 827.32,337.8 827.44,337.6 827.56,340.3 827.68,337.5 827.80,335.6 827.92,334.7 828.04,335.3 828.16,334.3 828.28,338.6 828.40,341.8 828.52,338.6 828.64,340.6 828.76,336.6 828.88,336.0 829.00,341.0 829.12,338.1 829.24,339.0 829.36,340.6 829.48,338.6 829.60,337.5 829.72,339.3 829.84,336.9 829.96,338.3 830.08,330.3 830.20,339.0 830.32,343.2 830.44,341.0 830.56,340.1 830.68,337.9 830.80,338.0 830.92,338.2 831.04,344.0 831.16,336.9 831.28,337.6 831.40,337.4 831.52,339.6 831.64,334.3 831.76,333.6 831.88,341.5 832.00,331.7 832.12,341.2 832.24,337.8 832.36,333.0 832.48,339.0 832.60,340.6 832.72,335.6 832.84,335.5 832.96,338.5 833.08,342.0 833.20,337.8 833.32,336.4 833.44,335.7 833.56,340.4 833.68,342.8 833.80,338.8 833.92,338.4 834.04,339.1 834.16,340.2 834.28,335.0 834.40,337.6 834.52,336.4 834.64,337.8 834.76,338.2 834.88,341.2 835.00,340.2 835.12,338.5 835.24,334.3 835.36,342.1 835.48,338.3 835.60,338.9 835.72,340.8 835.84,338.4 835.96,341.6 836.08,342.8 836.20,339.6 836.32,343.6 836.44,338.7 836.56,336.9 836.68,342.9 836.80,341.4 836.92,334.4 837.04,338.6 837.16,339.9 837.28,338.1 837.40,339.2 837.52,338.6 837.64,343.7 837.76,337.7 837.88,335.2 838.00,338.8 838.12,337.3 838.24,336.4 838.36,337.1 838.48,337.8 838.60,336.8 838.72,337.6 838.84,340.7 838.96,341.4 839.08,341.2 839.20,341.3 839.32,337.6 839.44,337.7 839.56,340.5 839.68,341.4 839.80,341.1 839.92,337.9 840.04,338.1 840.16,338.1 840.28,335.9 840.40,339.2 840.52,337.6 840.64,337.8 840.76,336.8 840.88,340.3 841.00,332.4 841.12,337.8 841.24,340.4 841.36,336.7 841.48,337.2 841.60,342.2 841.72,337.9 841.84,341.4 841.96,338.3 842.08,336.8 842.20,338.2 842.32,338.4 842.44,336.9 842.56,329.4 842.68,339.3 842.80,340.6 842.92,334.6 843.04,338.2 843.16,338.6 843.28,339.6 843.40,337.2 843.52,337.2 843.64,334.9 843.76,343.1 843.88,338.8 844.00,339.2 844.12,341.4 844.24,339.8 844.36,339.5 844.48,342.6 844.60,341.7 844.72,338.2 844.84,339.3 844.96,337.7 845.08,336.6 845.20,336.6 845.32,336.3 845.44,340.2 845.56,337.6 845.68,337.9 845.80,338.5 845.92,339.9 846.04,343.1 846.16,339.2 846.28,336.4 846.40,341.1 846.52,336.8 846.64,335.5 846.76,338.0 846.88,336.5 847.00,337.4 847.12,344.3 847.24,337.8 847.36,335.8 847.48,336.9 847.60,342.7 847.72,340.5 847.84,340.9 847.96,337.7 848.08,339.7 848.20,334.5 848.32,339.5 848.44,335.1 848.56,334.7 848.68,335.0 848.80,339.4 848.92,339.7 849.04,342.2 849.16,339.3 849.28,337.9 849.40,341.7 849.52,338.7 849.64,339.6 849.76,342.1 849.88,336.5 850.00,339.1 850.12,341.3 850.24,339.9 850.36,337.5 850.48,334.5 850.60,342.0 850.72,336.1 850.84,341.3 850.96,337.4 851.08,338.7 851.20,337.1 851.32,342.3 851.44,338.3 851.56,339.6 851.68,339.4 851.80,341.3 851.92,337.6 852.04,335.9 852.16,340.1 852.28,340.1 852.40,337.1 852.52,337.5 852.64,339.3 852.76,341.0 852.88,339.5 853.00,343.3 853.12,335.5 853.24,337.8 853.36,341.7 853.48,338.8 853.60,335.6 853.72,339.8 853.84,337.3 853.96,337.6 854.08,343.7 854.20,336.4 854.32,338.0 854.44,338.9 854.56,345.1 854.68,339.4 854.80,340.0 854.92,338.2 855.04,337.7 855.16,340.7 855.28,337.9 855.40,339.0 855.52,337.8 855.64,339.0 855.76,337.3 855.88,340.5 856.00,340.0 856.12,339.0 856.24,339.0 856.36,337.1 856.48,337.8 856.60,337.0 856.72,334.6 856.84,339.5 856.96,336.5 857.08,335.8 857.20,340.5 857.32,340.9 857.44,337.3 857.56,336.3 857.68,337.9 857.80,341.8 857.92,343.0 858.04,338.5 858.16,343.5 858.28,335.7 858.40,339.3 858.52,339.6 858.64,341.4 858.76,339.6 858.88,342.7 859.00,339.9 859.12,335.2 859.24,341.1 859.36,340.5 859.48,338.7 859.60,336.3 859.72,337.8 859.84,343.4 859.96,338.5 860.08,338.1 860.20,337.6 860.32,340.3 860.44,338.5 860.56,336.2 860.68,336.4 860.80,334.5 860.92,340.1 861.04,335.3 861.16,338.4 861.28,343.3 861.40,340.1 861.52,339.3 861.64,337.1 861.76,341.9 861.88,337.6 862.00,340.4 862.12,341.6 862.24,343.6 862.36,341.1 862.48,339.2 862.60,342.8 862.72,337.9 862.84,340.5 862.96,336.8 863.08,338.2 863.20,338.3 863.32,345.1 863.44,337.7 863.56,333.4 863.68,334.8 863.80,351.1 863.92,342.0 864.04,338.9 864.16,336.6 864.28,340.2 864.40,332.6 864.52,337.8 864.64,338.7 864.76,341.8 864.88,336.0 865.00,340.7 865.12,345.1 865.24,342.6 865.36,340.1 865.48,337.1 865.60,341.4 865.72,341.1 865.84,344.9 865.96,338.5 866.08,337.8 866.20,337.0 866.32,340.4 866.44,342.9 866.56,340.0 866.68,332.2 866.80,338.4 866.92,339.0 867.04,341.6 867.16,337.4 867.28,338.6 867.40,339.2 867.52,340.7 867.64,339.3 867.76,338.9 867.88,339.2 868.00,342.7 868.12,343.4 868.24,340.4 868.36,336.0 868.48,337.5 868.60,337.1 868.72,343.0 868.84,342.8 868.96,338.4 869.08,338.9 869.20,341.1 869.32,338.4 869.44,339.2 869.56,338.8 869.68,338.9 869.80,336.5 869.92,341.0 870.04,341.0 870.16,335.7 870.28,338.5 870.40,336.2 870.52,338.6 870.64,339.3 870.76,339.3 870.88,338.6 871.00,337.6 871.12,341.4 871.24,337.8 871.36,340.8 871.48,339.5 871.60,342.3 871.72,335.6 871.84,344.2 871.96,337.7 872.08,341.2 872.20,341.8 872.32,341.6 872.44,340.4 872.56,335.5 872.68,339.7 872.80,337.7 872.92,339.9 873.04,339.5 873.16,340.7 873.28,341.6 873.40,340.9 873.52,342.8 873.64,340.9 873.76,342.6 873.88,342.6 874.00,337.9 874.12,339.0 874.24,345.5 874.36,341.8 874.48,343.3 874.60,341.0 874.72,334.6 874.84,344.4 874.96,344.9 875.08,338.7 875.20,340.3 875.32,336.9 875.44,336.8 875.56,333.0 875.68,334.8 875.80,341.5 875.92,340.2 876.04,339.0 876.16,341.8 876.28,342.6 876.40,340.9 876.52,338.6 876.64,337.6 876.76,339.7 876.88,338.8 877.00,341.0 877.12,336.7 877.24,335.6 877.36,340.1 877.48,341.6 877.60,338.3 877.72,334.6 877.84,339.8 877.96,335.7 878.08,342.1 878.20,338.4 878.32,334.7 878.44,337.3 878.56,334.6 878.68,339.6 878.80,341.3 878.92,340.5 879.04,334.4 879.16,338.6 879.28,336.8 879.40,339.0 879.52,340.1 879.64,341.0 879.76,338.6 879.88,337.6 880.00,341.1 880.12,338.9 880.24,341.6 880.36,339.3 880.48,337.2 880.60,334.0 880.72,340.4 880.84,340.9 880.96,339.8 881.08,341.6 881.20,340.5 881.32,344.3 881.44,337.0 881.56,341.0 881.68,339.5 881.80,338.9 881.92,341.2 882.04,339.4 882.16,334.3 882.28,338.1 882.40,341.3 882.52,335.4 882.64,335.6 882.76,341.0 882.88,339.7 883.00,335.6 883.12,339.2 883.24,342.4 883.36,338.5 883.48,340.0 883.60,338.1 883.72,342.1 883.84,339.1 883.96,340.8 884.08,339.7 884.20,335.4 884.32,340.0 884.44,340.5 884.56,341.8 884.68,340.9 884.80,336.1 884.92,338.3 885.04,339.6 885.16,341.0 885.28,340.8 885.40,339.6 885.52,342.0 885.64,338.0 885.76,337.4 885.88,332.9 886.00,338.1 886.12,341.8 886.24,339.9 886.36,340.1 886.48,342.0 886.60,339.3 886.72,339.7 886.84,339.7 886.96,337.8 887.08,339.3 887.20,340.5 887.32,342.2 887.44,343.6 887.56,339.4 887.68,338.7 887.80,337.1 887.92,340.7 888.04,342.2 888.16,343.0 888.28,339.0 888.40,337.8 888.52,336.9 888.64,335.2 888.76,336.2 888.88,338.8 889.00,342.9 889.12,341.1 889.24,333.4 889.36,336.4 889.48,340.2 889.60,341.7 889.72,343.2 889.84,336.9 889.96,342.4 890.08,343.5 890.20,341.6 890.32,338.1 890.44,336.0 890.56,340.6 890.68,339.3 890.80,338.0 890.92,339.4 891.04,339.4 891.16,340.6 891.28,341.1 891.40,340.6 891.52,335.1 891.64,339.9 891.76,341.9 891.88,339.6 892.00,337.7 892.12,338.2 892.24,344.8 892.36,338.8 892.48,337.0 892.60,340.1 892.72,337.5 892.84,338.3 892.96,341.4 893.08,343.0 893.20,342.8 893.32,341.0 893.44,344.3 893.56,340.4 893.68,339.3 893.80,341.1 893.92,341.0 894.04,337.4 894.16,340.3 894.28,341.8 894.40,340.2 894.52,341.4 894.64,337.4 894.76,338.3 894.88,335.3 895.00,340.9 895.12,345.3 895.24,340.4 895.36,341.7 895.48,337.4 895.60,339.1 895.72,341.7 895.84,336.2 895.96,340.5 896.08,342.3 896.20,338.9 896.32,343.6 896.44,338.6 896.56,344.1 896.68,338.5 896.80,337.9 896.92,337.1 897.04,338.3 897.16,340.6 897.28,339.7 897.40,340.2 897.52,339.8 897.64,341.9 897.76,339.6 897.88,337.6 898.00,341.6 898.12,334.0 898.24,339.4 898.36,341.1 898.48,342.1 898.60,339.1 898.72,341.1 898.84,342.2 898.96,336.6 899.08,339.8 899.20,338.3 899.32,338.4 899.44,341.7 899.56,337.6 899.68,338.5 899.80,335.5 899.92,342.3 900.04,338.4 900.16,342.7 900.28,344.2 900.40,338.7 900.52,339.1 900.64,340.2 900.76,341.7 900.88,339.6 901.00,339.9 901.12,337.8 901.24,345.1 901.36,342.0 901.48,341.4 901.60,338.4 901.72,336.7 901.84,342.0 901.96,340.7 902.08,342.4 902.20,341.7 902.32,339.6 902.44,342.0 902.56,341.8 902.68,345.1 902.80,339.3 902.92,343.0 903.04,342.7 903.16,340.2 903.28,337.6 903.40,346.7 903.52,337.1 903.64,338.0 903.76,340.1 903.88,339.0 904.00,343.1 904.12,337.2 904.24,337.0 904.36,339.4 904.48,335.5 904.60,333.8 904.72,340.7 904.84,338.6 904.96,342.3 905.08,343.7 905.20,337.9 905.32,343.7 905.44,338.6 905.56,336.4 905.68,337.0 905.80,340.0 905.92,334.1 906.04,341.2 906.16,337.9 906.28,339.8 906.40,343.3 906.52,343.0 906.64,339.2 906.76,340.7 906.88,339.2 907.00,340.9 907.12,337.4 907.24,341.6 907.36,341.8 907.48,338.6 907.60,338.8 907.72,338.9 907.84,342.7 907.96,335.4 908.08,337.9 908.20,341.9 908.32,339.5 908.44,339.9 908.56,342.9 908.68,340.5 908.80,337.3 908.92,336.3 909.04,336.3 909.16,341.8 909.28,341.1 909.40,340.3 909.52,340.6 909.64,338.0 909.76,340.6 909.88,345.7 910.00,336.7 910.12,341.9 910.24,340.8 910.36,342.7 910.48,339.9 910.60,344.2 910.72,343.9 910.84,340.0 910.96,340.7 911.08,337.3 911.20,340.8 911.32,340.8 911.44,336.3 911.56,339.1 911.68,342.5 911.80,341.9 911.92,343.7 912.04,341.4 912.16,339.8 912.28,342.2 912.40,338.8 912.52,343.3 912.64,340.5 912.76,341.1 912.88,341.2 913.00,343.0 913.12,340.5 913.24,339.9 913.36,343.3 913.48,337.6 913.60,344.7 913.72,341.0 913.84,344.4 913.96,339.3 914.08,342.5 914.20,342.3 914.32,343.5 914.44,341.6 914.56,341.0 914.68,338.7 914.80,337.7 914.92,337.3 915.04,343.7 915.16,347.7 915.28,341.6 915.40,340.2 915.52,344.4 915.64,343.6 915.76,342.6 915.88,342.7 916.00,341.1 916.12,340.2 916.24,338.9 916.36,340.4 916.48,340.4 916.60,344.8 916.72,340.0 916.84,340.7 916.96,343.9 917.08,341.4 917.20,344.3 917.32,341.1 917.44,337.8 917.56,341.1 917.68,344.0 917.80,340.3 917.92,338.5 918.04,343.1 918.16,341.4 918.28,336.8 918.40,338.9 918.52,336.4 918.64,342.4 918.76,345.9 918.88,340.7 919.00,344.0 919.12,340.6 919.24,341.7 919.36,341.4 919.48,342.7 919.60,339.6 919.72,340.0 919.84,344.5 919.96,340.5 920.08,342.7 920.20,339.9 920.32,335.8 920.44,339.0 920.56,343.2 920.68,339.0 920.80,340.3 920.92,338.1 921.04,340.7 921.16,343.5 921.28,341.5 921.40,341.3 921.52,342.0 921.64,344.2 921.76,336.9 921.88,339.6 922.00,339.5 922.12,343.6 922.24,340.5 922.36,341.0 922.48,339.3 922.60,341.3 922.72,337.9 922.84,346.1 922.96,337.3 923.08,341.1 923.20,338.9 923.32,340.3 923.44,342.1 923.56,335.3 923.68,341.7 923.80,342.6 923.92,338.0 924.04,340.3 924.16,339.0 924.28,342.7 924.40,337.8 924.52,339.4 924.64,338.6 924.76,340.2 924.88,340.1 925.00,335.2 925.12,344.2 925.24,338.1 925.36,339.0 925.48,342.6 925.60,340.9 925.72,341.3 925.84,340.8 925.96,341.3 926.08,337.6 926.20,340.6 926.32,341.4 926.44,339.1 926.56,338.7 926.68,340.0 926.80,337.2 926.92,342.3 927.04,339.6 927.16,341.3 927.28,340.0 927.40,340.5 927.52,339.2 927.64,340.5 927.76,338.3 927.88,343.9 928.00,345.4 928.12,339.1 928.24,342.1 928.36,344.2 928.48,341.0 928.60,342.3 928.72,342.1 928.84,341.3 928.96,341.9 929.08,337.5 929.20,339.4 929.32,339.8 929.44,339.2 929.56,344.0 929.68,340.9 929.80,341.4 929.92,341.4 930.04,339.8 930.16,340.6 930.28,342.1 930.40,338.8 930.52,341.4 930.64,339.8 930.76,337.5 930.88,343.2 931.00,341.5 931.12,342.4 931.24,343.0 931.36,343.1 931.48,337.2 931.60,338.2 931.72,339.8 931.84,342.0 931.96,338.2 932.08,341.3 932.20,338.0 932.32,340.3 932.44,339.4 932.56,338.3 932.68,342.2 932.80,342.7 932.92,343.4 933.04,341.9 933.16,342.0 933.28,339.3 933.40,339.6 933.52,343.4 933.64,340.9 933.76,341.3 933.88,340.7 934.00,336.6 934.12,342.3 934.24,341.1 934.36,336.0 934.48,342.7 934.60,342.2 934.72,340.2 934.84,339.7 934.96,342.2 935.08,338.9 935.20,335.2 935.32,344.0 935.44,342.0 935.56,340.8 935.68,340.6 935.80,344.1 935.92,342.3 936.04,340.6 936.16,342.8 936.28,337.0 936.40,343.6 936.52,344.1 936.64,338.3 936.76,336.4 936.88,340.7 937.00,335.1 937.12,339.1 937.24,344.2 937.36,341.1 937.48,338.6 937.60,339.5 937.72,337.8 937.84,338.2 937.96,340.6 938.08,340.9 938.20,343.1 938.32,342.5 938.44,344.9 938.56,341.7 938.68,337.2 938.80,345.6 938.92,340.8 939.04,343.7 939.16,337.1 939.28,343.2 939.40,335.6 939.52,338.5 939.64,345.7 939.76,342.8 939.88,338.6 940.00,342.1 940.12,341.4 940.24,335.4 940.36,342.3 940.48,340.5 940.60,342.4 940.72,337.0 940.84,341.1 940.96,339.7 941.08,342.9 941.20,340.2 941.32,336.6 941.44,336.2 941.56,340.1 941.68,335.1 941.80,341.7 941.92,338.5 942.04,342.2 942.16,340.1 942.28,342.3 942.40,340.4 942.52,336.8 942.64,338.6 942.76,338.8 942.88,340.0 943.00,342.8 943.12,337.3 943.24,339.7 943.36,342.8 943.48,340.6 943.60,338.2 943.72,341.6 943.84,344.6 943.96,342.7 944.08,338.7 944.20,346.2 944.32,337.7 944.44,342.5 944.56,341.2 944.68,341.3 944.80,338.8 944.92,340.5 945.04,342.1 945.16,341.1 945.28,339.5 945.40,336.4 945.52,344.1 945.64,341.7 945.76,341.8 945.88,342.9 946.00,342.9 946.12,340.0 946.24,340.9 946.36,338.4 946.48,339.6 946.60,343.3 946.72,342.9 946.84,340.3 946.96,344.5 947.08,337.8 947.20,341.0 947.32,344.8 947.44,341.9 947.56,336.0 947.68,341.4 947.80,339.0 947.92,339.1 948.04,341.9 948.16,337.7 948.28,340.1 948.40,344.3 948.52,341.8 948.64,337.5 948.76,341.3 948.88,341.2 949.00,343.3 949.12,340.2 949.24,341.8 949.36,340.8 949.48,340.2 949.60,335.6 949.72,340.4 949.84,340.5 949.96,341.6 950.08,338.9 950.20,337.3 950.32,337.5 950.44,344.2 950.56,346.5 950.68,340.9 950.80,341.4 950.92,343.5 951.04,340.2 951.16,339.6 951.28,341.9 951.40,337.7 951.52,341.5 951.64,336.6 951.76,336.4 951.88,342.9 952.00,340.7 952.12,341.1 952.24,337.8 952.36,340.2 952.48,338.6 952.60,338.3 952.72,342.6 952.84,339.2 952.96,336.7 953.08,343.3 953.20,341.9 953.32,341.8 953.44,343.8 953.56,337.8 953.68,335.4 953.80,339.4 953.92,346.3 954.04,339.7 954.16,339.2 954.28,337.2 954.40,341.3 954.52,340.5 954.64,339.8 954.76,341.7 954.88,338.6 955.00,339.3 955.12,340.9 955.24,343.8 955.36,338.9 955.48,341.7 955.60,338.1 955.72,337.6 955.84,339.3 955.96,340.2 956.08,343.1 956.20,349.5 956.32,344.9 956.44,341.3 956.56,339.1 956.68,342.2 956.80,337.0 956.92,341.1 957.04,337.0 957.16,337.5 957.28,342.2 957.40,337.7 957.52,341.1 957.64,342.6 957.76,336.2 957.88,337.8 958.00,339.9 958.12,338.5 958.24,340.6 958.36,338.5 958.48,339.6 958.60,339.5 958.72,337.4 958.84,337.2 958.96,338.1 959.08,338.1 959.20,339.4 959.32,338.2 959.44,340.9 959.56,344.0 959.68,342.8 959.80,341.3 959.92,340.1 960.04,344.8 960.16,342.5 960.28,342.3 960.40,339.3 960.52,341.9 960.64,342.6 960.76,339.8 960.88,340.3 961.00,335.1 961.12,338.8 961.24,338.8 961.36,338.5 961.48,338.0 961.60,340.1 961.72,338.3 961.84,342.6 961.96,341.1 962.08,339.1 962.20,342.1 962.32,340.8 962.44,345.2 962.56,337.7 962.68,345.6 962.80,340.1 962.92,340.1 963.04,340.8 963.16,342.6 963.28,340.9 963.40,337.1 963.52,339.0 963.64,339.5 963.76,342.0 963.88,339.1 964.00,343.8 964.12,336.7 964.24,340.0 964.36,337.6 964.48,339.9 964.60,341.3 964.72,340.6 964.84,343.6 964.96,337.4 965.08,341.7 965.20,339.2 965.32,341.2 965.44,340.5 965.56,343.3 965.68,340.7 965.80,340.4 965.92,339.5 966.04,342.9 966.16,338.4 966.28,340.4 966.40,342.2 966.52,339.4 966.64,339.5 966.76,339.8 966.88,341.1 967.00,340.4 967.12,338.4 967.24,339.4 967.36,339.8 967.48,342.7 967.60,338.8 967.72,340.4 967.84,339.9 967.96,335.9 968.08,340.0 968.20,335.8 968.32,343.2 968.44,337.6 968.56,343.0 968.68,335.4 968.80,341.0 968.92,336.5 969.04,339.1 969.16,343.6 969.28,342.7 969.40,343.5 969.52,339.2 969.64,339.9 969.76,341.9 969.88,337.7 970.00,344.6 970.12,340.9 970.24,336.1 970.36,338.3 970.48,344.1 970.60,337.2 970.72,343.4 970.84,339.7 970.96,339.0 971.08,340.5 971.20,339.3 971.32,337.4 971.44,338.2 971.56,340.8 971.68,337.3 971.80,341.8 971.92,335.4 972.04,340.4 972.16,340.1 972.28,337.9 972.40,342.6 972.52,343.1 972.64,340.2 972.76,341.2 972.88,344.6 973.00,346.0 973.12,344.2 973.24,339.5 973.36,341.2 973.48,341.9 973.60,341.1 973.72,341.5 973.84,334.4 973.96,340.8 974.08,340.9 974.20,342.2 974.32,340.6 974.44,338.2 974.56,339.7 974.68,340.7 974.80,338.6 974.92,337.9 975.04,341.2 975.16,339.9 975.28,332.0 975.40,339.9 975.52,340.0 975.64,342.5 975.76,340.2 975.88,342.4 976.00,343.0 976.12,341.4 976.24,340.2 976.36,342.0 976.48,340.9 976.60,340.5 976.72,334.8 976.84,342.2 976.96,342.0 977.08,342.2 977.20,340.2 977.32,337.7 977.44,342.0 977.56,343.9 977.68,334.7 977.80,339.4 977.92,339.4 978.04,340.0 978.16,340.2 978.28,339.8 978.40,338.6 978.52,336.8 978.64,341.1 978.76,339.9 978.88,342.1 979.00,338.9 979.12,339.5 979.24,340.8 979.36,340.6 979.48,339.0 979.60,341.4 979.72,337.8 979.84,337.7 979.96,340.8 980.08,342.1 980.20,339.7 980.32,339.2 980.44,340.6 980.56,343.3 980.68,339.5 980.80,339.7 980.92,340.5 981.04,337.8 981.16,344.1 981.28,339.6 981.40,340.8 981.52,340.9 981.64,337.8 981.76,339.3 981.88,336.3 982.00,337.4 982.12,340.5 982.24,341.2 982.36,338.1 982.48,343.0 982.60,343.3 982.72,341.3 982.84,340.4 982.96,339.1 983.08,342.6 983.20,336.1 983.32,344.5 983.44,339.5 983.56,335.6 983.68,339.2 983.80,338.4 983.92,343.4 984.04,335.2 984.16,338.3 984.28,341.8 984.40,341.2 984.52,339.4 984.64,344.0 984.76,337.9 984.88,339.7 985.00,338.0 985.12,338.5 985.24,340.6 985.36,337.7 985.48,335.4 985.60,338.7 985.72,342.1 985.84,340.9 985.96,336.5 986.08,339.2 986.20,344.0 986.32,341.0 986.44,341.2 986.56,343.1 986.68,344.7 986.80,338.2 986.92,339.4 987.04,342.7 987.16,335.2 987.28,339.3 987.40,335.1 987.52,345.7 987.64,337.7 987.76,337.6 987.88,337.9 988.00,340.6 988.12,342.4 988.24,339.6 988.36,338.9 988.48,340.2 988.60,338.0 988.72,338.4 988.84,344.4 988.96,339.4 989.08,339.8 989.20,341.6 989.32,341.6 989.44,342.1 989.56,338.8 989.68,339.9 989.80,338.5 989.92,340.3 990.04,339.2 990.16,342.0 990.28,339.5 990.40,343.0 990.52,339.7 990.64,340.9 990.76,336.2 990.88,336.9 991.00,336.4 991.12,342.4 991.24,341.0 991.36,337.2 991.48,337.1 991.60,339.4 991.72,342.4 991.84,340.4 991.96,342.7 992.08,343.4 992.20,339.1 992.32,340.1 992.44,334.6 992.56,339.0 992.68,341.1 992.80,340.7 992.92,340.8 993.04,342.7 993.16,340.3 993.28,341.3 993.40,339.8 993.52,339.5 993.64,336.8 993.76,344.2 993.88,339.0 994.00,341.6 994.12,336.1 994.24,338.0 994.36,337.8 994.48,338.1 994.60,341.7 994.72,339.2 994.84,340.8 994.96,337.7 995.08,339.7 995.20,338.8 995.32,340.6 995.44,342.6 995.56,337.2 995.68,344.5 995.80,333.5 995.92,338.4 996.04,337.9 996.16,337.3 996.28,341.7 996.40,336.3 996.52,342.1 996.64,341.0 996.76,345.5 996.88,343.7 997.00,339.1 997.12,338.9 997.24,340.0 997.36,339.4 997.48,342.4 997.60,336.6 997.72,338.9 997.84,337.6 997.96,342.5 998.08,339.7 998.20,342.4 998.32,342.0 998.44,340.5 998.56,340.6 998.68,335.7 998.80,343.2 998.92,338.3 999.04,338.2 999.16,341.0 999.28,343.4 999.40,345.3 999.52,337.6 999.64,339.0 999.76,343.2 999.88,337.9 1000.00,339.8 1000.12,339.4 1000.24,335.5 1000.36,346.2 1000.48,337.9 1000.60,337.3 1000.72,345.6 1000.84,338.7 1000.96,340.0 1001.08,341.2 1001.20,344.7 1001.32,335.3 1001.44,339.2 1001.56,339.8 1001.68,340.5 1001.80,341.3 1001.92,338.9 1002.04,341.8 1002.16,336.7 1002.28,340.2 1002.40,340.5 1002.52,337.0 1002.64,337.7 1002.76,341.0 1002.88,339.0 1003.00,340.0 1003.12,341.2 1003.24,341.1 1003.36,337.9 1003.48,341.4 1003.60,340.8 1003.72,340.5 1003.84,340.1 1003.96,341.6 1004.08,343.7 1004.20,339.8 1004.32,340.4 1004.44,336.6 1004.56,342.5 1004.68,342.7 1004.80,343.6 1004.92,345.3 1005.04,338.5 1005.16,341.5 1005.28,339.7 1005.40,340.2 1005.52,344.8 1005.64,334.8 1005.76,341.6 1005.88,340.1 1006.00,341.4 1006.12,341.3 1006.24,338.6 1006.36,338.3 1006.48,339.6 1006.60,343.0 1006.72,341.4 1006.84,339.6 1006.96,338.3 1007.08,336.2 1007.20,337.3 1007.32,343.2 1007.44,341.2 1007.56,339.1 1007.68,343.9 1007.80,341.6 1007.92,342.7 1008.04,343.1 1008.16,337.8 1008.28,340.3" fill="none" stroke="#0000ff" stroke-width="0.85" stroke-linejoin="bevel"/>
<polyline clip-path="url(#cb3)" points="692.80,396.3 692.92,407.6 693.04,395.4 693.16,395.4 693.28,392.3 693.40,395.0 693.52,391.4 693.64,400.4 693.76,389.7 693.88,399.1 694.00,396.1 694.12,401.6 694.24,398.7 694.36,402.8 694.48,395.6 694.60,398.8 694.72,391.5 694.84,394.1 694.96,395.8 695.08,392.3 695.20,385.8 695.32,395.1 695.44,399.1 695.56,403.0 695.68,398.1 695.80,395.2 695.92,390.5 696.04,395.2 696.16,401.7 696.28,391.9 696.40,394.6 696.52,398.3 696.64,405.1 696.76,397.1 696.88,402.0 697.00,393.0 697.12,393.4 697.24,387.5 697.36,390.9 697.48,393.3 697.60,385.4 697.72,398.4 697.84,397.0 697.96,393.2 698.08,391.1 698.20,398.1 698.32,391.5 698.44,386.4 698.56,397.8 698.68,395.6 698.80,390.9 698.92,390.2 699.04,390.6 699.16,377.0 699.28,399.0 699.40,388.4 699.52,394.7 699.64,387.2 699.76,394.9 699.88,391.8 700.00,388.5 700.12,389.5 700.24,381.6 700.36,391.9 700.48,393.5 700.60,390.5 700.72,392.5 700.84,388.2 700.96,382.7 701.08,390.0 701.20,389.7 701.32,394.4 701.44,393.3 701.56,388.6 701.68,391.7 701.80,383.2 701.92,390.1 702.04,384.4 702.16,395.1 702.28,392.0 702.40,386.1 702.52,387.2 702.64,391.0 702.76,391.2 702.88,393.0 703.00,386.5 703.12,388.0 703.24,392.4 703.36,397.3 703.48,386.3 703.60,385.4 703.72,378.6 703.84,390.9 703.96,393.0 704.08,392.1 704.20,387.2 704.32,386.5 704.44,380.2 704.56,390.2 704.68,385.0 704.80,389.1 704.92,394.5 705.04,384.4 705.16,387.8 705.28,381.3 705.40,380.9 705.52,388.4 705.64,385.3 705.76,386.6 705.88,391.7 706.00,385.5 706.12,386.8 706.24,380.4 706.36,389.4 706.48,390.5 706.60,380.7 706.72,382.7 706.84,380.2 706.96,381.5 707.08,387.8 707.20,389.7 707.32,382.7 707.44,383.8 707.56,390.2 707.68,383.9 707.80,389.2 707.92,388.5 708.04,383.8 708.16,383.3 708.28,388.4 708.40,380.4 708.52,384.7 708.64,380.4 708.76,387.4 708.88,387.3 709.00,383.2 709.12,383.5 709.24,390.3 709.36,387.4 709.48,380.2 709.60,383.4 709.72,385.3 709.84,387.0 709.96,397.2 710.08,386.9 710.20,392.0 710.32,384.1 710.44,393.0 710.56,383.3 710.68,390.4 710.80,382.3 710.92,389.6 711.04,387.6 711.16,384.7 711.28,386.2 711.40,388.8 711.52,378.5 711.64,385.8 711.76,386.5 711.88,380.2 712.00,389.6 712.12,381.7 712.24,390.6 712.36,384.8 712.48,386.7 712.60,389.7 712.72,389.7 712.84,387.3 712.96,391.2 713.08,372.7 713.20,380.7 713.32,387.2 713.44,386.8 713.56,375.7 713.68,383.9 713.80,385.5 713.92,387.0 714.04,385.2 714.16,383.3 714.28,387.5 714.40,388.9 714.52,387.0 714.64,383.2 714.76,382.4 714.88,382.0 715.00,392.3 715.12,382.4 715.24,385.8 715.36,388.9 715.48,386.9 715.60,385.8 715.72,381.8 715.84,380.8 715.96,385.5 716.08,381.8 716.20,381.0 716.32,387.8 716.44,385.8 716.56,383.5 716.68,385.7 716.80,391.1 716.92,378.1 717.04,384.7 717.16,385.0 717.28,386.3 717.40,388.3 717.52,379.2 717.64,386.6 717.76,383.4 717.88,387.5 718.00,388.0 718.12,389.8 718.24,391.1 718.36,391.0 718.48,384.9 718.60,391.3 718.72,386.2 718.84,391.1 718.96,388.9 719.08,386.2 719.20,388.2 719.32,385.4 719.44,387.3 719.56,383.1 719.68,385.6 719.80,388.2 719.92,389.0 720.04,388.7 720.16,384.6 720.28,392.5 720.40,389.7 720.52,383.8 720.64,388.1 720.76,389.0 720.88,389.2 721.00,384.7 721.12,393.3 721.24,390.5 721.36,393.1 721.48,391.3 721.60,381.5 721.72,393.9 721.84,391.1 721.96,392.6 722.08,386.1 722.20,386.6 722.32,392.8 722.44,389.4 722.56,391.8 722.68,388.1 722.80,388.7 722.92,387.0 723.04,387.4 723.16,396.2 723.28,395.0 723.40,390.6 723.52,395.5 723.64,392.5 723.76,389.9 723.88,394.5 724.00,390.9 724.12,394.9 724.24,386.7 724.36,393.3 724.48,391.9 724.60,392.6 724.72,396.1 724.84,389.2 724.96,397.5 725.08,387.9 725.20,393.6 725.32,400.2 725.44,389.4 725.56,392.5 725.68,395.6 725.80,395.9 725.92,392.4 726.04,398.4 726.16,409.9 726.28,400.5 726.40,395.0 726.52,392.4 726.64,391.4 726.76,396.6 726.88,396.8 727.00,391.5 727.12,396.3 727.24,397.7 727.36,394.8 727.48,397.9 727.60,401.2 727.72,394.7 727.84,393.9 727.96,399.9 728.08,393.2 728.20,395.5 728.32,401.2 728.44,400.0 728.56,393.7 728.68,403.8 728.80,391.2 728.92,400.0 729.04,395.9 729.16,392.3 729.28,399.3 729.40,401.8 729.52,406.8 729.64,404.0 729.76,400.7 729.88,398.6 730.00,402.8 730.12,404.6 730.24,406.7 730.36,410.7 730.48,400.3 730.60,403.7 730.72,397.3 730.84,402.5 730.96,405.5 731.08,401.5 731.20,403.3 731.32,405.5 731.44,401.8 731.56,405.1 731.68,402.2 731.80,408.7 731.92,406.0 732.04,404.2 732.16,406.4 732.28,408.4 732.40,406.5 732.52,411.6 732.64,409.9 732.76,404.0 732.88,410.4 733.00,404.4 733.12,412.2 733.24,399.7 733.36,410.2 733.48,406.1 733.60,406.7 733.72,405.9 733.84,407.8 733.96,412.8 734.08,407.9 734.20,410.6 734.32,407.5 734.44,416.6 734.56,407.9 734.68,414.5 734.80,410.3 734.92,412.3 735.04,409.4 735.16,413.7 735.28,410.2 735.40,409.4 735.52,411.9 735.64,408.2 735.76,413.3 735.88,413.1 736.00,409.7 736.12,412.4 736.24,406.5 736.36,412.1 736.48,407.9 736.60,410.7 736.72,416.6 736.84,413.7 736.96,413.0 737.08,416.1 737.20,413.5 737.32,411.6 737.44,412.9 737.56,407.5 737.68,406.7 737.80,416.1 737.92,418.1 738.04,411.7 738.16,409.4 738.28,419.8 738.40,411.7 738.52,420.2 738.64,415.1 738.76,416.6 738.88,416.6 739.00,410.0 739.12,417.9 739.24,416.0 739.36,411.9 739.48,419.4 739.60,414.8 739.72,419.8 739.84,418.8 739.96,420.7 740.08,417.8 740.20,413.6 740.32,417.6 740.44,420.1 740.56,418.5 740.68,421.6 740.80,425.3 740.92,418.5 741.04,420.7 741.16,413.4 741.28,415.0 741.40,419.7 741.52,419.0 741.64,423.6 741.76,423.3 741.88,414.8 742.00,418.4 742.12,420.1 742.24,419.0 742.36,417.5 742.48,419.4 742.60,425.3 742.72,422.4 742.84,421.5 742.96,418.4 743.08,424.5 743.20,422.1 743.32,412.2 743.44,427.4 743.56,418.7 743.68,417.2 743.80,420.4 743.92,418.6 744.04,424.4 744.16,416.9 744.28,429.6 744.40,416.8 744.52,430.1 744.64,423.7 744.76,420.6 744.88,416.3 745.00,418.6 745.12,424.6 745.24,429.2 745.36,422.0 745.48,424.2 745.60,423.5 745.72,423.4 745.84,425.3 745.96,423.4 746.08,421.7 746.20,421.8 746.32,423.6 746.44,424.4 746.56,424.3 746.68,428.0 746.80,424.1 746.92,423.0 747.04,423.8 747.16,430.6 747.28,424.5 747.40,430.8 747.52,427.4 747.64,424.9 747.76,419.6 747.88,423.4 748.00,424.9 748.12,428.7 748.24,424.1 748.36,426.3 748.48,428.6 748.60,428.5 748.72,428.5 748.84,429.4 748.96,424.4 749.08,428.0 749.20,426.4 749.32,429.0 749.44,420.3 749.56,428.9 749.68,426.0 749.80,429.8 749.92,428.9 750.04,431.9 750.16,431.8 750.28,428.3 750.40,430.0 750.52,430.5 750.64,425.1 750.76,424.0 750.88,429.1 751.00,428.2 751.12,433.1 751.24,425.6 751.36,432.0 751.48,433.6 751.60,431.2 751.72,427.7 751.84,425.2 751.96,433.3 752.08,427.5 752.20,428.6 752.32,431.5 752.44,422.3 752.56,425.4 752.68,432.7 752.80,423.9 752.92,433.0 753.04,431.3 753.16,429.5 753.28,431.0 753.40,431.7 753.52,430.4 753.64,429.8 753.76,430.7 753.88,431.4 754.00,428.2 754.12,435.2 754.24,430.0 754.36,432.9 754.48,436.0 754.60,431.6 754.72,434.6 754.84,430.5 754.96,428.3 755.08,431.0 755.20,434.2 755.32,426.2 755.44,425.7 755.56,433.4 755.68,425.4 755.80,431.3 755.92,436.0 756.04,438.5 756.16,432.4 756.28,435.3 756.40,432.9 756.52,439.1 756.64,429.2 756.76,437.7 756.88,435.9 757.00,432.8 757.12,432.9 757.24,434.8 757.36,431.9 757.48,431.4 757.60,434.0 757.72,429.8 757.84,429.4 757.96,431.7 758.08,428.2 758.20,436.2 758.32,436.3 758.44,429.4 758.56,435.4 758.68,432.0 758.80,432.2 758.92,428.7 759.04,429.7 759.16,439.9 759.28,437.5 759.40,437.1 759.52,433.8 759.64,435.2 759.76,434.9 759.88,430.3 760.00,434.9 760.12,432.2 760.24,431.9 760.36,434.0 760.48,430.9 760.60,433.6 760.72,437.7 760.84,442.7 760.96,434.7 761.08,429.6 761.20,431.9 761.32,434.8 761.44,442.8 761.56,436.1 761.68,434.6 761.80,434.6 761.92,436.3 762.04,437.2 762.16,438.1 762.28,439.0 762.40,432.7 762.52,437.0 762.64,426.3 762.76,434.5 762.88,431.6 763.00,435.5 763.12,438.7 763.24,442.1 763.36,434.0 763.48,438.5 763.60,437.0 763.72,434.1 763.84,436.4 763.96,441.7 764.08,437.6 764.20,434.4 764.32,439.3 764.44,441.4 764.56,438.4 764.68,435.9 764.80,437.7 764.92,440.8 765.04,437.0 765.16,436.8 765.28,436.0 765.40,442.9 765.52,442.4 765.64,436.5 765.76,440.5 765.88,443.8 766.00,440.5 766.12,436.8 766.24,442.3 766.36,438.2 766.48,435.3 766.60,440.3 766.72,445.2 766.84,436.8 766.96,436.6 767.08,442.6 767.20,440.6 767.32,438.3 767.44,434.7 767.56,441.8 767.68,439.2 767.80,437.4 767.92,438.9 768.04,438.3 768.16,438.8 768.28,438.3 768.40,441.4 768.52,443.8 768.64,442.3 768.76,439.0 768.88,436.0 769.00,437.7 769.12,441.1 769.24,436.6 769.36,444.7 769.48,445.8 769.60,440.8 769.72,439.6 769.84,440.8 769.96,433.5 770.08,446.2 770.20,436.6 770.32,439.5 770.44,441.5 770.56,442.1 770.68,440.5 770.80,437.5 770.92,446.7 771.04,443.8 771.16,438.5 771.28,443.1 771.40,442.7 771.52,438.3 771.64,439.5 771.76,439.9 771.88,442.7 772.00,441.6 772.12,445.9 772.24,449.6 772.36,441.7 772.48,438.5 772.60,440.5 772.72,445.9 772.84,440.5 772.96,442.4 773.08,445.5 773.20,438.7 773.32,440.0 773.44,436.9 773.56,445.8 773.68,448.4 773.80,443.5 773.92,442.2 774.04,446.6 774.16,438.2 774.28,441.9 774.40,433.5 774.52,437.0 774.64,446.7 774.76,434.3 774.88,446.5 775.00,440.1 775.12,441.5 775.24,448.2 775.36,441.8 775.48,444.3 775.60,455.6 775.72,440.8 775.84,439.9 775.96,441.4 776.08,441.5 776.20,443.1 776.32,449.0 776.44,441.7 776.56,445.2 776.68,446.9 776.80,443.0 776.92,442.8 777.04,441.6 777.16,443.5 777.28,444.3 777.40,451.7 777.52,446.8 777.64,444.1 777.76,440.3 777.88,442.9 778.00,449.7 778.12,445.0 778.24,445.2 778.36,443.3 778.48,441.1 778.60,447.0 778.72,450.7 778.84,447.6 778.96,441.2 779.08,445.4 779.20,441.0 779.32,446.6 779.44,440.2 779.56,442.9 779.68,447.9 779.80,444.2 779.92,446.7 780.04,443.0 780.16,443.9 780.28,445.5 780.40,447.3 780.52,449.2 780.64,446.6 780.76,444.5 780.88,447.5 781.00,444.3 781.12,443.6 781.24,441.5 781.36,442.1 781.48,443.5 781.60,445.2 781.72,445.2 781.84,445.1 781.96,443.9 782.08,445.8 782.20,447.3 782.32,444.8 782.44,446.4 782.56,445.7 782.68,446.9 782.80,444.6 782.92,446.0 783.04,450.2 783.16,446.8 783.28,445.2 783.40,446.6 783.52,447.4 783.64,450.8 783.76,444.4 783.88,450.1 784.00,443.6 784.12,451.5 784.24,447.5 784.36,444.5 784.48,451.0 784.60,447.3 784.72,446.8 784.84,445.1 784.96,444.1 785.08,443.3 785.20,447.5 785.32,446.2 785.44,448.4 785.56,444.4 785.68,442.3 785.80,448.2 785.92,444.0 786.04,449.7 786.16,452.9 786.28,448.2 786.40,442.9 786.52,447.2 786.64,449.6 786.76,442.6 786.88,446.3 787.00,446.6 787.12,444.2 787.24,445.9 787.36,448.1 787.48,444.4 787.60,440.8 787.72,445.3 787.84,450.6 787.96,453.5 788.08,447.5 788.20,453.0 788.32,443.2 788.44,447.9 788.56,447.8 788.68,442.9 788.80,449.4 788.92,447.9 789.04,448.1 789.16,449.3 789.28,452.4 789.40,442.2 789.52,450.5 789.64,446.9 789.76,448.0 789.88,446.4 790.00,447.1 790.12,443.6 790.24,453.4 790.36,447.0 790.48,450.8 790.60,447.6 790.72,449.4 790.84,448.8 790.96,448.9 791.08,450.4 791.20,449.1 791.32,446.7 791.44,452.0 791.56,442.8 791.68,450.9 791.80,446.1 791.92,445.9 792.04,452.1 792.16,452.1 792.28,453.3 792.40,454.8 792.52,448.8 792.64,449.5 792.76,448.0 792.88,448.8 793.00,449.1 793.12,451.4 793.24,454.0 793.36,453.4 793.48,447.7 793.60,451.0 793.72,448.2 793.84,447.0 793.96,447.5 794.08,451.1 794.20,451.6 794.32,451.3 794.44,451.0 794.56,452.4 794.68,449.3 794.80,449.3 794.92,453.6 795.04,452.9 795.16,451.6 795.28,449.7 795.40,448.5 795.52,457.1 795.64,449.8 795.76,450.4 795.88,450.0 796.00,450.9 796.12,451.3 796.24,449.5 796.36,451.6 796.48,449.5 796.60,450.9 796.72,448.8 796.84,448.8 796.96,449.6 797.08,455.1 797.20,451.6 797.32,448.5 797.44,449.8 797.56,451.0 797.68,459.0 797.80,450.3 797.92,456.9 798.04,454.4 798.16,452.7 798.28,455.6 798.40,456.1 798.52,450.0 798.64,450.1 798.76,455.6 798.88,451.2 799.00,456.5 799.12,449.2 799.24,457.1 799.36,454.2 799.48,450.8 799.60,456.0 799.72,451.5 799.84,454.6 799.96,452.5 800.08,451.9 800.20,452.1 800.32,451.3 800.44,452.5 800.56,452.0 800.68,453.5 800.80,454.6 800.92,455.7 801.04,452.8 801.16,454.8 801.28,450.7 801.40,452.2 801.52,451.1 801.64,452.8 801.76,450.3 801.88,452.1 802.00,459.6 802.12,456.6 802.24,455.7 802.36,457.5 802.48,450.9 802.60,459.9 802.72,454.5 802.84,454.5 802.96,458.2 803.08,460.5 803.20,453.6 803.32,457.1 803.44,455.3 803.56,449.1 803.68,455.2 803.80,455.4 803.92,450.5 804.04,451.2 804.16,455.5 804.28,453.5 804.40,451.5 804.52,451.9 804.64,453.4 804.76,453.0 804.88,449.2 805.00,456.4 805.12,454.4 805.24,455.3 805.36,449.1 805.48,457.2 805.60,455.2 805.72,452.9 805.84,453.0 805.96,455.1 806.08,450.1 806.20,457.2 806.32,450.3 806.44,451.8 806.56,456.2 806.68,462.5 806.80,449.0 806.92,453.7 807.04,454.7 807.16,451.7 807.28,452.9 807.40,453.4 807.52,457.4 807.64,455.4 807.76,456.5 807.88,452.9 808.00,447.8 808.12,457.5 808.24,454.4 808.36,457.2 808.48,455.8 808.60,453.9 808.72,451.5 808.84,449.1 808.96,455.3 809.08,450.7 809.20,457.2 809.32,454.0 809.44,459.7 809.56,456.8 809.68,456.4 809.80,456.6 809.92,455.5 810.04,455.4 810.16,458.7 810.28,450.4 810.40,453.0 810.52,455.3 810.64,456.4 810.76,455.8 810.88,451.8 811.00,453.5 811.12,450.5 811.24,457.6 811.36,454.1 811.48,456.2 811.60,452.3 811.72,455.2 811.84,453.6 811.96,457.9 812.08,450.4 812.20,449.6 812.32,453.8 812.44,455.8 812.56,453.0 812.68,456.1 812.80,457.6 812.92,453.2 813.04,456.8 813.16,453.6 813.28,455.2 813.40,450.2 813.52,453.2 813.64,455.2 813.76,454.0 813.88,455.9 814.00,453.7 814.12,453.8 814.24,452.1 814.36,453.4 814.48,455.4 814.60,455.3 814.72,458.9 814.84,456.3 814.96,455.4 815.08,456.4 815.20,457.0 815.32,455.9 815.44,452.6 815.56,458.2 815.68,454.0 815.80,450.9 815.92,452.4 816.04,450.7 816.16,454.0 816.28,455.2 816.40,453.5 816.52,459.0 816.64,457.4 816.76,451.5 816.88,454.5 817.00,451.0 817.12,449.1 817.24,454.7 817.36,454.9 817.48,453.8 817.60,454.2 817.72,451.7 817.84,453.1 817.96,456.5 818.08,455.6 818.20,456.0 818.32,451.6 818.44,454.9 818.56,453.8 818.68,457.8 818.80,453.8 818.92,457.3 819.04,451.3 819.16,455.7 819.28,453.9 819.40,456.4 819.52,458.5 819.64,452.9 819.76,453.7 819.88,453.8 820.00,452.9 820.12,454.1 820.24,457.0 820.36,452.5 820.48,451.5 820.60,454.6 820.72,456.2 820.84,454.9 820.96,451.1 821.08,452.7 821.20,456.0 821.32,454.1 821.44,449.6 821.56,456.0 821.68,452.0 821.80,455.6 821.92,450.3 822.04,455.2 822.16,457.0 822.28,449.2 822.40,456.7 822.52,453.8 822.64,453.1 822.76,450.5 822.88,458.3 823.00,455.6 823.12,454.9 823.24,452.2 823.36,453.3 823.48,451.2 823.60,455.5 823.72,450.4 823.84,455.0 823.96,463.3 824.08,452.3 824.20,451.1 824.32,453.8 824.44,455.9 824.56,456.5 824.68,454.7 824.80,453.5 824.92,454.3 825.04,457.4 825.16,457.3 825.28,454.2 825.40,454.0 825.52,455.2 825.64,457.2 825.76,450.9 825.88,457.5 826.00,451.2 826.12,451.4 826.24,456.1 826.36,452.8 826.48,455.9 826.60,452.7 826.72,455.5 826.84,455.5 826.96,450.5 827.08,449.6 827.20,454.4 827.32,453.5 827.44,457.9 827.56,452.2 827.68,453.8 827.80,453.8 827.92,458.7 828.04,455.5 828.16,455.2 828.28,455.6 828.40,456.1 828.52,454.5 828.64,453.5 828.76,456.1 828.88,457.8 829.00,458.5 829.12,453.5 829.24,451.6 829.36,454.9 829.48,449.9 829.60,458.1 829.72,455.9 829.84,450.0 829.96,453.6 830.08,457.1 830.20,449.4 830.32,456.6 830.44,450.8 830.56,458.2 830.68,454.2 830.80,457.3 830.92,454.9 831.04,455.5 831.16,459.8 831.28,459.4 831.40,458.4 831.52,453.1 831.64,451.1 831.76,457.0 831.88,454.7 832.00,454.2 832.12,451.9 832.24,452.2 832.36,451.7 832.48,453.7 832.60,455.0 832.72,457.0 832.84,455.2 832.96,453.1 833.08,453.5 833.20,457.8 833.32,452.9 833.44,454.3 833.56,458.7 833.68,453.7 833.80,460.1 833.92,459.1 834.04,455.7 834.16,454.5 834.28,453.5 834.40,456.7 834.52,457.8 834.64,456.6 834.76,454.0 834.88,455.6 835.00,452.6 835.12,452.6 835.24,453.0 835.36,455.8 835.48,458.1 835.60,456.2 835.72,451.0 835.84,454.8 835.96,455.8 836.08,453.4 836.20,454.6 836.32,457.6 836.44,454.5 836.56,451.6 836.68,452.3 836.80,460.4 836.92,453.5 837.04,454.0 837.16,456.1 837.28,450.1 837.40,451.9 837.52,456.9 837.64,452.1 837.76,449.8 837.88,452.3 838.00,454.5 838.12,457.8 838.24,460.2 838.36,460.2 838.48,454.5 838.60,454.9 838.72,454.7 838.84,453.2 838.96,443.7 839.08,455.0 839.20,455.8 839.32,454.4 839.44,456.4 839.56,452.0 839.68,451.3 839.80,448.3 839.92,455.0 840.04,457.7 840.16,454.4 840.28,456.3 840.40,455.0 840.52,454.7 840.64,456.7 840.76,454.4 840.88,455.8 841.00,455.9 841.12,453.2 841.24,450.4 841.36,452.6 841.48,454.3 841.60,459.0 841.72,455.1 841.84,455.9 841.96,452.7 842.08,452.6 842.20,454.1 842.32,454.1 842.44,456.8 842.56,457.8 842.68,453.3 842.80,457.9 842.92,456.0 843.04,459.3 843.16,453.4 843.28,450.6 843.40,459.2 843.52,454.2 843.64,457.6 843.76,452.7 843.88,456.9 844.00,452.2 844.12,454.0 844.24,456.0 844.36,454.6 844.48,455.3 844.60,454.1 844.72,454.1 844.84,451.4 844.96,452.4 845.08,453.5 845.20,456.8 845.32,450.0 845.44,455.5 845.56,454.5 845.68,454.4 845.80,453.5 845.92,455.4 846.04,457.4 846.16,454.3 846.28,454.2 846.40,458.9 846.52,456.9 846.64,449.1 846.76,455.3 846.88,453.2 847.00,458.1 847.12,452.2 847.24,458.3 847.36,452.7 847.48,456.0 847.60,452.4 847.72,450.4 847.84,455.4 847.96,450.2 848.08,450.5 848.20,457.7 848.32,461.4 848.44,455.6 848.56,453.2 848.68,455.1 848.80,456.8 848.92,455.7 849.04,452.7 849.16,453.9 849.28,452.6 849.40,454.9 849.52,449.1 849.64,450.1 849.76,456.3 849.88,453.3 850.00,454.5 850.12,454.7 850.24,458.6 850.36,455.1 850.48,455.4 850.60,455.8 850.72,461.3 850.84,456.0 850.96,452.7 851.08,452.6 851.20,458.8 851.32,453.6 851.44,454.4 851.56,454.3 851.68,455.5 851.80,457.1 851.92,455.3 852.04,457.2 852.16,449.7 852.28,458.7 852.40,453.8 852.52,455.1 852.64,460.9 852.76,457.8 852.88,453.7 853.00,451.7 853.12,454.9 853.24,458.8 853.36,455.9 853.48,453.3 853.60,454.0 853.72,456.9 853.84,455.3 853.96,457.3 854.08,452.3 854.20,448.6 854.32,454.6 854.44,455.5 854.56,455.4 854.68,454.7 854.80,453.0 854.92,451.0 855.04,455.5 855.16,453.7 855.28,456.4 855.40,451.7 855.52,452.8 855.64,454.0 855.76,454.7 855.88,456.5 856.00,456.0 856.12,453.7 856.24,457.5 856.36,452.5 856.48,457.4 856.60,456.9 856.72,454.7 856.84,457.1 856.96,455.8 857.08,454.4 857.20,449.6 857.32,454.3 857.44,453.6 857.56,452.7 857.68,459.8 857.80,459.2 857.92,456.4 858.04,452.7 858.16,453.7 858.28,458.6 858.40,455.6 858.52,456.0 858.64,450.9 858.76,459.5 858.88,456.9 859.00,459.4 859.12,455.8 859.24,457.7 859.36,455.5 859.48,455.4 859.60,452.5 859.72,458.8 859.84,448.8 859.96,450.7 860.08,454.6 860.20,453.9 860.32,451.0 860.44,450.7 860.56,458.6 860.68,456.3 860.80,457.0 860.92,456.1 861.04,456.4 861.16,456.2 861.28,453.2 861.40,453.5 861.52,455.8 861.64,456.0 861.76,457.1 861.88,454.4 862.00,458.3 862.12,451.1 862.24,452.8 862.36,455.9 862.48,457.7 862.60,457.2 862.72,458.6 862.84,453.7 862.96,455.7 863.08,456.5 863.20,454.9 863.32,452.9 863.44,454.6 863.56,452.8 863.68,455.1 863.80,452.9 863.92,452.9 864.04,454.4 864.16,455.7 864.28,458.2 864.40,456.9 864.52,454.8 864.64,455.1 864.76,456.3 864.88,453.8 865.00,452.3 865.12,450.7 865.24,453.8 865.36,455.5 865.48,457.2 865.60,457.6 865.72,456.5 865.84,458.2 865.96,453.6 866.08,453.2 866.20,457.3 866.32,452.8 866.44,455.5 866.56,450.7 866.68,459.1 866.80,462.0 866.92,455.3 867.04,462.2 867.16,455.0 867.28,457.2 867.40,459.5 867.52,455.6 867.64,451.3 867.76,457.3 867.88,449.8 868.00,455.4 868.12,457.8 868.24,453.0 868.36,454.8 868.48,458.7 868.60,448.0 868.72,453.9 868.84,462.1 868.96,451.9 869.08,453.7 869.20,456.0 869.32,454.7 869.44,453.1 869.56,452.7 869.68,454.9 869.80,456.5 869.92,455.8 870.04,457.6 870.16,451.6 870.28,450.4 870.40,455.9 870.52,460.7 870.64,457.9 870.76,455.7 870.88,457.8 871.00,459.4 871.12,454.1 871.24,455.3 871.36,449.0 871.48,457.5 871.60,464.9 871.72,460.4 871.84,453.5 871.96,459.0 872.08,454.9 872.20,455.7 872.32,452.0 872.44,449.8 872.56,454.9 872.68,455.1 872.80,450.0 872.92,454.0 873.04,458.9 873.16,455.0 873.28,454.7 873.40,457.9 873.52,454.3 873.64,449.2 873.76,450.9 873.88,452.7 874.00,458.6 874.12,456.9 874.24,455.7 874.36,458.6 874.48,458.1 874.60,454.0 874.72,457.1 874.84,461.0 874.96,457.7 875.08,458.3 875.20,455.8 875.32,456.1 875.44,458.6 875.56,456.4 875.68,455.7 875.80,452.3 875.92,454.2 876.04,454.2 876.16,459.8 876.28,454.2 876.40,457.0 876.52,451.3 876.64,451.8 876.76,459.2 876.88,455.5 877.00,453.8 877.12,457.4 877.24,455.3 877.36,455.6 877.48,455.7 877.60,454.3 877.72,456.2 877.84,454.9 877.96,454.9 878.08,449.8 878.20,455.5 878.32,458.0 878.44,458.4 878.56,456.7 878.68,455.8 878.80,455.2 878.92,456.3 879.04,455.3 879.16,454.5 879.28,458.3 879.40,455.7 879.52,455.1 879.64,452.9 879.76,454.1 879.88,456.7 880.00,453.8 880.12,455.9 880.24,458.3 880.36,451.0 880.48,455.0 880.60,455.4 880.72,456.0 880.84,454.1 880.96,453.0 881.08,455.4 881.20,453.6 881.32,461.5 881.44,453.8 881.56,456.7 881.68,456.7 881.80,450.3 881.92,459.7 882.04,456.2 882.16,454.5 882.28,456.3 882.40,455.3 882.52,457.3 882.64,457.3 882.76,452.7 882.88,453.6 883.00,456.9 883.12,456.7 883.24,453.7 883.36,455.2 883.48,455.4 883.60,453.9 883.72,455.8 883.84,451.7 883.96,457.0 884.08,455.3 884.20,454.4 884.32,454.3 884.44,453.8 884.56,454.7 884.68,456.7 884.80,456.2 884.92,450.6 885.04,459.0 885.16,456.7 885.28,455.1 885.40,457.8 885.52,448.8 885.64,457.2 885.76,456.3 885.88,455.5 886.00,459.0 886.12,457.7 886.24,458.0 886.36,458.2 886.48,453.9 886.60,453.8 886.72,457.3 886.84,455.9 886.96,452.1 887.08,456.5 887.20,452.1 887.32,453.6 887.44,454.6 887.56,457.3 887.68,456.3 887.80,457.1 887.92,459.7 888.04,455.2 888.16,458.5 888.28,457.2 888.40,457.3 888.52,451.8 888.64,463.2 888.76,456.8 888.88,457.6 889.00,456.4 889.12,451.1 889.24,453.7 889.36,461.7 889.48,451.9 889.60,454.9 889.72,455.7 889.84,455.1 889.96,457.3 890.08,456.3 890.20,458.4 890.32,454.8 890.44,456.9 890.56,458.6 890.68,457.4 890.80,464.4 890.92,449.9 891.04,451.7 891.16,458.5 891.28,453.9 891.40,461.1 891.52,459.0 891.64,455.3 891.76,454.2 891.88,455.0 892.00,456.4 892.12,454.8 892.24,454.8 892.36,460.4 892.48,456.4 892.60,455.3 892.72,460.1 892.84,455.6 892.96,455.7 893.08,456.8 893.20,458.7 893.32,457.9 893.44,454.9 893.56,456.1 893.68,457.1 893.80,456.1 893.92,450.7 894.04,457.1 894.16,458.0 894.28,459.6 894.40,458.7 894.52,456.3 894.64,451.8 894.76,456.1 894.88,453.0 895.00,456.6 895.12,453.0 895.24,454.9 895.36,458.2 895.48,457.4 895.60,458.1 895.72,453.7 895.84,456.3 895.96,459.5 896.08,461.4 896.20,452.3 896.32,458.1 896.44,459.1 896.56,454.7 896.68,459.9 896.80,452.5 896.92,461.6 897.04,457.6 897.16,456.4 897.28,457.2 897.40,454.4 897.52,454.5 897.64,459.7 897.76,454.8 897.88,456.0 898.00,458.5 898.12,449.1 898.24,455.3 898.36,456.7 898.48,453.0 898.60,454.4 898.72,453.3 898.84,455.1 898.96,457.9 899.08,456.0 899.20,455.7 899.32,453.7 899.44,457.1 899.56,458.5 899.68,459.6 899.80,460.9 899.92,458.6 900.04,458.4 900.16,458.3 900.28,458.7 900.40,457.3 900.52,456.3 900.64,456.6 900.76,455.1 900.88,455.9 901.00,451.0 901.12,459.7 901.24,457.2 901.36,454.1 901.48,452.7 901.60,454.8 901.72,456.7 901.84,458.6 901.96,461.3 902.08,456.6 902.20,457.7 902.32,456.7 902.44,454.4 902.56,455.6 902.68,456.4 902.80,456.5 902.92,455.6 903.04,458.0 903.16,455.9 903.28,453.9 903.40,456.7 903.52,452.2 903.64,459.1 903.76,460.6 903.88,458.5 904.00,456.3 904.12,455.7 904.24,455.4 904.36,455.6 904.48,455.7 904.60,455.5 904.72,457.0 904.84,456.8 904.96,457.0 905.08,460.7 905.20,461.7 905.32,455.4 905.44,456.4 905.56,452.6 905.68,461.3 905.80,453.0 905.92,453.0 906.04,449.9 906.16,452.2 906.28,453.1 906.40,454.5 906.52,456.3 906.64,458.7 906.76,456.3 906.88,452.2 907.00,459.2 907.12,451.4 907.24,456.5 907.36,461.6 907.48,456.7 907.60,455.5 907.72,457.3 907.84,453.3 907.96,453.2 908.08,452.4 908.20,451.7 908.32,456.6 908.44,454.8 908.56,456.3 908.68,457.3 908.80,459.6 908.92,459.6 909.04,460.2 909.16,453.6 909.28,452.5 909.40,452.4 909.52,455.9 909.64,454.9 909.76,454.8 909.88,456.7 910.00,452.0 910.12,457.8 910.24,455.7 910.36,455.9 910.48,459.1 910.60,456.0 910.72,455.6 910.84,462.9 910.96,452.4 911.08,456.8 911.20,456.6 911.32,457.9 911.44,456.2 911.56,460.4 911.68,454.3 911.80,456.5 911.92,457.7 912.04,458.7 912.16,457.3 912.28,456.7 912.40,459.4 912.52,459.0 912.64,452.0 912.76,458.2 912.88,458.7 913.00,464.3 913.12,455.3 913.24,458.8 913.36,458.3 913.48,455.0 913.60,456.1 913.72,455.1 913.84,457.4 913.96,459.2 914.08,454.6 914.20,456.9 914.32,455.9 914.44,459.1 914.56,455.1 914.68,459.0 914.80,458.8 914.92,454.9 915.04,460.5 915.16,453.9 915.28,455.4 915.40,459.9 915.52,455.7 915.64,455.0 915.76,457.1 915.88,456.9 916.00,456.1 916.12,459.0 916.24,457.8 916.36,454.7 916.48,457.9 916.60,458.2 916.72,456.7 916.84,465.3 916.96,450.4 917.08,461.4 917.20,456.9 917.32,459.6 917.44,451.4 917.56,459.8 917.68,455.8 917.80,456.8 917.92,456.7 918.04,458.4 918.16,461.5 918.28,457.6 918.40,458.9 918.52,456.9 918.64,459.6 918.76,460.3 918.88,458.8 919.00,453.6 919.12,451.9 919.24,461.5 919.36,454.2 919.48,458.3 919.60,457.9 919.72,460.6 919.84,462.3 919.96,456.6 920.08,457.6 920.20,459.2 920.32,457.8 920.44,461.6 920.56,456.5 920.68,455.6 920.80,453.1 920.92,458.7 921.04,456.1 921.16,457.0 921.28,459.6 921.40,453.9 921.52,456.0 921.64,456.9 921.76,458.9 921.88,458.2 922.00,456.8 922.12,456.4 922.24,457.2 922.36,458.1 922.48,454.7 922.60,457.4 922.72,457.6 922.84,457.2 922.96,456.9 923.08,459.1 923.20,456.0 923.32,456.1 923.44,459.9 923.56,453.7 923.68,462.0 923.80,458.8 923.92,456.4 924.04,457.9 924.16,454.7 924.28,457.7 924.40,456.0 924.52,459.3 924.64,456.9 924.76,456.4 924.88,459.1 925.00,456.0 925.12,456.0 925.24,461.7 925.36,456.5 925.48,460.0 925.60,451.0 925.72,453.8 925.84,455.4 925.96,457.7 926.08,453.8 926.20,457.7 926.32,460.5 926.44,456.1 926.56,460.3 926.68,461.0 926.80,459.6 926.92,457.9 927.04,455.3 927.16,460.0 927.28,457.3 927.40,457.8 927.52,458.4 927.64,457.5 927.76,461.9 927.88,458.6 928.00,455.6 928.12,455.3 928.24,456.9 928.36,454.2 928.48,461.8 928.60,459.1 928.72,456.7 928.84,454.7 928.96,455.6 929.08,458.1 929.20,460.6 929.32,456.0 929.44,455.9 929.56,456.4 929.68,456.0 929.80,454.5 929.92,459.2 930.04,459.5 930.16,455.5 930.28,460.9 930.40,455.7 930.52,456.0 930.64,455.0 930.76,459.0 930.88,457.7 931.00,456.1 931.12,455.0 931.24,460.0 931.36,462.7 931.48,459.9 931.60,456.0 931.72,454.8 931.84,459.3 931.96,455.4 932.08,456.2 932.20,460.8 932.32,461.2 932.44,458.4 932.56,459.7 932.68,454.1 932.80,451.8 932.92,462.0 933.04,454.4 933.16,457.7 933.28,457.9 933.40,453.9 933.52,455.4 933.64,454.7 933.76,459.4 933.88,456.0 934.00,459.3 934.12,458.6 934.24,458.7 934.36,458.9 934.48,451.6 934.60,456.9 934.72,453.9 934.84,456.2 934.96,462.3 935.08,457.1 935.20,454.6 935.32,460.3 935.44,456.1 935.56,454.9 935.68,454.3 935.80,457.8 935.92,453.7 936.04,454.3 936.16,459.5 936.28,453.8 936.40,459.6 936.52,456.0 936.64,458.7 936.76,460.2 936.88,458.0 937.00,453.4 937.12,457.9 937.24,459.8 937.36,462.2 937.48,453.0 937.60,455.6 937.72,460.7 937.84,453.2 937.96,455.6 938.08,453.2 938.20,457.3 938.32,458.3 938.44,456.8 938.56,460.1 938.68,454.6 938.80,456.7 938.92,455.6 939.04,455.0 939.16,459.0 939.28,457.8 939.40,456.8 939.52,453.8 939.64,457.3 939.76,456.1 939.88,457.3 940.00,460.6 940.12,459.4 940.24,463.3 940.36,455.7 940.48,455.3 940.60,457.6 940.72,454.7 940.84,457.3 940.96,457.5 941.08,457.5 941.20,453.9 941.32,459.4 941.44,457.4 941.56,457.4 941.68,454.6 941.80,462.4 941.92,457.3 942.04,458.8 942.16,459.3 942.28,456.9 942.40,453.3 942.52,458.6 942.64,454.3 942.76,455.6 942.88,453.2 943.00,454.1 943.12,455.7 943.24,455.9 943.36,455.5 943.48,456.0 943.60,458.2 943.72,456.4 943.84,453.9 943.96,458.8 944.08,459.0 944.20,452.5 944.32,456.4 944.44,457.0 944.56,456.6 944.68,456.5 944.80,459.1 944.92,457.9 945.04,456.1 945.16,459.6 945.28,462.0 945.40,460.8 945.52,456.6 945.64,456.4 945.76,457.2 945.88,456.1 946.00,463.5 946.12,456.2 946.24,458.4 946.36,458.2 946.48,456.1 946.60,458.7 946.72,456.4 946.84,457.9 946.96,460.1 947.08,457.4 947.20,457.3 947.32,459.9 947.44,459.0 947.56,460.9 947.68,458.3 947.80,459.3 947.92,457.7 948.04,459.7 948.16,458.0 948.28,456.5 948.40,455.9 948.52,457.0 948.64,454.5 948.76,457.5 948.88,460.2 949.00,456.3 949.12,453.9 949.24,456.3 949.36,457.3 949.48,455.0 949.60,458.5 949.72,460.8 949.84,456.1 949.96,456.5 950.08,455.4 950.20,455.9 950.32,451.2 950.44,453.4 950.56,457.0 950.68,453.0 950.80,458.1 950.92,456.1 951.04,456.3 951.16,454.7 951.28,457.8 951.40,453.2 951.52,461.4 951.64,458.1 951.76,452.0 951.88,461.9 952.00,461.0 952.12,458.7 952.24,459.3 952.36,452.4 952.48,456.1 952.60,456.6 952.72,457.5 952.84,456.1 952.96,455.0 953.08,456.6 953.20,460.1 953.32,459.5 953.44,453.0 953.56,455.3 953.68,459.0 953.80,455.7 953.92,459.4 954.04,453.3 954.16,459.6 954.28,459.3 954.40,458.7 954.52,459.1 954.64,455.8 954.76,460.0 954.88,456.3 955.00,457.2 955.12,460.6 955.24,457.7 955.36,459.7 955.48,456.4 955.60,454.2 955.72,452.0 955.84,459.0 955.96,456.1 956.08,456.0 956.20,461.9 956.32,455.1 956.44,460.6 956.56,456.6 956.68,452.1 956.80,459.8 956.92,455.0 957.04,457.1 957.16,461.8 957.28,456.6 957.40,457.5 957.52,458.0 957.64,456.0 957.76,454.2 957.88,455.7 958.00,452.3 958.12,459.6 958.24,454.9 958.36,456.2 958.48,456.7 958.60,456.5 958.72,455.8 958.84,463.4 958.96,458.6 959.08,461.3 959.20,455.4 959.32,457.5 959.44,455.6 959.56,458.0 959.68,453.2 959.80,454.6 959.92,459.7 960.04,459.2 960.16,461.3 960.28,458.8 960.40,459.3 960.52,456.6 960.64,460.0 960.76,456.9 960.88,456.5 961.00,458.0 961.12,457.4 961.24,457.1 961.36,456.6 961.48,455.6 961.60,455.8 961.72,457.4 961.84,459.2 961.96,459.3 962.08,454.0 962.20,454.5 962.32,454.0 962.44,458.9 962.56,460.3 962.68,459.4 962.80,457.9 962.92,455.9 963.04,457.5 963.16,453.6 963.28,457.7 963.40,453.0 963.52,460.7 963.64,455.8 963.76,454.6 963.88,457.0 964.00,456.4 964.12,456.2 964.24,458.9 964.36,456.7 964.48,459.1 964.60,457.3 964.72,462.7 964.84,458.4 964.96,453.1 965.08,458.1 965.20,457.2 965.32,459.9 965.44,456.5 965.56,457.3 965.68,458.5 965.80,458.0 965.92,456.1 966.04,459.3 966.16,456.5 966.28,455.8 966.40,455.4 966.52,457.3 966.64,461.4 966.76,456.3 966.88,461.5 967.00,455.2 967.12,459.1 967.24,459.1 967.36,453.8 967.48,455.3 967.60,451.8 967.72,457.8 967.84,460.4 967.96,456.4 968.08,455.3 968.20,457.7 968.32,454.8 968.44,458.1 968.56,456.6 968.68,453.5 968.80,457.8 968.92,455.3 969.04,456.1 969.16,456.4 969.28,454.8 969.40,458.3 969.52,454.0 969.64,456.6 969.76,462.0 969.88,457.4 970.00,457.8 970.12,454.0 970.24,456.5 970.36,455.5 970.48,460.6 970.60,454.9 970.72,451.1 970.84,455.8 970.96,458.1 971.08,458.5 971.20,458.6 971.32,458.2 971.44,460.2 971.56,454.1 971.68,456.5 971.80,456.2 971.92,457.4 972.04,459.1 972.16,455.3 972.28,459.4 972.40,459.0 972.52,455.1 972.64,457.7 972.76,456.0 972.88,458.2 973.00,456.0 973.12,455.6 973.24,458.4 973.36,458.1 973.48,458.5 973.60,454.0 973.72,454.5 973.84,454.3 973.96,454.6 974.08,455.8 974.20,459.1 974.32,457.7 974.44,459.2 974.56,457.7 974.68,460.6 974.80,450.9 974.92,453.5 975.04,456.2 975.16,458.0 975.28,458.6 975.40,457.5 975.52,457.5 975.64,455.6 975.76,453.6 975.88,456.0 976.00,460.0 976.12,456.4 976.24,453.9 976.36,455.3 976.48,453.7 976.60,457.3 976.72,458.4 976.84,463.0 976.96,455.9 977.08,457.5 977.20,458.6 977.32,456.8 977.44,457.7 977.56,461.4 977.68,454.5 977.80,458.7 977.92,457.0 978.04,451.7 978.16,458.6 978.28,459.2 978.40,457.1 978.52,457.0 978.64,454.5 978.76,456.1 978.88,458.1 979.00,455.6 979.12,460.7 979.24,456.9 979.36,452.1 979.48,456.4 979.60,459.3 979.72,456.3 979.84,454.4 979.96,455.9 980.08,453.4 980.20,449.8 980.32,452.7 980.44,453.3 980.56,458.0 980.68,454.2 980.80,454.4 980.92,452.8 981.04,460.0 981.16,457.9 981.28,458.0 981.40,455.2 981.52,453.8 981.64,456.2 981.76,459.1 981.88,459.0 982.00,457.3 982.12,454.6 982.24,455.3 982.36,453.2 982.48,461.7 982.60,456.6 982.72,455.5 982.84,455.1 982.96,457.0 983.08,459.4 983.20,455.5 983.32,455.9 983.44,459.1 983.56,456.3 983.68,460.3 983.80,453.2 983.92,458.1 984.04,458.7 984.16,454.2 984.28,458.9 984.40,454.8 984.52,462.9 984.64,453.7 984.76,454.7 984.88,454.4 985.00,455.0 985.12,458.3 985.24,454.3 985.36,456.2 985.48,459.2 985.60,455.2 985.72,455.5 985.84,458.5 985.96,456.9 986.08,457.7 986.20,452.9 986.32,453.9 986.44,460.4 986.56,451.6 986.68,461.2 986.80,456.0 986.92,460.8 987.04,459.6 987.16,456.7 987.28,455.6 987.40,459.9 987.52,453.8 987.64,458.4 987.76,456.5 987.88,460.1 988.00,458.1 988.12,454.0 988.24,455.8 988.36,459.1 988.48,452.0 988.60,456.4 988.72,457.8 988.84,455.5 988.96,457.2 989.08,455.3 989.20,456.0 989.32,457.3 989.44,459.3 989.56,454.2 989.68,458.1 989.80,458.7 989.92,463.9 990.04,457.8 990.16,457.8 990.28,456.4 990.40,461.3 990.52,458.4 990.64,457.6 990.76,454.2 990.88,459.7 991.00,458.7 991.12,455.1 991.24,457.2 991.36,456.4 991.48,459.2 991.60,459.1 991.72,449.6 991.84,454.7 991.96,459.5 992.08,451.7 992.20,458.6 992.32,458.2 992.44,456.8 992.56,454.9 992.68,456.8 992.80,455.2 992.92,454.4 993.04,456.0 993.16,457.3 993.28,455.6 993.40,451.7 993.52,458.6 993.64,457.5 993.76,456.6 993.88,456.4 994.00,457.3 994.12,452.0 994.24,458.7 994.36,453.2 994.48,456.5 994.60,456.5 994.72,455.6 994.84,455.4 994.96,458.4 995.08,458.4 995.20,454.4 995.32,453.0 995.44,453.5 995.56,456.2 995.68,459.5 995.80,462.0 995.92,453.8 996.04,457.7 996.16,459.6 996.28,458.4 996.40,461.3 996.52,459.5 996.64,456.7 996.76,459.1 996.88,456.6 997.00,455.3 997.12,457.2 997.24,456.2 997.36,459.3 997.48,455.1 997.60,456.9 997.72,456.5 997.84,454.5 997.96,458.7 998.08,454.1 998.20,457.5 998.32,459.7 998.44,455.6 998.56,457.9 998.68,458.5 998.80,459.4 998.92,458.9 999.04,460.0 999.16,453.6 999.28,462.8 999.40,462.0 999.52,459.8 999.64,454.1 999.76,460.0 999.88,458.4 1000.00,456.4 1000.12,454.9 1000.24,457.7 1000.36,457.0 1000.48,454.9 1000.60,460.4 1000.72,459.5 1000.84,457.1 1000.96,458.5 1001.08,459.7 1001.20,455.9 1001.32,453.5 1001.44,454.7 1001.56,456.6 1001.68,461.1 1001.80,457.4 1001.92,456.6 1002.04,453.2 1002.16,457.7 1002.28,457.5 1002.40,456.8 1002.52,454.7 1002.64,458.4 1002.76,457.7 1002.88,459.6 1003.00,457.3 1003.12,457.4 1003.24,456.6 1003.36,457.6 1003.48,457.4 1003.60,458.2 1003.72,458.1 1003.84,456.0 1003.96,456.9 1004.08,454.7 1004.20,456.9 1004.32,456.6 1004.44,453.6 1004.56,458.1 1004.68,462.4 1004.80,456.8 1004.92,453.3 1005.04,456.5 1005.16,460.0 1005.28,457.2 1005.40,455.9 1005.52,460.7 1005.64,460.0 1005.76,456.5 1005.88,460.0 1006.00,454.3 1006.12,459.0 1006.24,460.5 1006.36,459.0 1006.48,462.4 1006.60,457.0 1006.72,459.2 1006.84,456.2 1006.96,456.9 1007.08,460.4 1007.20,460.8 1007.32,454.4 1007.44,455.8 1007.56,459.3 1007.68,459.9 1007.80,461.1 1007.92,458.4 1008.04,460.8 1008.16,454.3 1008.28,455.9" fill="none" stroke="#ff0000" stroke-width="0.85" stroke-linejoin="bevel"/>
<path d="M693.3,25.8 H1007.8 V476.3 H693.3 Z M693.3,138.5 H1007.8 M693.3,251.1 H1007.8 M693.3,363.8 H1007.8" fill="none" stroke="#1a1a1a" stroke-width="1.8"/>
<path d="M709.02,25.8 V29.3 M709.02,138.5 V135.0 M709.02,251.1 V247.6 M709.02,363.8 V360.3 M709.02,476.3 V472.8 M724.75,25.8 V32.3 M724.75,138.5 V132.0 M724.75,251.1 V244.6 M724.75,363.8 V357.3 M724.75,476.3 V469.8 M740.47,25.8 V29.3 M740.47,138.5 V135.0 M740.47,251.1 V247.6 M740.47,363.8 V360.3 M740.47,476.3 V472.8 M756.20,25.8 V32.3 M756.20,138.5 V132.0 M756.20,251.1 V244.6 M756.20,363.8 V357.3 M756.20,476.3 V469.8 M771.92,25.8 V29.3 M771.92,138.5 V135.0 M771.92,251.1 V247.6 M771.92,363.8 V360.3 M771.92,476.3 V472.8 M787.65,25.8 V32.3 M787.65,138.5 V132.0 M787.65,251.1 V244.6 M787.65,363.8 V357.3 M787.65,476.3 V469.8 M803.38,25.8 V29.3 M803.38,138.5 V135.0 M803.38,251.1 V247.6 M803.38,363.8 V360.3 M803.38,476.3 V472.8 M819.10,25.8 V32.3 M819.10,138.5 V132.0 M819.10,251.1 V244.6 M819.10,363.8 V357.3 M819.10,476.3 V469.8 M834.82,25.8 V29.3 M834.82,138.5 V135.0 M834.82,251.1 V247.6 M834.82,363.8 V360.3 M834.82,476.3 V472.8 M850.55,25.8 V32.3 M850.55,138.5 V132.0 M850.55,251.1 V244.6 M850.55,363.8 V357.3 M850.55,476.3 V469.8 M866.27,25.8 V29.3 M866.27,138.5 V135.0 M866.27,251.1 V247.6 M866.27,363.8 V360.3 M866.27,476.3 V472.8 M882.00,25.8 V32.3 M882.00,138.5 V132.0 M882.00,251.1 V244.6 M882.00,363.8 V357.3 M882.00,476.3 V469.8 M897.72,25.8 V29.3 M897.72,138.5 V135.0 M897.72,251.1 V247.6 M897.72,363.8 V360.3 M897.72,476.3 V472.8 M913.45,25.8 V32.3 M913.45,138.5 V132.0 M913.45,251.1 V244.6 M913.45,363.8 V357.3 M913.45,476.3 V469.8 M929.17,25.8 V29.3 M929.17,138.5 V135.0 M929.17,251.1 V247.6 M929.17,363.8 V360.3 M929.17,476.3 V472.8 M944.90,25.8 V32.3 M944.90,138.5 V132.0 M944.90,251.1 V244.6 M944.90,363.8 V357.3 M944.90,476.3 V469.8 M960.62,25.8 V29.3 M960.62,138.5 V135.0 M960.62,251.1 V247.6 M960.62,363.8 V360.3 M960.62,476.3 V472.8 M976.35,25.8 V32.3 M976.35,138.5 V132.0 M976.35,251.1 V244.6 M976.35,363.8 V357.3 M976.35,476.3 V469.8 M992.07,25.8 V29.3 M992.07,138.5 V135.0 M992.07,251.1 V247.6 M992.07,363.8 V360.3 M992.07,476.3 V472.8 M693.3,27.40 H699.8 M1007.8,27.40 H1001.3 M693.3,41.84 H696.8 M1007.8,41.84 H1004.3 M693.3,56.28 H699.8 M1007.8,56.28 H1001.3 M693.3,70.72 H696.8 M1007.8,70.72 H1004.3 M693.3,85.16 H699.8 M1007.8,85.16 H1001.3 M693.3,99.60 H696.8 M1007.8,99.60 H1004.3 M693.3,114.04 H699.8 M1007.8,114.04 H1001.3 M693.3,128.48 H696.8 M1007.8,128.48 H1004.3 M693.3,138.90 H699.8 M1007.8,138.90 H1001.3 M693.3,152.87 H696.8 M1007.8,152.87 H1004.3 M693.3,166.84 H699.8 M1007.8,166.84 H1001.3 M693.3,180.81 H696.8 M1007.8,180.81 H1004.3 M693.3,194.78 H699.8 M1007.8,194.78 H1001.3 M693.3,208.75 H696.8 M1007.8,208.75 H1004.3 M693.3,222.72 H699.8 M1007.8,222.72 H1001.3 M693.3,236.69 H696.8 M1007.8,236.69 H1004.3 M693.3,253.90 H699.8 M1007.8,253.90 H1001.3 M693.3,267.63 H696.8 M1007.8,267.63 H1004.3 M693.3,281.36 H699.8 M1007.8,281.36 H1001.3 M693.3,295.09 H696.8 M1007.8,295.09 H1004.3 M693.3,308.82 H699.8 M1007.8,308.82 H1001.3 M693.3,322.55 H696.8 M1007.8,322.55 H1004.3 M693.3,336.28 H699.8 M1007.8,336.28 H1001.3 M693.3,350.01 H696.8 M1007.8,350.01 H1004.3 M693.3,364.80 H699.8 M1007.8,364.80 H1001.3 M693.3,378.76 H696.8 M1007.8,378.76 H1004.3 M693.3,392.72 H699.8 M1007.8,392.72 H1001.3 M693.3,406.68 H696.8 M1007.8,406.68 H1004.3 M693.3,420.64 H699.8 M1007.8,420.64 H1001.3 M693.3,434.60 H696.8 M1007.8,434.60 H1004.3 M693.3,448.56 H699.8 M1007.8,448.56 H1001.3 M693.3,462.52 H696.8 M1007.8,462.52 H1004.3" fill="none" stroke="#1a1a1a" stroke-width="1.6"/>
<text x="693.30" y="493.3" text-anchor="middle" font-family="Liberation Sans" font-size="13" fill="#111">20</text>
<text x="724.75" y="493.3" text-anchor="middle" font-family="Liberation Sans" font-size="13" fill="#111">25</text>
<text x="756.20" y="493.3" text-anchor="middle" font-family="Liberation Sans" font-size="13" fill="#111">30</text>
<text x="787.65" y="493.3" text-anchor="middle" font-family="Liberation Sans" font-size="13" fill="#111">35</text>
<text x="819.10" y="493.3" text-anchor="middle" font-family="Liberation Sans" font-size="13" fill="#111">40</text>
<text x="850.55" y="493.3" text-anchor="middle" font-family="Liberation Sans" font-size="13" fill="#111">45</text>
<text x="882.00" y="493.3" text-anchor="middle" font-family="Liberation Sans" font-size="13" fill="#111">50</text>
<text x="913.45" y="493.3" text-anchor="middle" font-family="Liberation Sans" font-size="13" fill="#111">55</text>
<text x="944.90" y="493.3" text-anchor="middle" font-family="Liberation Sans" font-size="13" fill="#111">60</text>
<text x="976.35" y="493.3" text-anchor="middle" font-family="Liberation Sans" font-size="13" fill="#111">65</text>
<text x="1007.80" y="493.3" text-anchor="middle" font-family="Liberation Sans" font-size="13" fill="#111">70</text>
<text x="836.5" y="514.8" text-anchor="middle" font-family="Liberation Serif" font-size="16.4" fill="#111">2θ (degree)</text>
<text transform="translate(676.0,240.3) rotate(-90)" text-anchor="middle" font-family="Liberation Sans" font-size="16.4" fill="#111">Intensity (arbitrary units)</text>
<text x="742.3" y="46.4" font-family="Liberation Sans" font-size="16.2" fill="#111">(B)</text>
<text x="857" y="48.2" font-family="Liberation Sans" font-size="16" fill="#111">TiO<tspan font-size="9.60" dy="5.92">2</tspan><tspan dy="-5.92">-MCM-48-D-200</tspan></text>
<text x="854.8" y="157.9" font-family="Liberation Sans" font-size="16" fill="#00ff00">TiO<tspan font-size="9.60" dy="5.92">2</tspan><tspan dy="-5.92">-MCM-48-C-200</tspan></text>
<text x="855.3" y="274.3" font-family="Liberation Sans" font-size="16" fill="#0000ff">TiO<tspan font-size="9.60" dy="5.92">2</tspan><tspan dy="-5.92">-MCM-48-B-200</tspan></text>
<text x="856" y="391.8" font-family="Liberation Sans" font-size="16" fill="#ff0000">TiO<tspan font-size="9.60" dy="5.92">2</tspan><tspan dy="-5.92">-MCM-48-A-200</tspan></text>
</svg></body></html>
